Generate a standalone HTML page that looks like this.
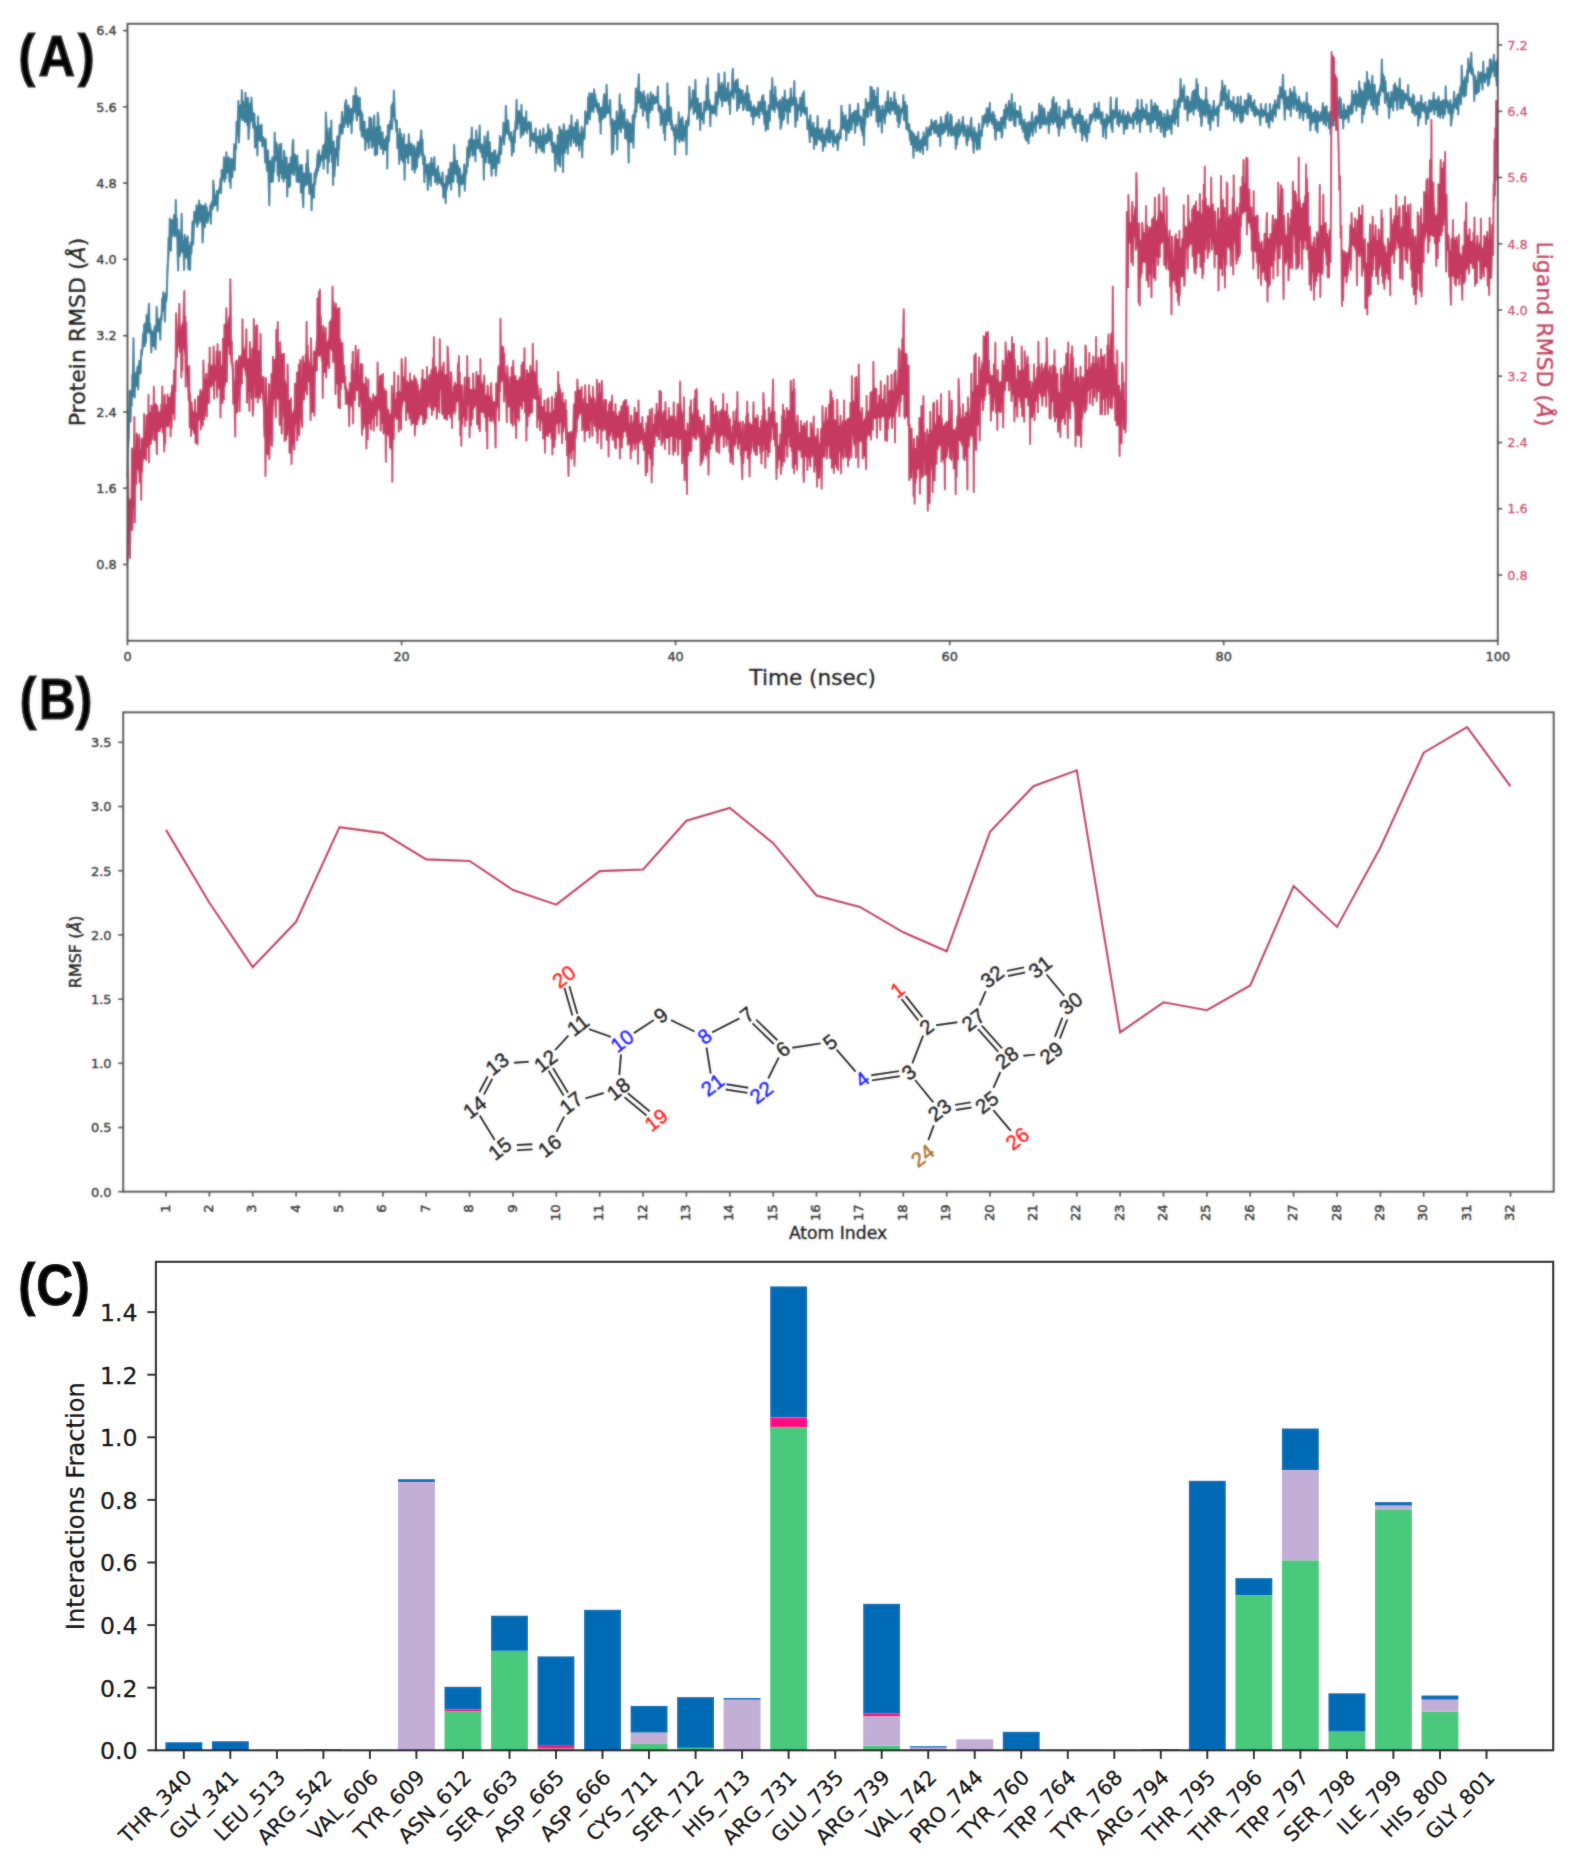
<!DOCTYPE html>
<html lang="en"><head><meta charset="utf-8"><title>MD simulation analysis</title>
<style>
html,body{margin:0;padding:0;background:#fff;}
body{width:1578px;height:1862px;overflow:hidden;}
svg{display:block;}
</style></head><body>
<svg width="1578" height="1862" viewBox="0 0 1578 1862">
<defs><filter id="soft" x="0" y="0" width="1578" height="1862" filterUnits="userSpaceOnUse"><feGaussianBlur stdDeviation="0.9"/></filter></defs>
<g id="figAB">
<rect x="0" y="0" width="1578" height="1250" fill="#fff"/>
<g id="panelA">
<path d="M132.1,375.1 L133.9,381.1 L135.7,370.8 L137.5,373.6 L139.3,366.1 L141.1,355.3 L142.9,344.5 L144.7,333.4 L146.5,321.9 L148.3,321.6 L150.1,326.6 L151.9,331.8 L153.7,335.2 L155.5,327.0 L157.3,322.7 L159.1,319.9 L160.9,313.7 L162.7,304.9 L164.5,300.5 L166.3,286.2 L168.1,264.6 L169.9,241.6 L171.7,227.5 L173.5,222.9 L175.3,222.1 L177.1,227.2 L178.9,236.1 L180.7,239.5 L182.5,237.7 L184.3,242.2 L186.1,245.1 L187.9,247.4 L189.7,249.3 L191.5,242.2 L193.3,228.0 L195.1,219.1 L196.9,213.1 L198.7,212.8 L200.5,215.2 L202.3,216.0 L204.1,217.3 L205.9,211.1 L207.7,213.2 L209.5,209.7 L211.3,204.2 L213.1,196.1 L214.9,196.2 L216.7,195.0 L218.5,191.4 L220.3,183.1 L222.1,173.9 L223.9,168.1 L225.7,167.0 L227.5,164.8 L229.3,170.0 L231.1,166.4 L232.9,158.7 L234.7,146.6 L236.5,133.5 L238.3,120.7 L240.1,109.4 L241.9,103.6 L243.7,99.9 L245.5,107.8 L247.3,108.5 L249.1,108.0 L250.9,108.7 L252.7,114.6 L254.5,119.4 L256.3,125.7 L258.1,127.4 L259.9,130.9 L261.7,135.1 L263.5,139.0 L265.3,147.7 L267.1,157.6 L268.9,160.5 L270.7,166.5 L272.5,162.0 L274.3,157.8 L276.1,152.2 L277.9,155.4 L279.7,155.2 L281.5,159.2 L283.3,160.3 L285.1,159.3 L286.9,167.9 L288.7,168.7 L290.5,163.6 L292.3,161.0 L294.1,155.8 L295.9,157.7 L297.7,165.6 L299.5,171.9 L301.3,171.9 L303.1,178.7 L304.9,174.1 L306.7,171.9 L308.5,172.3 L310.3,178.5 L312.1,185.7 L313.9,182.3 L315.7,176.0 L317.5,167.2 L319.3,156.8 L321.1,153.7 L322.9,148.4 L324.7,141.6 L326.5,139.3 L328.3,134.9 L330.1,143.8 L331.9,144.6 L333.7,149.9 L335.5,155.8 L337.3,144.7 L339.1,137.0 L340.9,128.6 L342.7,118.6 L344.5,114.4 L346.3,110.8 L348.1,112.6 L349.9,111.7 L351.7,112.1 L353.5,103.5 L355.3,100.1 L357.1,105.2 L358.9,106.4 L360.7,113.3 L362.5,122.1 L364.3,127.8 L366.1,129.3 L367.9,127.3 L369.7,130.9 L371.5,129.5 L373.3,130.7 L375.1,126.8 L376.9,130.5 L378.7,132.2 L380.5,131.9 L382.3,138.5 L384.1,140.2 L385.9,140.2 L387.7,138.7 L389.5,127.6 L391.3,115.4 L393.1,111.5 L394.9,112.7 L396.7,123.6 L398.5,134.2 L400.3,140.6 L402.1,147.1 L403.9,150.3 L405.7,144.5 L407.5,145.9 L409.3,145.2 L411.1,150.6 L412.9,152.5 L414.7,152.7 L416.5,153.1 L418.3,144.9 L420.1,146.7 L421.9,147.8 L423.7,156.9 L425.5,168.0 L427.3,169.3 L429.1,174.4 L430.9,167.0 L432.7,170.8 L434.5,166.5 L436.3,169.9 L438.1,173.3 L439.9,175.4 L441.7,179.4 L443.5,183.2 L445.3,183.2 L447.1,182.0 L448.9,176.5 L450.7,170.4 L452.5,166.1 L454.3,160.0 L456.1,167.4 L457.9,169.5 L459.7,174.1 L461.5,175.6 L463.3,171.8 L465.1,169.4 L466.9,159.9 L468.7,152.7 L470.5,143.9 L472.3,139.3 L474.1,139.5 L475.9,139.3 L477.7,139.7 L479.5,132.9 L481.3,143.8 L483.1,143.5 L484.9,148.5 L486.7,148.9 L488.5,146.2 L490.3,153.4 L492.1,159.0 L493.9,158.3 L495.7,155.9 L497.5,153.8 L499.3,144.1 L501.1,139.0 L502.9,133.7 L504.7,126.4 L506.5,123.9 L508.3,125.6 L510.1,133.8 L511.9,137.8 L513.7,134.6 L515.5,125.3 L517.3,117.2 L519.1,113.2 L520.9,114.4 L522.7,115.5 L524.5,116.9 L526.3,121.1 L528.1,123.3 L529.9,128.6 L531.7,132.0 L533.5,132.9 L535.3,134.4 L537.1,137.5 L538.9,134.8 L540.7,137.4 L542.5,133.8 L544.3,135.7 L546.1,132.7 L547.9,131.3 L549.7,133.7 L551.5,138.9 L553.3,143.9 L555.1,149.1 L556.9,149.1 L558.7,144.5 L560.5,138.5 L562.3,142.4 L564.1,143.3 L565.9,139.2 L567.7,136.5 L569.5,128.3 L571.3,124.8 L573.1,128.2 L574.9,131.3 L576.7,129.2 L578.5,131.1 L580.3,134.1 L582.1,133.7 L583.9,126.5 L585.7,120.1 L587.5,110.9 L589.3,102.8 L591.1,101.1 L592.9,100.2 L594.7,100.9 L596.5,104.4 L598.3,110.1 L600.1,109.4 L601.9,110.3 L603.7,106.6 L605.5,101.2 L607.3,102.5 L609.1,107.7 L610.9,118.4 L612.7,124.6 L614.5,123.5 L616.3,126.5 L618.1,115.4 L619.9,111.1 L621.7,111.6 L623.5,117.0 L625.3,123.7 L627.1,130.2 L628.9,129.6 L630.7,129.7 L632.5,124.1 L634.3,112.9 L636.1,98.5 L637.9,92.6 L639.7,92.0 L641.5,91.4 L643.3,97.7 L645.1,100.7 L646.9,103.4 L648.7,103.7 L650.5,100.8 L652.3,97.4 L654.1,97.5 L655.9,96.7 L657.7,98.4 L659.5,104.8 L661.3,112.4 L663.1,115.6 L664.9,114.8 L666.7,104.8 L668.5,104.7 L670.3,112.4 L672.1,119.1 L673.9,126.8 L675.7,128.7 L677.5,128.8 L679.3,126.6 L681.1,125.2 L682.9,126.1 L684.7,127.4 L686.5,121.5 L688.3,112.2 L690.1,105.8 L691.9,98.1 L693.7,93.7 L695.5,95.5 L697.3,100.0 L699.1,107.0 L700.9,109.3 L702.7,113.0 L704.5,105.4 L706.3,98.3 L708.1,98.5 L709.9,101.4 L711.7,107.4 L713.5,106.9 L715.3,100.5 L717.1,90.7 L718.9,90.6 L720.7,87.5 L722.5,84.3 L724.3,84.7 L726.1,87.2 L727.9,90.4 L729.7,92.9 L731.5,89.0 L733.3,86.3 L735.1,82.6 L736.9,88.0 L738.7,94.6 L740.5,93.8 L742.3,94.8 L744.1,95.6 L745.9,96.0 L747.7,97.9 L749.5,102.4 L751.3,106.0 L753.1,110.8 L754.9,111.9 L756.7,109.8 L758.5,106.4 L760.3,105.6 L762.1,104.8 L763.9,105.6 L765.7,109.6 L767.5,111.1 L769.3,106.1 L771.1,98.4 L772.9,97.7 L774.7,95.0 L776.5,98.4 L778.3,104.8 L780.1,106.0 L781.9,104.1 L783.7,102.5 L785.5,103.2 L787.3,103.0 L789.1,102.8 L790.9,97.0 L792.7,97.0 L794.5,98.9 L796.3,103.5 L798.1,104.7 L799.9,102.9 L801.7,100.9 L803.5,103.3 L805.3,108.2 L807.1,114.2 L808.9,120.1 L810.7,124.1 L812.5,126.8 L814.3,130.9 L816.1,127.1 L817.9,127.2 L819.7,128.1 L821.5,134.2 L823.3,137.5 L825.1,134.4 L826.9,134.0 L828.7,129.5 L830.5,132.4 L832.3,133.9 L834.1,136.6 L835.9,138.7 L837.7,134.4 L839.5,129.5 L841.3,120.8 L843.1,118.3 L844.9,121.5 L846.7,120.6 L848.5,118.1 L850.3,117.6 L852.1,115.3 L853.9,116.2 L855.7,116.5 L857.5,111.3 L859.3,115.8 L861.1,115.3 L862.9,119.6 L864.7,111.6 L866.5,108.4 L868.3,101.5 L870.1,101.4 L871.9,95.6 L873.7,97.0 L875.5,101.9 L877.3,101.6 L879.1,107.4 L880.9,113.2 L882.7,111.2 L884.5,109.9 L886.3,102.6 L888.1,101.3 L889.9,101.8 L891.7,101.7 L893.5,101.2 L895.3,102.2 L897.1,106.1 L898.9,111.3 L900.7,108.6 L902.5,106.2 L904.3,110.4 L906.1,111.9 L907.9,121.3 L909.7,129.7 L911.5,137.0 L913.3,139.4 L915.1,140.5 L916.9,139.6 L918.7,141.4 L920.5,139.2 L922.3,138.7 L924.1,137.1 L925.9,135.9 L927.7,132.6 L929.5,128.7 L931.3,125.8 L933.1,125.8 L934.9,125.6 L936.7,125.0 L938.5,125.4 L940.3,127.7 L942.1,124.9 L943.9,125.1 L945.7,120.7 L947.5,120.8 L949.3,122.6 L951.1,123.0 L952.9,125.9 L954.7,128.3 L956.5,129.8 L958.3,129.9 L960.1,126.2 L961.9,124.5 L963.7,125.9 L965.5,128.1 L967.3,130.2 L969.1,129.2 L970.9,129.3 L972.7,129.5 L974.5,133.5 L976.3,135.7 L978.1,135.1 L979.9,130.4 L981.7,127.9 L983.5,121.9 L985.3,119.2 L987.1,113.8 L988.9,111.8 L990.7,113.6 L992.5,116.9 L994.3,120.7 L996.1,123.0 L997.9,125.5 L999.7,125.9 L1001.5,123.1 L1003.3,119.6 L1005.1,112.1 L1006.9,111.5 L1008.7,107.3 L1010.5,103.1 L1012.3,108.6 L1014.1,108.6 L1015.9,109.5 L1017.7,112.6 L1019.5,112.5 L1021.3,115.1 L1023.1,122.3 L1024.9,124.5 L1026.7,126.6 L1028.5,127.5 L1030.3,128.1 L1032.1,122.5 L1033.9,121.7 L1035.7,119.8 L1037.5,116.6 L1039.3,114.0 L1041.1,109.5 L1042.9,113.0 L1044.7,114.4 L1046.5,117.1 L1048.3,119.6 L1050.1,116.1 L1051.9,111.9 L1053.7,106.9 L1055.5,108.9 L1057.3,113.1 L1059.1,115.4 L1060.9,117.5 L1062.7,115.9 L1064.5,112.6 L1066.3,110.1 L1068.1,107.8 L1069.9,110.5 L1071.7,112.9 L1073.5,114.8 L1075.3,116.9 L1077.1,118.6 L1078.9,116.5 L1080.7,120.8 L1082.5,124.2 L1084.3,126.8 L1086.1,124.3 L1087.9,126.2 L1089.7,120.1 L1091.5,119.6 L1093.3,113.4 L1095.1,109.9 L1096.9,107.9 L1098.7,111.0 L1100.5,115.3 L1102.3,117.6 L1104.1,121.9 L1105.9,121.3 L1107.7,116.9 L1109.5,115.4 L1111.3,113.8 L1113.1,111.5 L1114.9,111.2 L1116.7,112.2 L1118.5,112.0 L1120.3,115.5 L1122.1,119.2 L1123.9,120.3 L1125.7,119.4 L1127.5,118.9 L1129.3,118.4 L1131.1,118.4 L1132.9,118.3 L1134.7,114.9 L1136.5,111.6 L1138.3,114.3 L1140.1,112.2 L1141.9,113.9 L1143.7,109.5 L1145.5,109.7 L1147.3,110.7 L1149.1,113.0 L1150.9,110.5 L1152.7,111.6 L1154.5,112.4 L1156.3,115.3 L1158.1,115.4 L1159.9,117.6 L1161.7,117.5 L1163.5,120.7 L1165.3,118.3 L1167.1,120.2 L1168.9,119.6 L1170.7,120.1 L1172.5,112.2 L1174.3,111.0 L1176.1,108.1 L1177.9,103.5 L1179.7,98.2 L1181.5,91.6 L1183.3,90.9 L1185.1,98.8 L1186.9,99.9 L1188.7,104.1 L1190.5,101.7 L1192.3,99.3 L1194.1,92.8 L1195.9,93.6 L1197.7,95.3 L1199.5,101.8 L1201.3,106.8 L1203.1,102.0 L1204.9,99.4 L1206.7,103.5 L1208.5,109.2 L1210.3,110.7 L1212.1,112.0 L1213.9,110.0 L1215.7,112.3 L1217.5,108.7 L1219.3,102.7 L1221.1,98.1 L1222.9,90.3 L1224.7,94.6 L1226.5,92.8 L1228.3,96.2 L1230.1,99.6 L1231.9,101.0 L1233.7,103.2 L1235.5,104.4 L1237.3,102.5 L1239.1,104.0 L1240.9,105.1 L1242.7,106.6 L1244.5,106.2 L1246.3,101.7 L1248.1,101.4 L1249.9,100.1 L1251.7,103.4 L1253.5,103.4 L1255.3,107.9 L1257.1,108.4 L1258.9,109.3 L1260.7,111.9 L1262.5,109.7 L1264.3,110.9 L1266.1,110.6 L1267.9,112.8 L1269.7,112.3 L1271.5,109.5 L1273.3,108.4 L1275.1,105.8 L1276.9,102.7 L1278.7,98.5 L1280.5,91.0 L1282.3,88.4 L1284.1,94.3 L1285.9,98.2 L1287.7,100.0 L1289.5,99.3 L1291.3,96.3 L1293.1,96.7 L1294.9,96.9 L1296.7,99.5 L1298.5,101.5 L1300.3,105.8 L1302.1,106.4 L1303.9,108.0 L1305.7,106.3 L1307.5,104.9 L1309.3,107.2 L1311.1,112.7 L1312.9,115.7 L1314.7,116.5 L1316.5,120.2 L1318.3,116.2 L1320.1,114.7 L1321.9,111.8 L1323.7,111.9 L1325.5,110.4 L1327.3,112.8 L1329.1,115.3 L1330.9,114.4 L1332.7,108.3 L1334.5,108.4 L1336.3,108.4 L1338.1,105.8 L1339.9,106.0 L1341.7,109.0 L1343.5,112.0 L1345.3,110.9 L1347.1,111.5 L1348.9,106.9 L1350.7,102.3 L1352.5,101.2 L1354.3,98.8 L1356.1,96.7 L1357.9,92.9 L1359.7,96.3 L1361.5,98.0 L1363.3,98.3 L1365.1,90.3 L1366.9,83.6 L1368.7,85.0 L1370.5,83.4 L1372.3,87.1 L1374.1,91.3 L1375.9,95.0 L1377.7,93.8 L1379.5,86.0 L1381.3,79.0 L1383.1,77.4 L1384.9,86.7 L1386.7,92.3 L1388.5,100.3 L1390.3,99.5 L1392.1,99.6 L1393.9,93.3 L1395.7,93.8 L1397.5,90.2 L1399.3,89.7 L1401.1,93.3 L1402.9,94.1 L1404.7,94.5 L1406.5,94.2 L1408.3,95.3 L1410.1,96.7 L1411.9,98.2 L1413.7,102.5 L1415.5,106.7 L1417.3,108.7 L1419.1,106.6 L1420.9,106.0 L1422.7,105.7 L1424.5,105.7 L1426.3,107.9 L1428.1,105.6 L1429.9,104.7 L1431.7,105.2 L1433.5,101.0 L1435.3,101.4 L1437.1,101.5 L1438.9,103.8 L1440.7,104.2 L1442.5,103.4 L1444.3,103.5 L1446.1,98.7 L1447.9,101.6 L1449.7,103.3 L1451.5,104.7 L1453.3,101.9 L1455.1,98.1 L1456.9,99.3 L1458.7,94.4 L1460.5,87.6 L1462.3,80.8 L1464.1,82.1 L1465.9,77.7 L1467.7,73.9 L1469.5,63.6 L1471.3,65.3 L1473.1,71.4 L1474.9,78.2 L1476.7,80.8 L1478.5,77.6 L1480.3,72.8 L1482.1,74.4 L1483.9,74.8 L1485.7,73.5 L1487.5,70.9 L1489.3,70.8 L1491.1,66.0 L1492.9,64.5 L1494.7,63.6 L1496.5,65.1 L1496.5,74.0 L1494.7,70.3 L1492.9,71.7 L1491.1,76.9 L1489.3,76.0 L1487.5,79.1 L1485.7,78.7 L1483.9,80.4 L1482.1,81.8 L1480.3,83.5 L1478.5,85.0 L1476.7,88.5 L1474.9,86.3 L1473.1,75.7 L1471.3,73.8 L1469.5,71.5 L1467.7,79.9 L1465.9,83.7 L1464.1,91.1 L1462.3,95.0 L1460.5,97.3 L1458.7,101.5 L1456.9,107.7 L1455.1,107.5 L1453.3,109.3 L1451.5,116.9 L1449.7,113.0 L1447.9,107.9 L1446.1,107.8 L1444.3,109.5 L1442.5,108.3 L1440.7,109.7 L1438.9,111.7 L1437.1,110.7 L1435.3,105.5 L1433.5,108.0 L1431.7,111.8 L1429.9,112.6 L1428.1,112.9 L1426.3,116.7 L1424.5,113.1 L1422.7,111.2 L1420.9,112.2 L1419.1,114.8 L1417.3,115.8 L1415.5,114.4 L1413.7,107.3 L1411.9,105.1 L1410.1,99.5 L1408.3,99.0 L1406.5,99.3 L1404.7,101.1 L1402.9,100.3 L1401.1,102.6 L1399.3,99.9 L1397.5,99.9 L1395.7,100.6 L1393.9,98.9 L1392.1,105.7 L1390.3,109.0 L1388.5,106.1 L1386.7,100.6 L1384.9,93.6 L1383.1,86.2 L1381.3,91.5 L1379.5,98.5 L1377.7,103.5 L1375.9,105.7 L1374.1,101.9 L1372.3,96.1 L1370.5,93.5 L1368.7,97.2 L1366.9,97.9 L1365.1,101.6 L1363.3,107.3 L1361.5,104.5 L1359.7,104.7 L1357.9,102.2 L1356.1,105.0 L1354.3,105.4 L1352.5,107.7 L1350.7,110.9 L1348.9,114.3 L1347.1,117.9 L1345.3,120.6 L1343.5,118.6 L1341.7,117.4 L1339.9,111.2 L1338.1,113.1 L1336.3,116.0 L1334.5,116.9 L1332.7,120.6 L1330.9,121.5 L1329.1,124.4 L1327.3,121.2 L1325.5,119.4 L1323.7,117.6 L1321.9,119.9 L1320.1,122.7 L1318.3,121.1 L1316.5,124.9 L1314.7,123.0 L1312.9,122.3 L1311.1,119.4 L1309.3,116.7 L1307.5,113.3 L1305.7,112.4 L1303.9,113.1 L1302.1,113.2 L1300.3,111.8 L1298.5,109.3 L1296.7,107.0 L1294.9,103.3 L1293.1,102.0 L1291.3,105.4 L1289.5,107.3 L1287.7,109.2 L1285.9,105.4 L1284.1,102.3 L1282.3,99.1 L1280.5,98.2 L1278.7,105.6 L1276.9,108.9 L1275.1,110.4 L1273.3,114.2 L1271.5,117.7 L1269.7,119.9 L1267.9,118.7 L1266.1,116.8 L1264.3,116.3 L1262.5,118.2 L1260.7,116.4 L1258.9,115.9 L1257.1,113.0 L1255.3,112.6 L1253.5,111.1 L1251.7,108.9 L1249.9,107.2 L1248.1,108.5 L1246.3,108.3 L1244.5,111.5 L1242.7,110.6 L1240.9,114.3 L1239.1,110.9 L1237.3,111.2 L1235.5,109.5 L1233.7,112.5 L1231.9,106.9 L1230.1,104.8 L1228.3,104.4 L1226.5,99.0 L1224.7,100.7 L1222.9,101.5 L1221.1,103.0 L1219.3,112.5 L1217.5,114.8 L1215.7,115.4 L1213.9,115.8 L1212.1,116.2 L1210.3,120.2 L1208.5,117.0 L1206.7,112.1 L1204.9,110.8 L1203.1,112.8 L1201.3,113.1 L1199.5,110.0 L1197.7,104.4 L1195.9,104.6 L1194.1,103.4 L1192.3,107.7 L1190.5,110.2 L1188.7,111.7 L1186.9,108.5 L1185.1,105.2 L1183.3,100.2 L1181.5,99.1 L1179.7,107.2 L1177.9,110.8 L1176.1,115.5 L1174.3,118.5 L1172.5,121.4 L1170.7,123.5 L1168.9,124.7 L1167.1,124.8 L1165.3,126.7 L1163.5,127.5 L1161.7,123.6 L1159.9,124.4 L1158.1,120.7 L1156.3,121.4 L1154.5,120.3 L1152.7,119.5 L1150.9,121.4 L1149.1,119.6 L1147.3,117.5 L1145.5,116.9 L1143.7,115.7 L1141.9,117.9 L1140.1,118.9 L1138.3,122.9 L1136.5,121.4 L1134.7,119.6 L1132.9,122.6 L1131.1,124.6 L1129.3,123.3 L1127.5,123.5 L1125.7,124.0 L1123.9,126.1 L1122.1,122.3 L1120.3,122.9 L1118.5,117.6 L1116.7,117.8 L1114.9,117.6 L1113.1,120.7 L1111.3,124.7 L1109.5,122.7 L1107.7,127.1 L1105.9,129.0 L1104.1,128.9 L1102.3,124.8 L1100.5,119.1 L1098.7,113.7 L1096.9,114.6 L1095.1,114.3 L1093.3,119.1 L1091.5,123.7 L1089.7,127.2 L1087.9,130.5 L1086.1,132.0 L1084.3,134.6 L1082.5,129.0 L1080.7,126.8 L1078.9,124.0 L1077.1,124.8 L1075.3,123.7 L1073.5,121.7 L1071.7,118.6 L1069.9,117.2 L1068.1,114.9 L1066.3,118.3 L1064.5,120.2 L1062.7,126.3 L1060.9,124.5 L1059.1,122.6 L1057.3,119.7 L1055.5,119.3 L1053.7,115.0 L1051.9,117.4 L1050.1,122.9 L1048.3,122.9 L1046.5,123.9 L1044.7,121.8 L1042.9,118.1 L1041.1,121.0 L1039.3,122.3 L1037.5,124.6 L1035.7,126.7 L1033.9,126.9 L1032.1,131.3 L1030.3,133.4 L1028.5,134.9 L1026.7,135.0 L1024.9,132.2 L1023.1,126.9 L1021.3,122.7 L1019.5,118.1 L1017.7,118.2 L1015.9,116.5 L1014.1,115.7 L1012.3,115.0 L1010.5,112.5 L1008.7,113.5 L1006.9,118.4 L1005.1,119.4 L1003.3,124.4 L1001.5,130.3 L999.7,131.8 L997.9,130.9 L996.1,130.5 L994.3,126.7 L992.5,121.0 L990.7,118.7 L988.9,119.1 L987.1,122.3 L985.3,123.4 L983.5,127.7 L981.7,131.5 L979.9,135.4 L978.1,140.6 L976.3,142.5 L974.5,141.2 L972.7,141.5 L970.9,137.9 L969.1,135.0 L967.3,135.2 L965.5,133.3 L963.7,131.6 L961.9,132.1 L960.1,131.7 L958.3,132.8 L956.5,137.0 L954.7,136.4 L952.9,133.9 L951.1,130.7 L949.3,128.4 L947.5,128.5 L945.7,131.2 L943.9,131.5 L942.1,135.4 L940.3,134.0 L938.5,133.8 L936.7,131.0 L934.9,129.3 L933.1,129.0 L931.3,131.7 L929.5,136.0 L927.7,138.4 L925.9,142.8 L924.1,146.4 L922.3,147.2 L920.5,145.5 L918.7,146.3 L916.9,144.9 L915.1,148.9 L913.3,146.9 L911.5,141.5 L909.7,136.4 L907.9,126.8 L906.1,120.9 L904.3,114.7 L902.5,112.8 L900.7,116.2 L898.9,117.4 L897.1,114.4 L895.3,108.5 L893.5,108.7 L891.7,107.6 L889.9,108.3 L888.1,105.8 L886.3,108.2 L884.5,112.9 L882.7,117.8 L880.9,116.1 L879.1,116.5 L877.3,113.7 L875.5,106.0 L873.7,103.7 L871.9,106.8 L870.1,106.6 L868.3,109.2 L866.5,116.2 L864.7,125.8 L862.9,127.6 L861.1,128.3 L859.3,121.1 L857.5,121.8 L855.7,123.9 L853.9,122.4 L852.1,125.0 L850.3,125.9 L848.5,123.9 L846.7,127.5 L844.9,131.4 L843.1,127.7 L841.3,131.7 L839.5,134.7 L837.7,141.9 L835.9,142.4 L834.1,143.6 L832.3,137.4 L830.5,137.6 L828.7,137.6 L826.9,140.6 L825.1,142.2 L823.3,143.2 L821.5,142.8 L819.7,140.7 L817.9,138.3 L816.1,136.9 L814.3,138.9 L812.5,138.2 L810.7,132.4 L808.9,127.7 L807.1,122.4 L805.3,112.1 L803.5,109.2 L801.7,106.0 L799.9,110.1 L798.1,112.4 L796.3,110.7 L794.5,106.1 L792.7,104.6 L790.9,107.3 L789.1,109.8 L787.3,113.3 L785.5,111.4 L783.7,109.8 L781.9,113.5 L780.1,113.1 L778.3,111.7 L776.5,107.5 L774.7,104.3 L772.9,103.6 L771.1,111.6 L769.3,115.5 L767.5,117.7 L765.7,115.7 L763.9,113.9 L762.1,111.3 L760.3,111.7 L758.5,112.7 L756.7,115.9 L754.9,115.3 L753.1,116.0 L751.3,113.2 L749.5,108.5 L747.7,103.2 L745.9,103.5 L744.1,102.3 L742.3,103.3 L740.5,101.8 L738.7,100.4 L736.9,97.1 L735.1,92.0 L733.3,94.2 L731.5,95.3 L729.7,101.5 L727.9,99.3 L726.1,94.8 L724.3,93.7 L722.5,94.3 L720.7,96.5 L718.9,98.2 L717.1,99.1 L715.3,108.7 L713.5,114.2 L711.7,114.6 L709.9,108.3 L708.1,107.1 L706.3,108.0 L704.5,113.3 L702.7,118.1 L700.9,116.6 L699.1,115.4 L697.3,110.5 L695.5,106.6 L693.7,100.6 L691.9,107.6 L690.1,111.6 L688.3,123.8 L686.5,132.6 L684.7,136.4 L682.9,135.9 L681.1,133.7 L679.3,133.8 L677.5,139.4 L675.7,138.3 L673.9,134.1 L672.1,125.3 L670.3,118.8 L668.5,117.1 L666.7,117.9 L664.9,121.8 L663.1,122.6 L661.3,119.6 L659.5,110.2 L657.7,103.9 L655.9,103.3 L654.1,104.7 L652.3,104.1 L650.5,107.0 L648.7,112.6 L646.9,108.9 L645.1,112.3 L643.3,107.3 L641.5,101.3 L639.7,98.4 L637.9,101.0 L636.1,109.5 L634.3,123.9 L632.5,136.2 L630.7,142.7 L628.9,145.4 L627.1,142.1 L625.3,135.2 L623.5,127.1 L621.7,123.0 L619.9,122.7 L618.1,126.8 L616.3,135.3 L614.5,134.3 L612.7,132.1 L610.9,124.2 L609.1,113.7 L607.3,109.6 L605.5,107.7 L603.7,117.2 L601.9,119.1 L600.1,119.9 L598.3,115.2 L596.5,109.0 L594.7,107.0 L592.9,105.9 L591.1,107.4 L589.3,114.2 L587.5,118.8 L585.7,127.3 L583.9,137.0 L582.1,140.7 L580.3,139.5 L578.5,141.0 L576.7,136.6 L574.9,137.6 L573.1,132.9 L571.3,138.0 L569.5,139.7 L567.7,145.6 L565.9,148.7 L564.1,148.9 L562.3,154.7 L560.5,152.0 L558.7,154.5 L556.9,159.6 L555.1,158.7 L553.3,152.4 L551.5,146.5 L549.7,139.1 L547.9,140.1 L546.1,139.0 L544.3,144.0 L542.5,142.1 L540.7,143.9 L538.9,145.0 L537.1,143.1 L535.3,141.7 L533.5,142.0 L531.7,137.3 L529.9,133.3 L528.1,128.0 L526.3,126.5 L524.5,124.9 L522.7,127.1 L520.9,124.4 L519.1,122.9 L517.3,127.2 L515.5,133.2 L513.7,141.4 L511.9,142.7 L510.1,142.4 L508.3,136.1 L506.5,130.5 L504.7,133.7 L502.9,138.5 L501.1,147.0 L499.3,156.4 L497.5,159.0 L495.7,164.8 L493.9,169.6 L492.1,163.1 L490.3,164.1 L488.5,157.1 L486.7,156.9 L484.9,159.1 L483.1,154.7 L481.3,151.3 L479.5,149.0 L477.7,149.6 L475.9,147.2 L474.1,148.4 L472.3,149.0 L470.5,152.2 L468.7,157.8 L466.9,169.1 L465.1,173.8 L463.3,180.3 L461.5,185.2 L459.7,186.2 L457.9,178.5 L456.1,175.6 L454.3,174.1 L452.5,172.0 L450.7,178.4 L448.9,184.3 L447.1,191.8 L445.3,192.3 L443.5,188.7 L441.7,187.6 L439.9,183.4 L438.1,178.8 L436.3,174.2 L434.5,176.0 L432.7,175.7 L430.9,179.2 L429.1,179.8 L427.3,178.3 L425.5,172.8 L423.7,162.1 L421.9,156.2 L420.1,152.3 L418.3,156.5 L416.5,161.7 L414.7,161.2 L412.9,159.6 L411.1,156.8 L409.3,154.8 L407.5,154.8 L405.7,159.3 L403.9,164.1 L402.1,161.9 L400.3,149.0 L398.5,146.2 L396.7,133.5 L394.9,120.8 L393.1,115.4 L391.3,121.1 L389.5,139.9 L387.7,151.2 L385.9,151.2 L384.1,150.6 L382.3,145.6 L380.5,140.8 L378.7,142.5 L376.9,140.4 L375.1,141.9 L373.3,141.7 L371.5,140.5 L369.7,138.0 L367.9,141.0 L366.1,139.1 L364.3,135.6 L362.5,130.4 L360.7,121.4 L358.9,115.6 L357.1,108.9 L355.3,110.9 L353.5,115.8 L351.7,117.4 L349.9,122.3 L348.1,118.1 L346.3,117.6 L344.5,121.7 L342.7,125.6 L340.9,135.4 L339.1,144.1 L337.3,156.0 L335.5,159.9 L333.7,160.7 L331.9,155.4 L330.1,154.5 L328.3,151.3 L326.5,148.9 L324.7,152.5 L322.9,156.0 L321.1,163.6 L319.3,167.8 L317.5,174.9 L315.7,181.2 L313.9,191.7 L312.1,194.4 L310.3,189.5 L308.5,181.6 L306.7,184.5 L304.9,187.6 L303.1,190.6 L301.3,184.8 L299.5,181.4 L297.7,177.3 L295.9,171.4 L294.1,167.8 L292.3,170.0 L290.5,174.4 L288.7,180.5 L286.9,180.5 L285.1,176.6 L283.3,173.3 L281.5,167.7 L279.7,167.8 L277.9,164.9 L276.1,159.5 L274.3,165.1 L272.5,169.5 L270.7,179.6 L268.9,174.4 L267.1,164.7 L265.3,157.1 L263.5,145.7 L261.7,141.1 L259.9,140.8 L258.1,141.0 L256.3,139.8 L254.5,133.1 L252.7,123.0 L250.9,120.4 L249.1,119.2 L247.3,118.9 L245.5,115.4 L243.7,108.6 L241.9,114.9 L240.1,119.2 L238.3,129.4 L236.5,141.7 L234.7,156.2 L232.9,170.7 L231.1,170.2 L229.3,173.5 L227.5,170.4 L225.7,169.4 L223.9,177.9 L222.1,182.3 L220.3,190.3 L218.5,197.1 L216.7,199.0 L214.9,204.1 L213.1,206.2 L211.3,210.4 L209.5,216.8 L207.7,218.7 L205.9,219.4 L204.1,223.4 L202.3,227.5 L200.5,222.4 L198.7,220.1 L196.9,219.7 L195.1,224.6 L193.3,234.9 L191.5,248.3 L189.7,257.6 L187.9,260.9 L186.1,257.7 L184.3,253.1 L182.5,250.0 L180.7,245.3 L178.9,247.5 L177.1,241.7 L175.3,229.1 L173.5,232.6 L171.7,239.6 L169.9,249.3 L168.1,274.2 L166.3,294.2 L164.5,306.5 L162.7,312.1 L160.9,320.8 L159.1,327.5 L157.3,332.4 L155.5,334.2 L153.7,338.3 L151.9,339.7 L150.1,332.2 L148.3,332.3 L146.5,334.7 L144.7,341.9 L142.9,351.0 L141.1,361.3 L139.3,374.4 L137.5,383.6 L135.7,385.6 L133.9,387.1 L132.1,393.3Z " fill="#3b7f9a" stroke="none"/>
<path d="M127.5,477.8 L128.1,447.2 L128.7,438.0 L129.3,413.7 L129.9,390.9 L130.5,421.5 L131.1,398.7 L131.7,405.4 L132.3,374.8 L132.9,374.5 L133.5,338.3 L134.1,396.4 L134.7,397.5 L135.2,374.6 L135.8,385.2 L136.4,385.9 L137.0,372.6 L137.6,366.5 L138.2,389.5 L138.8,367.7 L139.4,360.8 L140.0,367.2 L140.6,373.4 L141.2,350.4 L141.8,355.2 L142.4,349.0 L143.0,333.5 L143.6,340.0 L144.2,324.6 L144.8,346.1 L145.4,323.4 L146.0,342.6 L146.6,315.1 L147.2,322.1 L147.8,330.9 L148.4,313.1 L149.0,303.8 L149.5,332.9 L150.1,323.7 L150.7,332.4 L151.3,352.5 L151.9,331.1 L152.5,335.2 L153.1,342.0 L153.7,346.1 L154.3,328.9 L154.9,326.3 L155.5,349.2 L156.1,336.1 L156.7,307.1 L157.3,325.7 L157.9,318.3 L158.5,329.1 L159.1,331.7 L159.7,321.3 L160.3,339.7 L160.9,317.4 L161.5,320.3 L162.1,298.9 L162.7,301.5 L163.3,292.3 L163.9,310.7 L164.4,305.4 L165.0,321.7 L165.6,294.1 L166.2,301.4 L166.8,296.3 L167.4,269.8 L168.0,260.6 L168.6,237.7 L169.2,248.2 L169.8,218.5 L170.4,249.1 L171.0,250.7 L171.6,220.1 L172.2,235.8 L172.8,228.1 L173.4,226.7 L174.0,215.1 L174.6,236.5 L175.2,232.9 L175.8,200.0 L176.4,228.9 L177.0,218.6 L177.6,252.2 L178.2,270.5 L178.7,230.0 L179.3,243.0 L179.9,256.0 L180.5,244.8 L181.1,237.0 L181.7,213.8 L182.3,252.1 L182.9,250.3 L183.5,243.2 L184.1,269.9 L184.7,234.7 L185.3,257.5 L185.9,238.3 L186.5,239.6 L187.1,252.7 L187.7,236.3 L188.3,268.4 L188.9,269.4 L189.5,246.1 L190.1,270.1 L190.7,242.6 L191.3,253.6 L191.9,240.8 L192.5,221.6 L193.1,244.5 L193.6,233.3 L194.2,211.9 L194.8,221.4 L195.4,219.2 L196.0,212.3 L196.6,205.4 L197.2,226.8 L197.8,220.1 L198.4,223.6 L199.0,200.6 L199.6,211.1 L200.2,217.0 L200.8,204.9 L201.4,215.8 L202.0,205.7 L202.6,242.5 L203.2,231.2 L203.8,206.0 L204.4,225.5 L205.0,226.8 L205.6,203.8 L206.2,215.0 L206.8,207.6 L207.4,222.7 L207.9,220.4 L208.5,213.6 L209.1,213.8 L209.7,214.2 L210.3,205.4 L210.9,223.7 L211.5,202.4 L212.1,203.5 L212.7,208.9 L213.3,180.6 L213.9,188.4 L214.5,205.8 L215.1,195.5 L215.7,204.6 L216.3,199.3 L216.9,190.9 L217.5,210.8 L218.1,192.7 L218.7,193.4 L219.3,188.5 L219.9,187.0 L220.5,178.8 L221.1,193.0 L221.7,170.0 L222.2,172.2 L222.8,170.1 L223.4,174.7 L224.0,157.2 L224.6,181.6 L225.2,168.1 L225.8,178.4 L226.4,152.4 L227.0,173.0 L227.6,166.3 L228.2,169.3 L228.8,157.2 L229.4,181.6 L230.0,167.5 L230.6,187.9 L231.2,158.9 L231.8,163.8 L232.4,177.3 L233.0,159.3 L233.6,164.3 L234.2,144.3 L234.8,170.3 L235.4,145.9 L236.0,149.3 L236.6,121.8 L237.1,132.2 L237.7,127.8 L238.3,101.1 L238.9,142.5 L239.5,127.0 L240.1,105.6 L240.7,105.2 L241.3,116.6 L241.9,90.4 L242.5,120.3 L243.1,110.3 L243.7,111.0 L244.3,111.5 L244.9,121.9 L245.5,92.8 L246.1,121.5 L246.7,99.8 L247.3,125.3 L247.9,97.9 L248.5,139.2 L249.1,129.9 L249.7,122.5 L250.3,103.0 L250.9,120.5 L251.4,97.5 L252.0,107.0 L252.6,119.8 L253.2,127.7 L253.8,113.2 L254.4,113.9 L255.0,147.5 L255.6,132.1 L256.2,131.7 L256.8,135.4 L257.4,155.4 L258.0,116.4 L258.6,136.8 L259.2,128.5 L259.8,125.8 L260.4,140.9 L261.0,134.5 L261.6,124.9 L262.2,146.3 L262.8,137.3 L263.4,137.2 L264.0,140.5 L264.6,148.1 L265.2,162.4 L265.8,139.4 L266.3,156.0 L266.9,170.6 L267.5,150.3 L268.1,150.9 L268.7,181.5 L269.3,205.2 L269.9,160.8 L270.5,177.7 L271.1,181.9 L271.7,170.9 L272.3,157.2 L272.9,181.6 L273.5,169.5 L274.1,171.5 L274.7,132.5 L275.3,152.5 L275.9,142.3 L276.5,143.3 L277.1,147.6 L277.7,175.1 L278.3,160.7 L278.9,181.3 L279.5,144.5 L280.1,173.0 L280.6,160.8 L281.2,143.7 L281.8,178.1 L282.4,163.7 L283.0,170.2 L283.6,181.5 L284.2,150.9 L284.8,160.9 L285.4,178.0 L286.0,168.0 L286.6,157.5 L287.2,196.5 L287.8,176.6 L288.4,174.1 L289.0,163.8 L289.6,186.9 L290.2,184.8 L290.8,157.2 L291.4,173.8 L292.0,165.6 L292.6,143.3 L293.2,139.7 L293.8,174.9 L294.4,161.7 L295.0,154.5 L295.5,163.8 L296.1,164.7 L296.7,181.6 L297.3,155.6 L297.9,170.6 L298.5,182.2 L299.1,168.2 L299.7,174.0 L300.3,164.7 L300.9,192.4 L301.5,184.5 L302.1,165.4 L302.7,197.5 L303.3,207.1 L303.9,173.5 L304.5,185.8 L305.1,183.0 L305.7,180.6 L306.3,163.7 L306.9,184.6 L307.5,150.1 L308.1,166.1 L308.7,170.8 L309.3,193.8 L309.8,185.6 L310.4,189.0 L311.0,173.5 L311.6,210.3 L312.2,191.0 L312.8,195.0 L313.4,184.2 L314.0,197.8 L314.6,173.3 L315.2,184.3 L315.8,169.4 L316.4,175.2 L317.0,164.8 L317.6,154.0 L318.2,170.5 L318.8,150.6 L319.4,166.8 L320.0,157.0 L320.6,157.0 L321.2,160.3 L321.8,158.1 L322.4,152.8 L323.0,145.9 L323.6,168.8 L324.2,144.8 L324.7,144.8 L325.3,158.4 L325.9,112.5 L326.5,127.0 L327.1,131.7 L327.7,173.1 L328.3,138.7 L328.9,162.0 L329.5,128.4 L330.1,143.7 L330.7,147.2 L331.3,120.5 L331.9,161.8 L332.5,147.9 L333.1,185.1 L333.7,141.5 L334.3,176.1 L334.9,166.3 L335.5,148.7 L336.1,150.8 L336.7,151.0 L337.3,136.3 L337.9,165.4 L338.5,147.1 L339.0,149.4 L339.6,124.9 L340.2,135.3 L340.8,132.7 L341.4,127.3 L342.0,112.0 L342.6,133.4 L343.2,121.3 L343.8,118.3 L344.4,126.9 L345.0,104.0 L345.6,102.2 L346.2,100.0 L346.8,123.7 L347.4,116.5 L348.0,127.0 L348.6,105.6 L349.2,117.1 L349.8,114.9 L350.4,123.8 L351.0,108.8 L351.6,133.3 L352.2,111.7 L352.8,120.4 L353.4,96.0 L353.9,105.7 L354.5,98.2 L355.1,104.5 L355.7,87.9 L356.3,113.9 L356.9,120.4 L357.5,96.0 L358.1,105.5 L358.7,115.1 L359.3,110.5 L359.9,97.7 L360.5,129.9 L361.1,110.9 L361.7,136.6 L362.3,113.6 L362.9,125.1 L363.5,131.7 L364.1,138.5 L364.7,121.8 L365.3,150.1 L365.9,137.1 L366.5,137.2 L367.1,131.5 L367.7,141.8 L368.2,133.5 L368.8,147.9 L369.4,117.2 L370.0,139.9 L370.6,135.3 L371.2,118.3 L371.8,147.8 L372.4,136.2 L373.0,145.5 L373.6,129.1 L374.2,115.5 L374.8,154.3 L375.4,155.5 L376.0,127.7 L376.6,150.5 L377.2,154.2 L377.8,112.7 L378.4,118.0 L379.0,135.2 L379.6,144.8 L380.2,126.8 L380.8,148.6 L381.4,140.7 L382.0,135.2 L382.6,132.2 L383.1,153.9 L383.7,144.0 L384.3,140.7 L384.9,139.6 L385.5,143.9 L386.1,137.4 L386.7,136.4 L387.3,168.4 L387.9,125.1 L388.5,127.4 L389.1,141.1 L389.7,127.1 L390.3,121.4 L390.9,128.1 L391.5,105.6 L392.1,129.1 L392.7,103.0 L393.3,115.7 L393.9,90.5 L394.5,106.6 L395.1,120.6 L395.7,119.8 L396.3,131.2 L396.9,120.9 L397.4,148.0 L398.0,139.4 L398.6,141.4 L399.2,163.9 L399.8,128.7 L400.4,149.3 L401.0,133.8 L401.6,159.8 L402.2,140.2 L402.8,138.7 L403.4,157.7 L404.0,134.6 L404.6,179.8 L405.2,148.6 L405.8,149.2 L406.4,144.7 L407.0,157.4 L407.6,144.2 L408.2,163.2 L408.8,134.3 L409.4,143.5 L410.0,154.8 L410.6,144.7 L411.2,146.7 L411.7,143.7 L412.3,169.7 L412.9,151.9 L413.5,160.5 L414.1,145.6 L414.7,172.7 L415.3,158.0 L415.9,168.8 L416.5,147.8 L417.1,167.1 L417.7,141.8 L418.3,146.5 L418.9,157.1 L419.5,152.9 L420.1,140.8 L420.7,138.1 L421.3,130.4 L421.9,155.7 L422.5,139.6 L423.1,164.3 L423.7,154.6 L424.3,182.3 L424.9,157.0 L425.5,171.8 L426.1,164.7 L426.6,171.2 L427.2,164.6 L427.8,189.9 L428.4,173.0 L429.0,170.5 L429.6,163.6 L430.2,173.3 L430.8,186.0 L431.4,158.0 L432.0,171.1 L432.6,164.2 L433.2,171.5 L433.8,169.6 L434.4,157.0 L435.0,182.3 L435.6,169.5 L436.2,169.5 L436.8,174.1 L437.4,184.4 L438.0,166.3 L438.6,177.0 L439.2,173.0 L439.8,183.0 L440.4,178.9 L440.9,183.1 L441.5,181.3 L442.1,180.0 L442.7,172.2 L443.3,197.5 L443.9,183.3 L444.5,189.3 L445.1,187.6 L445.7,203.1 L446.3,176.0 L446.9,179.4 L447.5,184.1 L448.1,182.7 L448.7,169.3 L449.3,183.1 L449.9,178.2 L450.5,162.7 L451.1,189.8 L451.7,169.7 L452.3,162.9 L452.9,167.1 L453.5,181.9 L454.1,144.9 L454.7,155.3 L455.3,170.3 L455.8,168.8 L456.4,169.4 L457.0,160.7 L457.6,182.4 L458.2,165.9 L458.8,182.8 L459.4,196.5 L460.0,168.5 L460.6,184.2 L461.2,176.8 L461.8,179.9 L462.4,184.1 L463.0,181.1 L463.6,179.5 L464.2,164.6 L464.8,190.8 L465.4,177.3 L466.0,172.9 L466.6,172.8 L467.2,147.5 L467.8,166.3 L468.4,154.2 L469.0,140.5 L469.6,157.3 L470.1,139.2 L470.7,141.2 L471.3,142.1 L471.9,127.6 L472.5,155.6 L473.1,145.5 L473.7,154.7 L474.3,152.8 L474.9,142.4 L475.5,161.2 L476.1,130.5 L476.7,141.4 L477.3,146.7 L477.9,143.9 L478.5,141.1 L479.1,145.6 L479.7,125.6 L480.3,151.8 L480.9,149.6 L481.5,150.2 L482.1,157.0 L482.7,153.0 L483.3,150.4 L483.9,179.8 L484.5,136.5 L485.0,142.9 L485.6,162.5 L486.2,150.6 L486.8,153.4 L487.4,135.1 L488.0,131.5 L488.6,163.1 L489.2,148.2 L489.8,142.1 L490.4,158.3 L491.0,165.2 L491.6,175.7 L492.2,153.1 L492.8,164.8 L493.4,168.0 L494.0,150.8 L494.6,166.0 L495.2,150.3 L495.8,175.6 L496.4,168.7 L497.0,162.5 L497.6,156.8 L498.2,155.9 L498.8,157.1 L499.3,163.2 L499.9,136.1 L500.5,151.7 L501.1,154.2 L501.7,138.4 L502.3,139.1 L502.9,137.2 L503.5,122.7 L504.1,144.4 L504.7,136.2 L505.3,134.6 L505.9,105.7 L506.5,121.2 L507.1,130.7 L507.7,133.7 L508.3,120.5 L508.9,130.2 L509.5,139.1 L510.1,134.9 L510.7,134.3 L511.3,132.2 L511.9,155.7 L512.5,145.3 L513.1,139.5 L513.7,152.0 L514.2,130.3 L514.8,142.6 L515.4,123.2 L516.0,119.5 L516.6,100.0 L517.2,128.9 L517.8,121.7 L518.4,117.5 L519.0,111.0 L519.6,120.4 L520.2,116.4 L520.8,137.4 L521.4,104.9 L522.0,119.4 L522.6,130.4 L523.2,134.9 L523.8,132.0 L524.4,120.3 L525.0,123.5 L525.6,130.1 L526.2,111.3 L526.8,133.0 L527.4,126.4 L528.0,128.4 L528.5,123.2 L529.1,121.8 L529.7,125.0 L530.3,146.2 L530.9,122.7 L531.5,135.4 L532.1,137.0 L532.7,139.9 L533.3,135.0 L533.9,141.5 L534.5,133.4 L535.1,138.9 L535.7,128.5 L536.3,152.8 L536.9,138.8 L537.5,136.7 L538.1,138.9 L538.7,138.9 L539.3,148.3 L539.9,130.2 L540.5,136.6 L541.1,138.7 L541.7,151.4 L542.3,142.6 L542.9,139.5 L543.4,128.5 L544.0,152.8 L544.6,135.8 L545.2,136.9 L545.8,143.4 L546.4,137.5 L547.0,138.3 L547.6,142.6 L548.2,124.5 L548.8,140.5 L549.4,137.7 L550.0,140.4 L550.6,129.4 L551.2,145.2 L551.8,132.2 L552.4,152.0 L553.0,149.2 L553.6,146.5 L554.2,142.9 L554.8,157.7 L555.4,170.9 L556.0,145.6 L556.6,152.4 L557.2,152.8 L557.7,135.4 L558.3,164.3 L558.9,148.3 L559.5,126.9 L560.1,166.6 L560.7,144.2 L561.3,130.1 L561.9,142.2 L562.5,136.3 L563.1,172.1 L563.7,124.2 L564.3,127.1 L564.9,152.7 L565.5,131.7 L566.1,148.5 L566.7,141.6 L567.3,130.3 L567.9,153.8 L568.5,135.6 L569.1,134.0 L569.7,125.4 L570.3,135.8 L570.9,146.0 L571.5,115.3 L572.0,138.2 L572.6,135.2 L573.2,127.4 L573.8,142.8 L574.4,131.2 L575.0,134.0 L575.6,122.7 L576.2,146.2 L576.8,144.3 L577.4,119.9 L578.0,126.8 L578.6,133.7 L579.2,150.4 L579.8,134.3 L580.4,138.5 L581.0,144.8 L581.6,126.7 L582.2,157.4 L582.8,136.7 L583.4,139.8 L584.0,131.6 L584.6,138.5 L585.2,111.4 L585.8,116.6 L586.4,121.6 L586.9,113.4 L587.5,124.0 L588.1,97.3 L588.7,107.0 L589.3,93.3 L589.9,119.5 L590.5,107.6 L591.1,111.8 L591.7,93.3 L592.3,109.2 L592.9,99.5 L593.5,112.0 L594.1,89.4 L594.7,96.8 L595.3,94.5 L595.9,105.4 L596.5,100.0 L597.1,107.0 L597.7,112.2 L598.3,112.8 L598.9,103.6 L599.5,121.7 L600.1,109.5 L600.7,133.8 L601.2,107.6 L601.8,112.4 L602.4,119.5 L603.0,108.2 L603.6,99.3 L604.2,94.2 L604.8,117.7 L605.4,106.1 L606.0,115.6 L606.6,84.9 L607.2,101.5 L607.8,112.8 L608.4,107.8 L609.0,111.1 L609.6,113.2 L610.2,100.0 L610.8,125.2 L611.4,122.5 L612.0,154.4 L612.6,119.2 L613.2,152.2 L613.8,133.2 L614.4,124.8 L615.0,121.0 L615.6,132.7 L616.1,130.8 L616.7,111.6 L617.3,149.6 L617.9,117.4 L618.5,125.5 L619.1,128.8 L619.7,94.4 L620.3,120.5 L620.9,132.1 L621.5,105.3 L622.1,116.8 L622.7,114.0 L623.3,128.0 L623.9,114.0 L624.5,109.5 L625.1,138.4 L625.7,122.5 L626.3,126.3 L626.9,132.0 L627.5,119.9 L628.1,130.3 L628.7,162.8 L629.3,123.1 L629.9,138.7 L630.4,124.0 L631.0,136.1 L631.6,141.9 L632.2,136.5 L632.8,115.3 L633.4,147.8 L634.0,126.9 L634.6,110.6 L635.2,117.5 L635.8,88.6 L636.4,112.0 L637.0,98.0 L637.6,103.5 L638.2,88.1 L638.8,74.4 L639.4,102.3 L640.0,91.8 L640.6,108.0 L641.2,97.7 L641.8,94.9 L642.4,100.6 L643.0,115.8 L643.6,91.4 L644.2,100.9 L644.8,96.2 L645.3,107.8 L645.9,108.6 L646.5,110.4 L647.1,120.6 L647.7,94.4 L648.3,127.8 L648.9,99.4 L649.5,112.4 L650.1,112.1 L650.7,92.2 L651.3,102.8 L651.9,102.3 L652.5,109.9 L653.1,94.8 L653.7,101.4 L654.3,102.5 L654.9,103.4 L655.5,96.7 L656.1,101.6 L656.7,97.1 L657.3,99.7 L657.9,86.6 L658.5,110.1 L659.1,106.4 L659.6,112.2 L660.2,105.8 L660.8,125.5 L661.4,107.4 L662.0,112.6 L662.6,122.5 L663.2,115.1 L663.8,132.9 L664.4,109.6 L665.0,140.3 L665.6,111.9 L666.2,119.8 L666.8,124.7 L667.4,83.2 L668.0,119.9 L668.6,95.5 L669.2,121.4 L669.8,111.6 L670.4,124.7 L671.0,107.5 L671.6,129.2 L672.2,126.3 L672.8,130.5 L673.4,128.9 L674.0,135.3 L674.5,130.8 L675.1,154.6 L675.7,124.8 L676.3,140.0 L676.9,134.8 L677.5,132.2 L678.1,136.3 L678.7,112.4 L679.3,142.2 L679.9,127.5 L680.5,135.6 L681.1,118.8 L681.7,140.5 L682.3,117.0 L682.9,125.1 L683.5,141.0 L684.1,131.0 L684.7,126.5 L685.3,135.8 L685.9,121.0 L686.5,154.5 L687.1,121.8 L687.7,126.3 L688.3,122.0 L688.8,124.8 L689.4,86.9 L690.0,104.4 L690.6,100.9 L691.2,101.3 L691.8,104.3 L692.4,102.7 L693.0,90.4 L693.6,113.9 L694.2,106.7 L694.8,111.7 L695.4,80.1 L696.0,105.4 L696.6,103.6 L697.2,119.0 L697.8,98.5 L698.4,116.8 L699.0,109.5 L699.6,103.8 L700.2,130.0 L700.8,103.1 L701.4,112.5 L702.0,119.2 L702.6,117.8 L703.2,117.0 L703.7,123.5 L704.3,101.8 L704.9,112.1 L705.5,105.0 L706.1,109.9 L706.7,85.4 L707.3,105.3 L707.9,78.2 L708.5,109.8 L709.1,99.8 L709.7,102.8 L710.3,126.3 L710.9,105.6 L711.5,110.9 L712.1,105.8 L712.7,112.8 L713.3,112.2 L713.9,113.3 L714.5,105.2 L715.1,111.5 L715.7,92.3 L716.3,115.8 L716.9,101.8 L717.5,101.5 L718.0,104.2 L718.6,73.5 L719.2,88.8 L719.8,91.6 L720.4,86.2 L721.0,100.3 L721.6,82.8 L722.2,106.3 L722.8,86.3 L723.4,93.3 L724.0,100.4 L724.6,72.5 L725.2,101.1 L725.8,88.9 L726.4,100.7 L727.0,95.0 L727.6,88.9 L728.2,82.8 L728.8,104.4 L729.4,98.3 L730.0,114.0 L730.6,92.3 L731.2,90.8 L731.8,95.8 L732.3,75.8 L732.9,68.7 L733.5,98.5 L734.1,82.7 L734.7,87.3 L735.3,91.7 L735.9,80.5 L736.5,82.2 L737.1,110.8 L737.7,79.2 L738.3,92.1 L738.9,107.9 L739.5,88.8 L740.1,103.5 L740.7,90.2 L741.3,102.5 L741.9,97.9 L742.5,90.3 L743.1,110.2 L743.7,107.8 L744.3,98.7 L744.9,99.8 L745.5,93.4 L746.1,102.7 L746.7,110.1 L747.2,85.7 L747.8,99.4 L748.4,110.8 L749.0,94.0 L749.6,106.4 L750.2,110.5 L750.8,101.6 L751.4,116.1 L752.0,111.2 L752.6,107.5 L753.2,124.5 L753.8,105.5 L754.4,117.1 L755.0,108.3 L755.6,110.4 L756.2,111.1 L756.8,115.8 L757.4,106.9 L758.0,108.5 L758.6,101.7 L759.2,117.9 L759.8,106.3 L760.4,103.6 L761.0,101.5 L761.5,104.6 L762.1,96.6 L762.7,114.0 L763.3,95.1 L763.9,113.3 L764.5,124.1 L765.1,101.9 L765.7,130.8 L766.3,124.0 L766.9,122.7 L767.5,111.7 L768.1,129.1 L768.7,105.6 L769.3,104.8 L769.9,120.7 L770.5,90.9 L771.1,97.4 L771.7,95.8 L772.3,78.2 L772.9,109.8 L773.5,97.9 L774.1,95.6 L774.7,111.9 L775.3,86.7 L775.9,103.5 L776.4,97.7 L777.0,106.3 L777.6,107.4 L778.2,102.3 L778.8,107.2 L779.4,117.9 L780.0,100.0 L780.6,128.9 L781.2,126.3 L781.8,122.5 L782.4,97.4 L783.0,111.5 L783.6,119.6 L784.2,115.7 L784.8,90.5 L785.4,104.4 L786.0,104.9 L786.6,109.0 L787.2,99.9 L787.8,123.4 L788.4,105.0 L789.0,104.3 L789.6,97.9 L790.2,112.0 L790.7,88.5 L791.3,99.7 L791.9,105.3 L792.5,99.3 L793.1,100.8 L793.7,98.8 L794.3,81.1 L794.9,111.8 L795.5,127.0 L796.1,98.1 L796.7,103.9 L797.3,120.4 L797.9,108.6 L798.5,105.7 L799.1,106.8 L799.7,105.0 L800.3,97.9 L800.9,116.0 L801.5,110.8 L802.1,99.4 L802.7,93.7 L803.3,112.1 L803.9,91.3 L804.5,107.8 L805.1,114.1 L805.6,114.5 L806.2,108.2 L806.8,107.5 L807.4,129.2 L808.0,121.4 L808.6,123.4 L809.2,131.1 L809.8,142.3 L810.4,115.2 L811.0,129.6 L811.6,133.5 L812.2,136.2 L812.8,129.9 L813.4,122.8 L814.0,149.0 L814.6,128.1 L815.2,133.9 L815.8,132.5 L816.4,144.8 L817.0,142.3 L817.6,116.1 L818.2,130.1 L818.8,135.3 L819.4,139.3 L819.9,131.4 L820.5,132.7 L821.1,129.7 L821.7,135.8 L822.3,128.4 L822.9,151.0 L823.5,134.6 L824.1,138.3 L824.7,139.1 L825.3,146.4 L825.9,130.2 L826.5,136.7 L827.1,128.4 L827.7,131.4 L828.3,142.2 L828.9,121.5 L829.5,119.9 L830.1,142.4 L830.7,131.2 L831.3,130.9 L831.9,135.8 L832.5,136.4 L833.1,146.4 L833.7,130.2 L834.3,140.0 L834.8,136.4 L835.4,139.0 L836.0,142.1 L836.6,143.8 L837.2,134.0 L837.8,150.2 L838.4,141.9 L839.0,139.3 L839.6,136.9 L840.2,136.3 L840.8,138.3 L841.4,105.8 L842.0,129.0 L842.6,112.6 L843.2,127.9 L843.8,120.9 L844.4,124.4 L845.0,116.3 L845.6,115.2 L846.2,140.5 L846.8,131.1 L847.4,129.6 L848.0,121.8 L848.6,121.2 L849.1,132.8 L849.7,104.8 L850.3,116.9 L850.9,123.8 L851.5,129.8 L852.1,118.5 L852.7,113.0 L853.3,118.3 L853.9,114.9 L854.5,111.3 L855.1,133.0 L855.7,119.2 L856.3,110.8 L856.9,122.0 L857.5,125.4 L858.1,103.7 L858.7,112.9 L859.3,116.1 L859.9,120.9 L860.5,124.1 L861.1,129.1 L861.7,130.5 L862.3,132.3 L862.9,135.5 L863.5,109.7 L864.0,144.9 L864.6,120.6 L865.2,125.2 L865.8,99.0 L866.4,116.9 L867.0,105.9 L867.6,102.9 L868.2,116.9 L868.8,107.5 L869.4,104.9 L870.0,108.5 L870.6,86.7 L871.2,115.6 L871.8,87.4 L872.4,99.9 L873.0,98.5 L873.6,110.2 L874.2,90.3 L874.8,107.1 L875.4,98.3 L876.0,97.1 L876.6,121.7 L877.2,98.9 L877.8,87.9 L878.3,126.7 L878.9,113.4 L879.5,106.0 L880.1,120.9 L880.7,110.4 L881.3,111.4 L881.9,132.8 L882.5,105.7 L883.1,112.1 L883.7,117.7 L884.3,111.7 L884.9,123.5 L885.5,102.0 L886.1,115.5 L886.7,103.0 L887.3,102.7 L887.9,91.3 L888.5,112.1 L889.1,108.5 L889.7,104.8 L890.3,114.1 L890.9,97.9 L891.5,108.1 L892.1,107.1 L892.7,110.4 L893.2,104.9 L893.8,108.6 L894.4,92.3 L895.0,114.0 L895.6,99.6 L896.2,104.2 L896.8,104.0 L897.4,121.2 L898.0,107.5 L898.6,127.3 L899.2,105.6 L899.8,123.4 L900.4,117.1 L901.0,111.1 L901.6,110.2 L902.2,110.4 L902.8,109.3 L903.4,95.2 L904.0,119.6 L904.6,120.3 L905.2,102.0 L905.8,118.5 L906.4,129.1 L907.0,105.6 L907.5,126.0 L908.1,124.3 L908.7,131.9 L909.3,124.6 L909.9,140.0 L910.5,130.2 L911.1,144.6 L911.7,140.7 L912.3,131.9 L912.9,142.4 L913.5,157.6 L914.1,134.1 L914.7,145.0 L915.3,145.7 L915.9,136.6 L916.5,151.1 L917.1,148.9 L917.7,140.6 L918.3,132.1 L918.9,150.2 L919.5,147.0 L920.1,152.1 L920.7,143.1 L921.3,148.0 L921.8,143.9 L922.4,137.7 L923.0,153.9 L923.6,132.2 L924.2,142.9 L924.8,142.9 L925.4,144.9 L926.0,141.1 L926.6,127.5 L927.2,150.0 L927.8,130.6 L928.4,135.9 L929.0,129.8 L929.6,126.9 L930.2,126.2 L930.8,135.1 L931.4,119.7 L932.0,124.0 L932.6,122.5 L933.2,128.9 L933.8,128.3 L934.4,133.3 L935.0,121.3 L935.6,126.1 L936.2,120.6 L936.7,133.3 L937.3,127.3 L937.9,136.5 L938.5,126.1 L939.1,124.6 L939.7,124.1 L940.3,146.0 L940.9,117.1 L941.5,121.7 L942.1,125.8 L942.7,134.0 L943.3,131.8 L943.9,123.8 L944.5,132.3 L945.1,129.4 L945.7,115.4 L946.3,126.0 L946.9,127.2 L947.5,112.2 L948.1,135.7 L948.7,125.2 L949.3,128.6 L949.9,132.3 L950.5,114.3 L951.0,135.8 L951.6,116.0 L952.2,133.7 L952.8,134.2 L953.4,135.4 L954.0,133.4 L954.6,129.3 L955.2,125.6 L955.8,149.0 L956.4,123.3 L957.0,144.4 L957.6,132.3 L958.2,137.8 L958.8,119.7 L959.4,135.9 L960.0,133.5 L960.6,133.5 L961.2,126.3 L961.8,122.2 L962.4,127.0 L963.0,116.9 L963.6,135.9 L964.2,130.6 L964.8,125.4 L965.4,131.5 L965.9,131.9 L966.5,142.5 L967.1,145.3 L967.7,125.5 L968.3,140.1 L968.9,128.2 L969.5,131.5 L970.1,135.6 L970.7,122.9 L971.3,117.9 L971.9,139.6 L972.5,135.4 L973.1,144.4 L973.7,152.8 L974.3,127.5 L974.9,134.0 L975.5,133.7 L976.1,132.6 L976.7,148.1 L977.3,149.7 L977.9,137.8 L978.5,132.6 L979.1,123.7 L979.7,149.0 L980.2,137.9 L980.8,131.9 L981.4,131.0 L982.0,135.8 L982.6,116.0 L983.2,123.8 L983.8,116.2 L984.4,121.8 L985.0,114.9 L985.6,120.2 L986.2,114.1 L986.8,108.3 L987.4,126.4 L988.0,108.8 L988.6,112.2 L989.2,122.5 L989.8,102.7 L990.4,120.8 L991.0,117.7 L991.6,114.7 L992.2,124.2 L992.8,112.2 L993.4,112.1 L994.0,128.3 L994.6,115.3 L995.1,136.5 L995.7,139.6 L996.3,119.8 L996.9,131.4 L997.5,127.9 L998.1,129.7 L998.7,121.8 L999.3,126.8 L999.9,130.8 L1000.5,128.6 L1001.1,117.9 L1001.7,137.7 L1002.3,135.4 L1002.9,117.0 L1003.5,124.1 L1004.1,109.7 L1004.7,114.2 L1005.3,128.1 L1005.9,104.6 L1006.5,119.0 L1007.1,112.8 L1007.7,107.9 L1008.3,111.1 L1008.9,100.8 L1009.4,120.6 L1010.0,113.8 L1010.6,111.5 L1011.2,120.4 L1011.8,94.2 L1012.4,111.3 L1013.0,108.9 L1013.6,117.5 L1014.2,125.4 L1014.8,102.7 L1015.4,126.2 L1016.0,114.0 L1016.6,110.7 L1017.2,111.3 L1017.8,111.0 L1018.4,114.2 L1019.0,113.6 L1019.6,124.5 L1020.2,106.4 L1020.8,116.8 L1021.4,114.0 L1022.0,128.7 L1022.6,123.2 L1023.2,131.8 L1023.8,128.1 L1024.3,119.7 L1024.9,137.8 L1025.5,133.3 L1026.1,140.4 L1026.7,122.7 L1027.3,138.4 L1027.9,138.5 L1028.5,143.4 L1029.1,121.7 L1029.7,136.5 L1030.3,124.5 L1030.9,130.7 L1031.5,120.6 L1032.1,112.2 L1032.7,135.7 L1033.3,123.9 L1033.9,124.8 L1034.5,126.0 L1035.1,117.7 L1035.7,132.1 L1036.3,115.9 L1036.9,124.5 L1037.5,118.2 L1038.1,119.0 L1038.6,120.5 L1039.2,103.7 L1039.8,128.1 L1040.4,121.9 L1041.0,127.5 L1041.6,105.5 L1042.2,123.1 L1042.8,116.7 L1043.4,124.5 L1044.0,108.3 L1044.6,111.3 L1045.2,119.9 L1045.8,124.8 L1046.4,117.7 L1047.0,119.2 L1047.6,122.4 L1048.2,112.2 L1048.8,133.0 L1049.4,113.9 L1050.0,125.0 L1050.6,109.3 L1051.2,121.8 L1051.8,113.1 L1052.4,99.9 L1053.0,124.2 L1053.5,97.1 L1054.1,110.3 L1054.7,122.1 L1055.3,104.8 L1055.9,109.6 L1056.5,102.7 L1057.1,126.2 L1057.7,127.4 L1058.3,118.9 L1058.9,135.6 L1059.5,106.7 L1060.1,128.7 L1060.7,124.9 L1061.3,119.6 L1061.9,120.5 L1062.5,119.2 L1063.1,117.0 L1063.7,110.2 L1064.3,128.3 L1064.9,112.0 L1065.5,114.2 L1066.1,117.6 L1066.7,115.0 L1067.3,110.6 L1067.8,118.8 L1068.4,99.8 L1069.0,103.2 L1069.6,107.7 L1070.2,117.1 L1070.8,111.3 L1071.4,117.2 L1072.0,108.3 L1072.6,124.5 L1073.2,118.1 L1073.8,128.1 L1074.4,121.5 L1075.0,119.8 L1075.6,132.1 L1076.2,114.0 L1076.8,118.5 L1077.4,123.4 L1078.0,120.8 L1078.6,111.8 L1079.2,122.2 L1079.8,109.4 L1080.4,131.9 L1081.0,115.3 L1081.6,125.4 L1082.1,140.4 L1082.7,116.1 L1083.3,122.3 L1083.9,134.1 L1084.5,122.0 L1085.1,130.3 L1085.7,137.2 L1086.3,119.8 L1086.9,141.5 L1087.5,134.2 L1088.1,124.9 L1088.7,125.9 L1089.3,132.1 L1089.9,115.9 L1090.5,114.7 L1091.1,120.2 L1091.7,116.2 L1092.3,114.6 L1092.9,113.8 L1093.5,111.9 L1094.1,114.9 L1094.7,103.6 L1095.3,120.7 L1095.9,113.1 L1096.5,108.4 L1097.0,112.5 L1097.6,117.3 L1098.2,118.8 L1098.8,102.6 L1099.4,113.5 L1100.0,111.3 L1100.6,119.8 L1101.2,123.7 L1101.8,116.7 L1102.4,112.3 L1103.0,136.6 L1103.6,120.9 L1104.2,127.3 L1104.8,119.4 L1105.4,122.5 L1106.0,138.5 L1106.6,114.2 L1107.2,118.6 L1107.8,119.6 L1108.4,116.7 L1109.0,117.4 L1109.6,120.4 L1110.2,114.3 L1110.8,97.2 L1111.3,127.9 L1111.9,126.4 L1112.5,132.0 L1113.1,110.3 L1113.7,110.9 L1114.3,118.4 L1114.9,115.1 L1115.5,112.6 L1116.1,99.6 L1116.7,98.0 L1117.3,124.2 L1117.9,113.0 L1118.5,115.0 L1119.1,126.4 L1119.7,110.2 L1120.3,113.5 L1120.9,116.8 L1121.5,122.2 L1122.1,121.1 L1122.7,119.4 L1123.3,110.3 L1123.9,133.8 L1124.5,122.3 L1125.1,127.2 L1125.7,115.3 L1126.2,129.0 L1126.8,122.9 L1127.4,128.3 L1128.0,112.1 L1128.6,114.2 L1129.2,115.3 L1129.8,117.0 L1130.4,120.0 L1131.0,119.9 L1131.6,119.4 L1132.2,121.8 L1132.8,114.0 L1133.4,128.4 L1134.0,112.9 L1134.6,116.5 L1135.2,115.1 L1135.8,110.2 L1136.4,108.3 L1137.0,124.3 L1137.6,99.9 L1138.2,118.5 L1138.8,120.2 L1139.4,110.3 L1140.0,132.0 L1140.5,113.1 L1141.1,122.4 L1141.7,99.9 L1142.3,120.3 L1142.9,107.9 L1143.5,109.4 L1144.1,115.2 L1144.7,118.0 L1145.3,114.6 L1145.9,119.1 L1146.5,104.6 L1147.1,124.4 L1147.7,120.3 L1148.3,113.5 L1148.9,124.3 L1149.5,114.6 L1150.1,116.4 L1150.7,131.7 L1151.3,100.1 L1151.9,121.8 L1152.5,106.0 L1153.1,122.6 L1153.7,117.5 L1154.3,118.1 L1154.9,103.2 L1155.4,118.7 L1156.0,120.0 L1156.6,105.6 L1157.2,128.1 L1157.8,106.6 L1158.4,124.6 L1159.0,115.1 L1159.6,125.3 L1160.2,111.0 L1160.8,132.0 L1161.4,112.2 L1162.0,127.1 L1162.6,118.1 L1163.2,122.2 L1163.8,136.5 L1164.4,114.1 L1165.0,136.7 L1165.6,122.3 L1166.2,117.4 L1166.8,130.1 L1167.4,110.3 L1168.0,116.8 L1168.6,115.2 L1169.2,129.3 L1169.7,127.0 L1170.3,127.1 L1170.9,115.9 L1171.5,134.0 L1172.1,120.4 L1172.7,111.0 L1173.3,109.5 L1173.9,122.4 L1174.5,99.9 L1175.1,124.1 L1175.7,110.0 L1176.3,109.6 L1176.9,118.3 L1177.5,100.9 L1178.1,126.2 L1178.7,98.5 L1179.3,105.8 L1179.9,107.1 L1180.5,79.1 L1181.1,89.9 L1181.7,101.6 L1182.3,94.7 L1182.9,89.5 L1183.5,95.6 L1184.1,85.6 L1184.6,109.1 L1185.2,100.4 L1185.8,108.4 L1186.4,106.5 L1187.0,96.6 L1187.6,120.5 L1188.2,97.0 L1188.8,109.7 L1189.4,112.6 L1190.0,102.6 L1190.6,101.5 L1191.2,111.1 L1191.8,97.5 L1192.4,93.4 L1193.0,91.3 L1193.6,114.8 L1194.2,99.4 L1194.8,90.1 L1195.4,90.5 L1196.0,108.9 L1196.6,79.1 L1197.2,99.4 L1197.8,84.3 L1198.4,110.6 L1198.9,96.0 L1199.5,103.2 L1200.1,116.4 L1200.7,99.0 L1201.3,126.1 L1201.9,123.7 L1202.5,100.6 L1203.1,111.1 L1203.7,107.4 L1204.3,114.8 L1204.9,99.7 L1205.5,116.5 L1206.1,87.6 L1206.7,113.1 L1207.3,100.1 L1207.9,108.2 L1208.5,123.5 L1209.1,113.5 L1209.7,104.7 L1210.3,130.0 L1210.9,115.4 L1211.5,110.5 L1212.1,118.4 L1212.7,106.0 L1213.3,120.6 L1213.8,100.8 L1214.4,108.3 L1215.0,110.5 L1215.6,114.9 L1216.2,114.3 L1216.8,110.9 L1217.4,106.5 L1218.0,126.3 L1218.6,111.0 L1219.2,105.7 L1219.8,103.6 L1220.4,103.2 L1221.0,91.2 L1221.6,105.3 L1222.2,80.9 L1222.8,91.1 L1223.4,88.2 L1224.0,90.8 L1224.6,99.7 L1225.2,85.6 L1225.8,109.1 L1226.4,103.4 L1227.0,102.7 L1227.6,105.7 L1228.1,109.2 L1228.7,90.3 L1229.3,106.0 L1229.9,102.0 L1230.5,108.1 L1231.1,102.9 L1231.7,111.3 L1232.3,109.3 L1232.9,110.5 L1233.5,97.0 L1234.1,120.5 L1234.7,109.3 L1235.3,109.1 L1235.9,112.5 L1236.5,104.1 L1237.1,116.8 L1237.7,97.0 L1238.3,113.0 L1238.9,106.5 L1239.5,107.6 L1240.1,120.9 L1240.7,96.6 L1241.3,122.8 L1241.9,106.2 L1242.4,107.4 L1243.0,120.8 L1243.6,106.5 L1244.2,112.8 L1244.8,100.4 L1245.4,109.6 L1246.0,108.9 L1246.6,114.2 L1247.2,99.9 L1247.8,114.4 L1248.4,93.6 L1249.0,99.5 L1249.6,105.8 L1250.2,104.0 L1250.8,95.9 L1251.4,110.8 L1252.0,108.1 L1252.6,105.1 L1253.2,102.7 L1253.8,114.7 L1254.4,100.2 L1255.0,116.4 L1255.6,114.4 L1256.2,107.1 L1256.8,114.8 L1257.3,109.5 L1257.9,112.0 L1258.5,112.0 L1259.1,113.0 L1259.7,118.7 L1260.3,124.9 L1260.9,104.1 L1261.5,113.2 L1262.1,116.0 L1262.7,109.6 L1263.3,112.5 L1263.9,113.7 L1264.5,111.0 L1265.1,113.3 L1265.7,104.0 L1266.3,122.1 L1266.9,118.1 L1267.5,115.7 L1268.1,114.3 L1268.7,126.5 L1269.3,127.6 L1269.9,104.1 L1270.5,116.7 L1271.1,115.5 L1271.6,120.0 L1272.2,111.2 L1272.8,121.4 L1273.4,105.2 L1274.0,113.9 L1274.6,104.4 L1275.2,100.2 L1275.8,116.4 L1276.4,105.9 L1277.0,108.1 L1277.6,107.7 L1278.2,95.6 L1278.8,100.0 L1279.4,108.7 L1280.0,87.0 L1280.6,94.7 L1281.2,92.1 L1281.8,88.2 L1282.4,88.4 L1283.0,74.8 L1283.6,102.8 L1284.2,106.4 L1284.8,119.8 L1285.4,91.0 L1286.0,102.1 L1286.5,108.9 L1287.1,97.6 L1287.7,104.7 L1288.3,97.1 L1288.9,109.4 L1289.5,102.7 L1290.1,89.0 L1290.7,116.1 L1291.3,99.6 L1291.9,92.3 L1292.5,105.3 L1293.1,100.2 L1293.7,108.7 L1294.3,87.0 L1294.9,103.8 L1295.5,93.5 L1296.1,98.7 L1296.7,110.9 L1297.3,109.4 L1297.9,100.4 L1298.5,101.5 L1299.1,96.5 L1299.7,118.2 L1300.3,101.3 L1300.8,110.6 L1301.4,103.3 L1302.0,105.8 L1302.6,115.3 L1303.2,120.2 L1303.8,102.1 L1304.4,112.7 L1305.0,112.3 L1305.6,105.5 L1306.2,107.7 L1306.8,92.8 L1307.4,118.1 L1308.0,110.2 L1308.6,104.0 L1309.2,114.1 L1309.8,118.5 L1310.4,130.4 L1311.0,106.1 L1311.6,124.2 L1312.2,114.9 L1312.8,119.3 L1313.4,112.7 L1314.0,121.9 L1314.6,119.9 L1315.2,109.8 L1315.7,129.6 L1316.3,111.4 L1316.9,120.1 L1317.5,132.5 L1318.1,111.7 L1318.7,117.8 L1319.3,118.5 L1319.9,120.5 L1320.5,116.3 L1321.1,112.4 L1321.7,120.0 L1322.3,110.8 L1322.9,103.1 L1323.5,123.9 L1324.1,112.0 L1324.7,118.5 L1325.3,107.0 L1325.9,125.8 L1326.5,106.0 L1327.1,114.7 L1327.7,119.9 L1328.3,113.6 L1328.9,128.2 L1329.5,125.7 L1330.0,111.7 L1330.6,134.3 L1331.2,116.2 L1331.8,124.7 L1332.4,125.4 L1333.0,114.5 L1333.6,125.6 L1334.2,96.7 L1334.8,110.7 L1335.4,110.5 L1336.0,112.7 L1336.6,100.3 L1337.2,116.6 L1337.8,114.9 L1338.4,101.5 L1339.0,102.9 L1339.6,97.4 L1340.2,118.2 L1340.8,99.0 L1341.4,118.0 L1342.0,112.4 L1342.6,111.7 L1343.2,128.5 L1343.8,104.2 L1344.4,112.4 L1344.9,116.9 L1345.5,110.2 L1346.1,112.6 L1346.7,116.8 L1347.3,111.8 L1347.9,105.9 L1348.5,122.1 L1349.1,112.8 L1349.7,112.2 L1350.3,109.3 L1350.9,107.9 L1351.5,114.3 L1352.1,90.8 L1352.7,112.6 L1353.3,95.2 L1353.9,101.9 L1354.5,94.7 L1355.1,100.9 L1355.7,90.8 L1356.3,110.6 L1356.9,94.4 L1357.5,98.8 L1358.1,94.5 L1358.7,106.7 L1359.2,81.4 L1359.8,98.6 L1360.4,88.5 L1361.0,106.9 L1361.6,91.0 L1362.2,122.6 L1362.8,96.2 L1363.4,91.6 L1364.0,114.1 L1364.6,83.1 L1365.2,108.4 L1365.8,93.6 L1366.4,104.5 L1367.0,72.0 L1367.6,98.3 L1368.2,100.2 L1368.8,80.4 L1369.4,89.5 L1370.0,97.9 L1370.6,91.4 L1371.2,105.0 L1371.8,84.2 L1372.4,75.8 L1373.0,106.5 L1373.6,109.4 L1374.1,88.1 L1374.7,84.9 L1375.3,99.9 L1375.9,98.5 L1376.5,111.6 L1377.1,114.4 L1377.7,92.7 L1378.3,103.3 L1378.9,104.8 L1379.5,90.5 L1380.1,95.8 L1380.7,87.0 L1381.3,78.7 L1381.9,59.6 L1382.5,91.2 L1383.1,74.2 L1383.7,92.1 L1384.3,76.8 L1384.9,103.0 L1385.5,81.3 L1386.1,94.2 L1386.7,94.2 L1387.3,100.5 L1387.9,106.5 L1388.4,92.8 L1389.0,118.1 L1389.6,109.3 L1390.2,98.5 L1390.8,104.4 L1391.4,91.7 L1392.0,106.9 L1392.6,99.3 L1393.2,110.5 L1393.8,85.2 L1394.4,100.2 L1395.0,83.4 L1395.6,100.5 L1396.2,86.4 L1396.8,104.7 L1397.4,109.8 L1398.0,88.6 L1398.6,96.3 L1399.2,92.0 L1399.8,78.6 L1400.4,108.4 L1401.0,102.8 L1401.6,90.0 L1402.2,107.0 L1402.8,108.8 L1403.3,90.7 L1403.9,103.8 L1404.5,100.9 L1405.1,93.7 L1405.7,95.4 L1406.3,95.4 L1406.9,96.5 L1407.5,101.0 L1408.1,85.1 L1408.7,104.9 L1409.3,99.1 L1409.9,100.2 L1410.5,100.9 L1411.1,106.6 L1411.7,102.2 L1412.3,112.6 L1412.9,94.5 L1413.5,112.2 L1414.1,96.0 L1414.7,115.4 L1415.3,105.8 L1415.9,109.2 L1416.5,106.5 L1417.1,103.8 L1417.6,102.2 L1418.2,125.7 L1418.8,115.0 L1419.4,102.2 L1420.0,118.1 L1420.6,116.3 L1421.2,95.5 L1421.8,103.4 L1422.4,104.5 L1423.0,103.9 L1423.6,108.2 L1424.2,111.4 L1424.8,111.2 L1425.4,102.2 L1426.0,123.9 L1426.6,107.6 L1427.2,112.9 L1427.8,118.8 L1428.4,118.3 L1429.0,100.2 L1429.6,102.2 L1430.2,103.3 L1430.8,100.8 L1431.4,111.4 L1431.9,101.4 L1432.5,106.5 L1433.1,101.2 L1433.7,92.7 L1434.3,114.4 L1434.9,99.6 L1435.5,103.9 L1436.1,101.2 L1436.7,110.3 L1437.3,99.9 L1437.9,116.3 L1438.5,96.5 L1439.1,101.5 L1439.7,110.5 L1440.3,117.8 L1440.9,101.7 L1441.5,114.0 L1442.1,109.1 L1442.7,100.2 L1443.3,118.3 L1443.9,104.4 L1444.5,100.4 L1445.1,114.2 L1445.7,86.2 L1446.3,106.8 L1446.8,104.0 L1447.4,100.8 L1448.0,107.9 L1448.6,112.9 L1449.2,109.4 L1449.8,113.6 L1450.4,100.4 L1451.0,125.7 L1451.6,120.3 L1452.2,117.9 L1452.8,108.8 L1453.4,112.5 L1454.0,91.7 L1454.6,103.6 L1455.2,99.0 L1455.8,101.5 L1456.4,108.7 L1457.0,99.5 L1457.6,94.6 L1458.2,114.4 L1458.8,100.7 L1459.4,96.9 L1460.0,88.8 L1460.6,86.6 L1461.1,104.3 L1461.7,65.5 L1462.3,79.3 L1462.9,80.6 L1463.5,94.6 L1464.1,96.7 L1464.7,86.2 L1465.3,77.4 L1465.9,95.5 L1466.5,84.7 L1467.1,70.3 L1467.7,82.0 L1468.3,58.5 L1468.9,68.0 L1469.5,71.1 L1470.1,69.5 L1470.7,72.4 L1471.3,52.8 L1471.9,74.4 L1472.5,67.6 L1473.1,71.6 L1473.7,80.2 L1474.3,101.0 L1474.9,75.7 L1475.5,79.7 L1476.0,83.0 L1476.6,93.9 L1477.2,92.7 L1477.8,84.8 L1478.4,71.7 L1479.0,91.6 L1479.6,80.8 L1480.2,81.0 L1480.8,72.6 L1481.4,73.7 L1482.0,78.8 L1482.6,89.5 L1483.2,61.5 L1483.8,79.4 L1484.4,73.8 L1485.0,82.3 L1485.6,75.3 L1486.2,75.5 L1486.8,77.7 L1487.4,67.9 L1488.0,86.0 L1488.6,73.0 L1489.2,83.9 L1489.8,59.5 L1490.3,77.9 L1490.9,59.7 L1491.5,69.4 L1492.1,66.4 L1492.7,69.0 L1493.3,64.2 L1493.9,54.7 L1494.5,76.3 L1495.1,67.5 L1495.7,62.1 L1496.3,79.0 L1496.9,85.7 L1497.5,58.6" fill="none" stroke="#3b7f9a" stroke-width="2.1" stroke-linejoin="round"/>
<path d="M132.1,473.1 L133.9,462.1 L135.7,447.2 L137.5,452.4 L139.3,449.8 L141.1,449.4 L142.9,446.2 L144.7,433.8 L146.5,426.4 L148.3,424.5 L150.1,420.0 L151.9,413.6 L153.7,410.1 L155.5,418.3 L157.3,418.8 L159.1,418.1 L160.9,408.7 L162.7,411.2 L164.5,411.7 L166.3,408.2 L168.1,403.9 L169.9,410.0 L171.7,403.2 L173.5,383.3 L175.3,360.6 L177.1,333.1 L178.9,326.4 L180.7,329.9 L182.5,320.7 L184.3,318.9 L186.1,335.8 L187.9,367.5 L189.7,384.8 L191.5,404.6 L193.3,411.3 L195.1,413.7 L196.9,411.8 L198.7,406.0 L200.5,404.5 L202.3,388.9 L204.1,389.9 L205.9,381.6 L207.7,381.8 L209.5,374.4 L211.3,365.5 L213.1,363.9 L214.9,364.4 L216.7,369.6 L218.5,368.0 L220.3,369.4 L222.1,366.3 L223.9,350.9 L225.7,337.7 L227.5,322.1 L229.3,312.8 L231.1,341.8 L232.9,362.1 L234.7,383.4 L236.5,380.9 L238.3,376.7 L240.1,356.8 L241.9,351.6 L243.7,351.7 L245.5,349.9 L247.3,358.5 L249.1,358.8 L250.9,360.6 L252.7,357.5 L254.5,350.8 L256.3,346.4 L258.1,353.4 L259.9,356.2 L261.7,372.9 L263.5,382.4 L265.3,408.3 L267.1,408.0 L268.9,407.5 L270.7,390.1 L272.5,387.6 L274.3,375.2 L276.1,359.8 L277.9,354.7 L279.7,368.5 L281.5,376.2 L283.3,387.8 L285.1,378.7 L286.9,385.2 L288.7,410.1 L290.5,410.8 L292.3,413.0 L294.1,408.1 L295.9,391.2 L297.7,397.0 L299.5,391.4 L301.3,381.8 L303.1,368.9 L304.9,365.3 L306.7,352.6 L308.5,354.4 L310.3,366.5 L312.1,369.9 L313.9,365.1 L315.7,342.0 L317.5,324.9 L319.3,322.5 L321.1,319.6 L322.9,334.5 L324.7,340.4 L326.5,343.3 L328.3,338.0 L330.1,319.7 L331.9,317.2 L333.7,323.1 L335.5,340.5 L337.3,330.6 L339.1,348.0 L340.9,350.5 L342.7,362.5 L344.5,372.9 L346.3,386.2 L348.1,392.1 L349.9,389.2 L351.7,383.8 L353.5,375.8 L355.3,367.1 L357.1,372.1 L358.9,372.4 L360.7,379.7 L362.5,385.8 L364.3,390.4 L366.1,394.9 L367.9,400.4 L369.7,402.2 L371.5,400.1 L373.3,406.7 L375.1,396.3 L376.9,394.2 L378.7,384.2 L380.5,390.3 L382.3,394.5 L384.1,405.4 L385.9,408.6 L387.7,413.2 L389.5,413.1 L391.3,414.4 L393.1,410.4 L394.9,400.9 L396.7,396.7 L398.5,388.0 L400.3,392.7 L402.1,386.8 L403.9,380.0 L405.7,382.7 L407.5,379.6 L409.3,383.7 L411.1,390.9 L412.9,396.6 L414.7,397.4 L416.5,400.6 L418.3,403.1 L420.1,387.6 L421.9,388.3 L423.7,381.4 L425.5,385.1 L427.3,384.7 L429.1,386.4 L430.9,380.1 L432.7,371.6 L434.5,376.1 L436.3,376.9 L438.1,371.1 L439.9,367.2 L441.7,372.6 L443.5,382.0 L445.3,381.3 L447.1,374.5 L448.9,381.9 L450.7,388.2 L452.5,392.8 L454.3,392.9 L456.1,386.1 L457.9,387.0 L459.7,388.0 L461.5,395.6 L463.3,406.7 L465.1,388.5 L466.9,384.3 L468.7,388.2 L470.5,388.7 L472.3,389.5 L474.1,388.4 L475.9,389.7 L477.7,389.7 L479.5,378.2 L481.3,380.3 L483.1,384.8 L484.9,395.9 L486.7,393.1 L488.5,400.9 L490.3,398.7 L492.1,393.9 L493.9,405.6 L495.7,395.2 L497.5,385.8 L499.3,369.2 L501.1,354.1 L502.9,357.8 L504.7,370.9 L506.5,374.3 L508.3,387.3 L510.1,385.4 L511.9,391.7 L513.7,391.0 L515.5,398.3 L517.3,393.1 L519.1,394.5 L520.9,381.0 L522.7,376.6 L524.5,380.8 L526.3,383.3 L528.1,384.2 L529.9,374.4 L531.7,369.8 L533.5,375.1 L535.3,372.2 L537.1,381.4 L538.9,392.6 L540.7,400.9 L542.5,411.7 L544.3,408.2 L546.1,415.9 L547.9,413.8 L549.7,412.2 L551.5,412.3 L553.3,410.3 L555.1,407.1 L556.9,404.4 L558.7,395.7 L560.5,398.9 L562.3,405.8 L564.1,410.4 L565.9,420.1 L567.7,431.6 L569.5,436.7 L571.3,432.3 L573.1,432.4 L574.9,411.4 L576.7,402.1 L578.5,402.1 L580.3,397.7 L582.1,403.9 L583.9,401.6 L585.7,402.7 L587.5,403.4 L589.3,401.1 L591.1,401.3 L592.9,405.5 L594.7,396.5 L596.5,407.4 L598.3,393.2 L600.1,402.3 L601.9,407.8 L603.7,406.6 L605.5,417.6 L607.3,418.4 L609.1,416.4 L610.9,411.5 L612.7,409.9 L614.5,417.0 L616.3,418.7 L618.1,428.5 L619.9,420.9 L621.7,420.3 L623.5,419.2 L625.3,411.4 L627.1,416.4 L628.9,424.7 L630.7,421.1 L632.5,424.9 L634.3,424.8 L636.1,422.7 L637.9,426.6 L639.7,431.1 L641.5,424.4 L643.3,430.8 L645.1,434.6 L646.9,435.5 L648.7,431.3 L650.5,435.5 L652.3,430.6 L654.1,433.1 L655.9,420.6 L657.7,410.6 L659.5,409.3 L661.3,407.4 L663.1,416.0 L664.9,416.9 L666.7,420.2 L668.5,424.8 L670.3,418.1 L672.1,414.3 L673.9,419.4 L675.7,422.0 L677.5,417.5 L679.3,414.3 L681.1,404.4 L682.9,414.4 L684.7,428.3 L686.5,431.0 L688.3,433.9 L690.1,423.2 L691.9,416.0 L693.7,408.2 L695.5,406.7 L697.3,414.7 L699.1,419.8 L700.9,422.8 L702.7,434.1 L704.5,426.3 L706.3,437.4 L708.1,433.6 L709.9,429.1 L711.7,417.3 L713.5,414.2 L715.3,420.7 L717.1,420.6 L718.9,422.7 L720.7,418.5 L722.5,416.2 L724.3,411.6 L726.1,416.6 L727.9,421.6 L729.7,430.6 L731.5,433.4 L733.3,427.8 L735.1,423.5 L736.9,418.0 L738.7,422.4 L740.5,422.5 L742.3,435.2 L744.1,437.5 L745.9,429.0 L747.7,429.5 L749.5,430.3 L751.3,436.0 L753.1,423.2 L754.9,421.9 L756.7,424.0 L758.5,431.8 L760.3,430.4 L762.1,420.8 L763.9,416.5 L765.7,425.6 L767.5,420.9 L769.3,422.3 L771.1,410.5 L772.9,409.1 L774.7,419.3 L776.5,427.9 L778.3,446.2 L780.1,440.8 L781.9,429.6 L783.7,430.8 L785.5,418.6 L787.3,416.0 L789.1,415.4 L790.9,400.1 L792.7,414.0 L794.5,418.9 L796.3,420.7 L798.1,429.9 L799.9,433.0 L801.7,436.6 L803.5,437.9 L805.3,437.0 L807.1,441.0 L808.9,438.3 L810.7,435.0 L812.5,438.3 L814.3,434.8 L816.1,439.1 L817.9,445.1 L819.7,444.5 L821.5,434.5 L823.3,433.7 L825.1,419.3 L826.9,421.3 L828.7,415.1 L830.5,428.0 L832.3,425.2 L834.1,427.3 L835.9,421.1 L837.7,425.2 L839.5,429.9 L841.3,423.4 L843.1,431.6 L844.9,424.2 L846.7,425.1 L848.5,426.1 L850.3,419.9 L852.1,405.6 L853.9,399.3 L855.7,407.9 L857.5,396.4 L859.3,410.6 L861.1,411.5 L862.9,421.8 L864.7,417.6 L866.5,409.0 L868.3,411.9 L870.1,403.7 L871.9,398.9 L873.7,396.2 L875.5,390.4 L877.3,404.2 L879.1,399.7 L880.9,398.6 L882.7,399.0 L884.5,407.3 L886.3,405.8 L888.1,395.6 L889.9,394.8 L891.7,386.2 L893.5,400.6 L895.3,387.7 L897.1,383.6 L898.9,370.8 L900.7,369.3 L902.5,365.6 L904.3,361.3 L906.1,373.0 L907.9,391.6 L909.7,430.3 L911.5,446.7 L913.3,450.4 L915.1,453.2 L916.9,450.2 L918.7,443.7 L920.5,441.6 L922.3,426.6 L924.1,441.3 L925.9,448.2 L927.7,446.1 L929.5,440.1 L931.3,434.7 L933.1,429.2 L934.9,421.5 L936.7,427.7 L938.5,421.3 L940.3,419.4 L942.1,424.4 L943.9,427.8 L945.7,433.2 L947.5,429.4 L949.3,424.1 L951.1,417.8 L952.9,433.0 L954.7,445.6 L956.5,431.6 L958.3,424.0 L960.1,405.7 L961.9,422.7 L963.7,416.5 L965.5,436.9 L967.3,425.8 L969.1,416.2 L970.9,396.2 L972.7,398.4 L974.5,391.7 L976.3,384.5 L978.1,385.2 L979.9,374.5 L981.7,359.9 L983.5,366.8 L985.3,358.7 L987.1,358.6 L988.9,361.9 L990.7,375.2 L992.5,375.0 L994.3,374.7 L996.1,378.9 L997.9,382.8 L999.7,385.5 L1001.5,379.0 L1003.3,377.6 L1005.1,369.1 L1006.9,360.6 L1008.7,359.7 L1010.5,362.6 L1012.3,365.6 L1014.1,367.3 L1015.9,385.7 L1017.7,376.6 L1019.5,379.1 L1021.3,371.2 L1023.1,367.1 L1024.9,376.1 L1026.7,378.5 L1028.5,390.6 L1030.3,389.2 L1032.1,392.0 L1033.9,384.3 L1035.7,377.2 L1037.5,371.5 L1039.3,376.2 L1041.1,373.1 L1042.9,371.9 L1044.7,363.0 L1046.5,359.8 L1048.3,369.5 L1050.1,375.3 L1051.9,374.4 L1053.7,379.2 L1055.5,381.0 L1057.3,381.9 L1059.1,394.5 L1060.9,386.6 L1062.7,382.9 L1064.5,383.4 L1066.3,379.8 L1068.1,375.9 L1069.9,373.2 L1071.7,376.0 L1073.5,372.3 L1075.3,386.4 L1077.1,401.2 L1078.9,390.9 L1080.7,397.2 L1082.5,380.6 L1084.3,373.6 L1086.1,366.8 L1087.9,369.8 L1089.7,366.3 L1091.5,367.4 L1093.3,360.7 L1095.1,364.5 L1096.9,361.4 L1098.7,365.9 L1100.5,368.7 L1102.3,375.1 L1104.1,368.4 L1105.9,369.4 L1107.7,364.6 L1109.5,352.2 L1111.3,350.8 L1113.1,366.2 L1114.9,362.8 L1116.7,384.8 L1118.5,391.2 L1120.3,388.4 L1122.1,402.9 L1122.1,419.3 L1120.3,414.2 L1118.5,416.1 L1116.7,412.9 L1114.9,393.4 L1113.1,382.9 L1111.3,380.3 L1109.5,394.5 L1107.7,386.5 L1105.9,389.6 L1104.1,393.9 L1102.3,397.2 L1100.5,394.1 L1098.7,383.8 L1096.9,394.3 L1095.1,385.1 L1093.3,387.5 L1091.5,389.1 L1089.7,387.0 L1087.9,387.4 L1086.1,387.3 L1084.3,402.8 L1082.5,410.8 L1080.7,414.5 L1078.9,415.2 L1077.1,423.6 L1075.3,416.1 L1073.5,406.0 L1071.7,391.7 L1069.9,401.7 L1068.1,402.9 L1066.3,412.4 L1064.5,405.5 L1062.7,410.9 L1060.9,412.6 L1059.1,413.1 L1057.3,410.4 L1055.5,407.3 L1053.7,403.1 L1051.9,399.3 L1050.1,402.1 L1048.3,395.8 L1046.5,384.6 L1044.7,388.9 L1042.9,389.7 L1041.1,395.8 L1039.3,393.9 L1037.5,386.1 L1035.7,397.8 L1033.9,412.6 L1032.1,415.4 L1030.3,409.8 L1028.5,403.3 L1026.7,398.3 L1024.9,398.5 L1023.1,397.4 L1021.3,396.8 L1019.5,396.7 L1017.7,399.7 L1015.9,402.6 L1014.1,389.1 L1012.3,387.6 L1010.5,382.9 L1008.7,382.3 L1006.9,381.4 L1005.1,386.5 L1003.3,399.6 L1001.5,403.6 L999.7,414.5 L997.9,407.2 L996.1,398.1 L994.3,398.5 L992.5,392.9 L990.7,397.4 L988.9,385.8 L987.1,376.5 L985.3,382.9 L983.5,389.4 L981.7,396.9 L979.9,415.0 L978.1,422.0 L976.3,431.6 L974.5,425.4 L972.7,433.4 L970.9,435.6 L969.1,447.1 L967.3,450.8 L965.5,455.3 L963.7,440.7 L961.9,447.6 L960.1,441.2 L958.3,440.8 L956.5,449.7 L954.7,465.2 L952.9,452.8 L951.1,446.4 L949.3,440.8 L947.5,457.7 L945.7,458.2 L943.9,464.7 L942.1,447.1 L940.3,439.3 L938.5,450.1 L936.7,450.2 L934.9,445.9 L933.1,451.7 L931.3,470.8 L929.5,475.2 L927.7,480.0 L925.9,470.9 L924.1,455.6 L922.3,457.9 L920.5,461.8 L918.7,465.0 L916.9,470.1 L915.1,483.4 L913.3,470.3 L911.5,454.4 L909.7,442.5 L907.9,418.9 L906.1,415.0 L904.3,381.5 L902.5,377.7 L900.7,387.2 L898.9,397.6 L897.1,409.1 L895.3,412.9 L893.5,417.4 L891.7,415.8 L889.9,414.2 L888.1,413.7 L886.3,420.7 L884.5,419.8 L882.7,416.5 L880.9,419.7 L879.1,417.7 L877.3,417.9 L875.5,419.5 L873.7,416.4 L871.9,413.7 L870.1,428.2 L868.3,435.8 L866.5,441.8 L864.7,448.6 L862.9,444.2 L861.1,440.1 L859.3,443.9 L857.5,441.1 L855.7,438.1 L853.9,447.9 L852.1,432.9 L850.3,440.8 L848.5,445.3 L846.7,449.7 L844.9,447.4 L843.1,451.4 L841.3,445.7 L839.5,449.4 L837.7,456.1 L835.9,448.7 L834.1,444.0 L832.3,441.7 L830.5,436.4 L828.7,434.1 L826.9,441.7 L825.1,444.5 L823.3,451.1 L821.5,456.6 L819.7,467.4 L817.9,470.1 L816.1,455.2 L814.3,455.3 L812.5,453.0 L810.7,453.8 L808.9,458.9 L807.1,457.9 L805.3,456.9 L803.5,452.5 L801.7,452.1 L799.9,449.6 L798.1,448.7 L796.3,457.7 L794.5,446.0 L792.7,435.9 L790.9,434.3 L789.1,434.2 L787.3,438.0 L785.5,443.5 L783.7,443.8 L781.9,455.9 L780.1,459.4 L778.3,461.6 L776.5,451.8 L774.7,442.4 L772.9,427.0 L771.1,431.9 L769.3,434.5 L767.5,439.2 L765.7,445.4 L763.9,444.2 L762.1,440.0 L760.3,441.1 L758.5,445.4 L756.7,440.9 L754.9,441.4 L753.1,437.7 L751.3,442.3 L749.5,446.7 L747.7,445.4 L745.9,448.6 L744.1,450.7 L742.3,458.2 L740.5,446.6 L738.7,442.3 L736.9,436.3 L735.1,440.4 L733.3,443.1 L731.5,452.8 L729.7,438.9 L727.9,437.0 L726.1,438.3 L724.3,427.7 L722.5,435.9 L720.7,436.5 L718.9,442.7 L717.1,434.1 L715.3,431.2 L713.5,436.4 L711.7,438.9 L709.9,450.9 L708.1,445.0 L706.3,460.1 L704.5,445.2 L702.7,450.6 L700.9,443.2 L699.1,435.2 L697.3,433.2 L695.5,431.9 L693.7,435.8 L691.9,435.6 L690.1,443.7 L688.3,449.0 L686.5,464.2 L684.7,468.8 L682.9,445.5 L681.1,427.8 L679.3,434.9 L677.5,434.3 L675.7,434.8 L673.9,436.8 L672.1,436.2 L670.3,437.9 L668.5,438.7 L666.7,438.5 L664.9,434.1 L663.1,434.1 L661.3,431.2 L659.5,425.8 L657.7,424.1 L655.9,431.7 L654.1,447.0 L652.3,445.8 L650.5,452.3 L648.7,455.5 L646.9,452.2 L645.1,449.1 L643.3,442.3 L641.5,440.1 L639.7,444.3 L637.9,438.1 L636.1,441.5 L634.3,432.2 L632.5,441.1 L630.7,439.0 L628.9,439.5 L627.1,429.7 L625.3,430.6 L623.5,429.5 L621.7,433.2 L619.9,439.6 L618.1,433.8 L616.3,435.5 L614.5,434.4 L612.7,426.5 L610.9,435.9 L609.1,437.7 L607.3,433.0 L605.5,425.7 L603.7,428.1 L601.9,418.6 L600.1,422.4 L598.3,423.2 L596.5,416.6 L594.7,416.5 L592.9,421.5 L591.1,419.9 L589.3,417.9 L587.5,423.0 L585.7,422.9 L583.9,412.1 L582.1,417.9 L580.3,413.4 L578.5,419.4 L576.7,426.8 L574.9,442.2 L573.1,449.1 L571.3,450.3 L569.5,455.5 L567.7,447.6 L565.9,435.8 L564.1,425.7 L562.3,422.2 L560.5,419.1 L558.7,420.6 L556.9,425.9 L555.1,421.4 L553.3,433.0 L551.5,437.5 L549.7,429.8 L547.9,433.1 L546.1,433.6 L544.3,427.9 L542.5,426.7 L540.7,417.4 L538.9,408.5 L537.1,402.5 L535.3,399.8 L533.5,399.0 L531.7,391.2 L529.9,404.7 L528.1,408.5 L526.3,410.2 L524.5,403.9 L522.7,400.3 L520.9,398.3 L519.1,408.5 L517.3,415.0 L515.5,418.4 L513.7,411.6 L511.9,405.3 L510.1,407.5 L508.3,407.4 L506.5,397.3 L504.7,394.2 L502.9,378.7 L501.1,384.0 L499.3,393.7 L497.5,408.1 L495.7,421.2 L493.9,425.3 L492.1,414.2 L490.3,413.7 L488.5,417.4 L486.7,414.9 L484.9,412.0 L483.1,409.2 L481.3,410.2 L479.5,406.4 L477.7,406.4 L475.9,405.6 L474.1,409.5 L472.3,409.7 L470.5,409.3 L468.7,404.2 L466.9,408.5 L465.1,414.4 L463.3,418.3 L461.5,407.5 L459.7,410.3 L457.9,401.7 L456.1,404.1 L454.3,407.1 L452.5,407.9 L450.7,405.0 L448.9,398.4 L447.1,399.0 L445.3,392.3 L443.5,396.2 L441.7,393.2 L439.9,388.0 L438.1,401.5 L436.3,401.8 L434.5,402.9 L432.7,390.5 L430.9,397.4 L429.1,399.4 L427.3,400.2 L425.5,400.0 L423.7,407.7 L421.9,409.4 L420.1,412.9 L418.3,408.1 L416.5,415.5 L414.7,411.9 L412.9,407.6 L411.1,404.7 L409.3,411.3 L407.5,401.6 L405.7,403.8 L403.9,400.4 L402.1,411.3 L400.3,413.8 L398.5,410.4 L396.7,415.9 L394.9,418.6 L393.1,438.2 L391.3,444.0 L389.5,444.2 L387.7,429.6 L385.9,433.5 L384.1,428.9 L382.3,414.8 L380.5,411.3 L378.7,408.3 L376.9,415.8 L375.1,415.5 L373.3,420.6 L371.5,417.3 L369.7,422.3 L367.9,424.3 L366.1,421.1 L364.3,425.4 L362.5,415.7 L360.7,402.4 L358.9,390.9 L357.1,386.9 L355.3,385.4 L353.5,397.7 L351.7,399.4 L349.9,409.5 L348.1,408.6 L346.3,396.1 L344.5,387.4 L342.7,376.4 L340.9,369.3 L339.1,378.8 L337.3,355.2 L335.5,360.4 L333.7,356.4 L331.9,352.1 L330.1,348.8 L328.3,355.5 L326.5,358.8 L324.7,365.6 L322.9,363.0 L321.1,359.0 L319.3,343.2 L317.5,355.8 L315.7,367.2 L313.9,387.4 L312.1,384.0 L310.3,396.3 L308.5,375.4 L306.7,388.9 L304.9,389.4 L303.1,400.6 L301.3,409.3 L299.5,409.6 L297.7,429.3 L295.9,422.2 L294.1,439.2 L292.3,435.2 L290.5,435.9 L288.7,422.2 L286.9,422.5 L285.1,407.3 L283.3,419.4 L281.5,399.3 L279.7,392.3 L277.9,381.7 L276.1,394.6 L274.3,397.5 L272.5,413.6 L270.7,422.1 L268.9,431.7 L267.1,428.7 L265.3,437.0 L263.5,418.4 L261.7,388.5 L259.9,388.9 L258.1,381.9 L256.3,374.3 L254.5,383.6 L252.7,396.1 L250.9,391.8 L249.1,388.3 L247.3,381.8 L245.5,376.8 L243.7,366.9 L241.9,373.6 L240.1,380.7 L238.3,399.5 L236.5,408.5 L234.7,398.4 L232.9,380.1 L231.1,363.1 L229.3,347.4 L227.5,343.3 L225.7,371.9 L223.9,374.2 L222.1,384.7 L220.3,388.1 L218.5,388.7 L216.7,382.1 L214.9,377.3 L213.1,387.1 L211.3,383.2 L209.5,388.1 L207.7,397.4 L205.9,397.8 L204.1,402.0 L202.3,409.3 L200.5,414.0 L198.7,420.7 L196.9,425.9 L195.1,429.3 L193.3,426.0 L191.5,420.7 L189.7,406.4 L187.9,386.7 L186.1,364.3 L184.3,351.0 L182.5,346.9 L180.7,344.7 L178.9,345.5 L177.1,354.7 L175.3,380.7 L173.5,395.9 L171.7,416.0 L169.9,419.9 L168.1,422.3 L166.3,421.5 L164.5,421.7 L162.7,424.6 L160.9,424.6 L159.1,431.3 L157.3,432.8 L155.5,430.3 L153.7,430.9 L151.9,428.8 L150.1,438.1 L148.3,439.8 L146.5,440.5 L144.7,446.2 L142.9,466.8 L141.1,465.1 L139.3,476.0 L137.5,468.5 L135.7,480.3 L133.9,493.7 L132.1,492.4Z M1131.1,225.8 L1132.9,218.1 L1134.7,208.9 L1136.5,213.9 L1138.3,231.1 L1140.1,242.0 L1141.9,239.4 L1143.7,232.0 L1145.5,237.0 L1147.3,230.9 L1149.1,235.3 L1150.9,240.3 L1152.7,243.9 L1154.5,229.2 L1156.3,226.0 L1158.1,211.7 L1159.9,214.0 L1161.7,216.0 L1163.5,211.2 L1165.3,223.3 L1167.1,227.9 L1168.9,237.9 L1170.7,254.3 L1172.5,264.4 L1174.3,258.8 L1176.1,247.3 L1177.9,253.4 L1179.7,247.2 L1181.5,247.6 L1183.3,237.4 L1185.1,229.6 L1186.9,225.8 L1188.7,216.0 L1190.5,222.3 L1192.3,224.2 L1194.1,224.6 L1195.9,225.0 L1197.7,226.0 L1199.5,219.5 L1201.3,212.7 L1203.1,215.4 L1204.9,204.5 L1206.7,204.1 L1208.5,213.4 L1210.3,211.5 L1212.1,212.6 L1213.9,214.1 L1215.7,227.8 L1217.5,235.8 L1219.3,218.0 L1221.1,219.6 L1222.9,214.7 L1224.7,219.2 L1226.5,222.6 L1228.3,216.3 L1230.1,226.6 L1231.9,225.9 L1233.7,205.1 L1235.5,211.2 L1237.3,218.8 L1239.1,213.0 L1240.9,207.3 L1242.7,190.5 L1244.5,182.1 L1246.3,184.4 L1248.1,191.6 L1249.9,208.6 L1251.7,212.2 L1253.5,223.9 L1255.3,222.8 L1257.1,227.3 L1258.9,236.7 L1260.7,249.3 L1262.5,249.2 L1264.3,248.8 L1266.1,252.7 L1267.9,247.4 L1269.7,248.2 L1271.5,244.1 L1273.3,231.3 L1275.1,225.5 L1276.9,220.4 L1278.7,210.8 L1280.5,206.4 L1282.3,223.2 L1284.1,231.2 L1285.9,236.4 L1287.7,231.9 L1289.5,225.2 L1291.3,221.1 L1293.1,208.8 L1294.9,212.4 L1296.7,198.6 L1298.5,209.1 L1300.3,205.1 L1302.1,208.9 L1303.9,199.9 L1305.7,206.6 L1307.5,219.2 L1309.3,230.4 L1311.1,243.2 L1312.9,259.0 L1314.7,256.1 L1316.5,246.1 L1318.3,235.5 L1320.1,225.1 L1321.9,226.9 L1323.7,228.7 L1325.5,230.5 L1327.3,238.8 L1327.3,261.4 L1325.5,257.2 L1323.7,245.4 L1321.9,255.8 L1320.1,265.6 L1318.3,264.9 L1316.5,275.1 L1314.7,274.9 L1312.9,274.9 L1311.1,262.8 L1309.3,259.3 L1307.5,233.9 L1305.7,239.1 L1303.9,231.0 L1302.1,246.8 L1300.3,239.7 L1298.5,229.8 L1296.7,221.9 L1294.9,238.6 L1293.1,234.6 L1291.3,248.1 L1289.5,253.0 L1287.7,258.7 L1285.9,266.2 L1284.1,260.5 L1282.3,249.1 L1280.5,241.8 L1278.7,250.2 L1276.9,243.0 L1275.1,253.1 L1273.3,258.7 L1271.5,265.5 L1269.7,265.3 L1267.9,270.9 L1266.1,273.4 L1264.3,270.6 L1262.5,274.4 L1260.7,265.7 L1258.9,261.0 L1257.1,254.6 L1255.3,251.8 L1253.5,239.6 L1251.7,235.9 L1249.9,226.6 L1248.1,217.2 L1246.3,207.6 L1244.5,201.6 L1242.7,208.5 L1240.9,217.7 L1239.1,235.5 L1237.3,244.9 L1235.5,240.3 L1233.7,245.6 L1231.9,252.6 L1230.1,241.2 L1228.3,243.3 L1226.5,254.7 L1224.7,252.3 L1222.9,248.1 L1221.1,254.9 L1219.3,237.2 L1217.5,257.9 L1215.7,245.8 L1213.9,247.1 L1212.1,242.1 L1210.3,238.1 L1208.5,239.1 L1206.7,230.2 L1204.9,245.3 L1203.1,244.0 L1201.3,247.7 L1199.5,244.9 L1197.7,244.3 L1195.9,242.6 L1194.1,245.5 L1192.3,244.9 L1190.5,244.4 L1188.7,250.3 L1186.9,242.7 L1185.1,248.1 L1183.3,262.3 L1181.5,273.4 L1179.7,283.5 L1177.9,271.9 L1176.1,280.2 L1174.3,280.6 L1172.5,283.4 L1170.7,276.8 L1168.9,268.0 L1167.1,256.3 L1165.3,251.9 L1163.5,239.8 L1161.7,244.0 L1159.9,241.1 L1158.1,243.9 L1156.3,251.1 L1154.5,262.4 L1152.7,263.0 L1150.9,268.3 L1149.1,266.9 L1147.3,270.5 L1145.5,263.4 L1143.7,262.2 L1141.9,267.1 L1140.1,269.4 L1138.3,248.6 L1136.5,242.1 L1134.7,236.8 L1132.9,239.1 L1131.1,245.8Z M1345.3,259.1 L1347.1,256.4 L1348.9,245.4 L1350.7,233.5 L1352.5,228.2 L1354.3,228.9 L1356.1,232.6 L1357.9,231.0 L1359.7,238.1 L1361.5,225.6 L1363.3,242.7 L1365.1,259.7 L1366.9,263.4 L1368.7,252.0 L1370.5,247.6 L1372.3,238.8 L1374.1,235.0 L1375.9,241.8 L1377.7,245.0 L1379.5,240.1 L1381.3,237.5 L1383.1,240.4 L1384.9,258.3 L1386.7,252.0 L1388.5,246.0 L1390.3,239.1 L1392.1,243.2 L1393.9,227.6 L1395.7,223.8 L1397.5,217.8 L1399.3,218.0 L1401.1,237.7 L1402.9,229.9 L1404.7,226.0 L1406.5,222.0 L1408.3,221.8 L1410.1,228.4 L1411.9,245.2 L1413.7,252.5 L1415.5,256.8 L1417.3,245.0 L1419.1,237.8 L1420.9,227.8 L1422.7,226.7 L1424.5,219.3 L1426.3,205.6 L1428.1,202.9 L1429.9,183.7 L1431.7,182.5 L1433.5,194.2 L1435.3,216.6 L1437.1,212.9 L1438.9,203.9 L1440.7,192.6 L1442.5,174.5 L1444.3,186.4 L1446.1,207.9 L1447.9,228.4 L1449.7,249.2 L1451.5,258.2 L1453.3,248.6 L1455.1,244.8 L1456.9,248.0 L1458.7,253.3 L1460.5,261.1 L1462.3,250.7 L1464.1,250.4 L1465.9,236.4 L1467.7,241.3 L1469.5,237.8 L1471.3,241.2 L1473.1,239.7 L1474.9,247.1 L1476.7,241.0 L1478.5,245.6 L1480.3,240.1 L1482.1,248.9 L1483.9,241.3 L1485.7,242.8 L1487.5,256.5 L1489.3,243.5 L1489.3,272.7 L1487.5,272.5 L1485.7,264.6 L1483.9,260.6 L1482.1,256.8 L1480.3,264.5 L1478.5,257.6 L1476.7,264.6 L1474.9,260.7 L1473.1,258.7 L1471.3,258.3 L1469.5,259.8 L1467.7,252.7 L1465.9,260.1 L1464.1,270.5 L1462.3,269.0 L1460.5,275.1 L1458.7,269.9 L1456.9,270.4 L1455.1,265.7 L1453.3,277.4 L1451.5,272.8 L1449.7,269.4 L1447.9,252.1 L1446.1,231.6 L1444.3,217.9 L1442.5,214.9 L1440.7,221.4 L1438.9,231.5 L1437.1,232.6 L1435.3,232.5 L1433.5,224.0 L1431.7,210.1 L1429.9,212.2 L1428.1,218.9 L1426.3,236.4 L1424.5,242.6 L1422.7,259.1 L1420.9,263.9 L1419.1,265.5 L1417.3,281.9 L1415.5,273.2 L1413.7,272.8 L1411.9,253.9 L1410.1,251.8 L1408.3,246.9 L1406.5,240.9 L1404.7,243.8 L1402.9,245.1 L1401.1,251.5 L1399.3,249.5 L1397.5,243.3 L1395.7,239.4 L1393.9,252.5 L1392.1,256.6 L1390.3,258.2 L1388.5,266.6 L1386.7,268.9 L1384.9,270.1 L1383.1,268.8 L1381.3,262.7 L1379.5,270.7 L1377.7,263.8 L1375.9,260.4 L1374.1,255.1 L1372.3,263.0 L1370.5,276.1 L1368.7,282.2 L1366.9,290.0 L1365.1,278.3 L1363.3,270.1 L1361.5,245.6 L1359.7,254.3 L1357.9,253.5 L1356.1,247.5 L1354.3,248.5 L1352.5,245.1 L1350.7,252.0 L1348.9,260.6 L1347.1,267.8 L1345.3,270.0Z " fill="#c63a62" stroke="none"/>
<path d="M127.5,562.0 L128.0,468.2 L128.5,529.4 L129.0,510.6 L129.5,499.6 L129.9,558.1 L130.4,528.5 L130.9,500.7 L131.4,528.1 L131.9,448.5 L132.4,530.0 L132.9,454.3 L133.4,507.7 L133.9,456.9 L134.4,416.9 L134.8,522.5 L135.3,477.8 L135.8,455.7 L136.3,483.9 L136.8,433.4 L137.3,445.9 L137.8,449.0 L138.3,468.1 L138.8,447.4 L139.2,435.0 L139.7,482.4 L140.2,458.2 L140.7,452.9 L141.2,499.7 L141.7,438.5 L142.2,471.4 L142.7,450.2 L143.2,444.8 L143.7,449.9 L144.1,414.0 L144.6,458.3 L145.1,444.8 L145.6,443.6 L146.1,460.0 L146.6,415.6 L147.1,442.7 L147.6,433.0 L148.1,446.7 L148.5,395.1 L149.0,462.4 L149.5,415.5 L150.0,412.7 L150.5,434.3 L151.0,444.0 L151.5,405.8 L152.0,439.0 L152.5,420.1 L153.0,425.6 L153.4,417.5 L153.9,386.8 L154.4,440.3 L154.9,435.0 L155.4,418.5 L155.9,404.0 L156.4,438.3 L156.9,454.2 L157.4,406.0 L157.8,417.4 L158.3,431.5 L158.8,425.1 L159.3,412.5 L159.8,430.9 L160.3,411.4 L160.8,424.1 L161.3,404.4 L161.8,427.3 L162.3,386.6 L162.7,432.5 L163.2,423.1 L163.7,429.0 L164.2,451.5 L164.7,394.9 L165.2,443.7 L165.7,413.2 L166.2,418.3 L166.7,405.0 L167.1,426.2 L167.6,394.4 L168.1,426.5 L168.6,415.6 L169.1,397.6 L169.6,418.3 L170.1,399.5 L170.6,436.6 L171.1,393.0 L171.6,427.5 L172.0,385.4 L172.5,412.7 L173.0,405.8 L173.5,413.3 L174.0,370.6 L174.5,419.5 L175.0,382.9 L175.5,391.2 L176.0,313.2 L176.4,338.1 L176.9,357.3 L177.4,341.3 L177.9,337.6 L178.4,332.4 L178.9,317.5 L179.4,303.7 L179.9,351.9 L180.4,330.3 L180.9,331.8 L181.3,377.6 L181.8,325.5 L182.3,370.6 L182.8,324.1 L183.3,331.7 L183.8,305.8 L184.3,291.0 L184.8,348.4 L185.3,316.6 L185.7,386.8 L186.2,322.6 L186.7,345.0 L187.2,371.1 L187.7,367.7 L188.2,387.4 L188.7,400.4 L189.2,366.0 L189.7,427.2 L190.2,394.2 L190.6,417.9 L191.1,436.1 L191.6,402.5 L192.1,426.5 L192.6,411.8 L193.1,429.5 L193.6,420.6 L194.1,432.9 L194.6,422.7 L195.0,399.4 L195.5,443.1 L196.0,417.2 L196.5,415.8 L197.0,418.7 L197.5,444.5 L198.0,396.3 L198.5,418.4 L199.0,419.8 L199.5,410.1 L199.9,397.1 L200.4,389.7 L200.9,429.5 L201.4,416.9 L201.9,402.0 L202.4,391.5 L202.9,425.5 L203.4,360.4 L203.9,388.9 L204.3,419.3 L204.8,407.6 L205.3,379.6 L205.8,405.8 L206.3,373.7 L206.8,416.5 L207.3,391.9 L207.8,387.7 L208.3,385.7 L208.8,363.8 L209.2,403.2 L209.7,347.4 L210.2,383.3 L210.7,365.4 L211.2,386.6 L211.7,377.8 L212.2,375.5 L212.7,376.1 L213.2,372.7 L213.6,346.5 L214.1,398.5 L214.6,366.2 L215.1,379.3 L215.6,368.1 L216.1,379.9 L216.6,351.6 L217.1,396.9 L217.6,344.1 L218.1,374.8 L218.5,373.3 L219.0,373.0 L219.5,388.4 L220.0,351.6 L220.5,417.4 L221.0,373.7 L221.5,401.2 L222.0,365.9 L222.5,402.9 L222.9,338.7 L223.4,343.3 L223.9,399.6 L224.4,324.8 L224.9,385.7 L225.4,346.4 L225.9,329.2 L226.4,308.3 L226.9,381.7 L227.3,341.4 L227.8,337.3 L228.3,345.4 L228.8,323.4 L229.3,332.1 L229.8,354.3 L230.3,279.3 L230.8,309.0 L231.3,362.5 L231.8,341.6 L232.2,365.0 L232.7,363.9 L233.2,403.7 L233.7,392.1 L234.2,383.5 L234.7,408.4 L235.2,436.4 L235.7,361.4 L236.2,395.7 L236.6,360.5 L237.1,412.3 L237.6,367.1 L238.1,390.7 L238.6,366.8 L239.1,356.2 L239.6,411.3 L240.1,390.0 L240.6,385.9 L241.1,359.6 L241.5,381.2 L242.0,383.6 L242.5,319.3 L243.0,365.2 L243.5,355.0 L244.0,350.3 L244.5,366.4 L245.0,365.3 L245.5,346.6 L245.9,349.1 L246.4,329.2 L246.9,402.7 L247.4,366.6 L247.9,387.9 L248.4,391.0 L248.9,358.8 L249.4,410.9 L249.9,342.0 L250.4,386.5 L250.8,391.1 L251.3,369.1 L251.8,398.5 L252.3,348.4 L252.8,415.7 L253.3,408.6 L253.8,319.1 L254.3,379.7 L254.8,363.8 L255.2,354.1 L255.7,397.3 L256.2,326.0 L256.7,391.8 L257.2,325.3 L257.7,402.5 L258.2,390.8 L258.7,358.0 L259.2,351.2 L259.7,381.6 L260.1,398.1 L260.6,333.8 L261.1,374.6 L261.6,383.6 L262.1,392.5 L262.6,391.3 L263.1,399.3 L263.6,377.0 L264.1,426.0 L264.5,436.6 L265.0,409.7 L265.5,476.0 L266.0,378.0 L266.5,402.2 L267.0,423.1 L267.5,454.3 L268.0,415.4 L268.5,421.9 L269.0,384.0 L269.4,459.0 L269.9,426.8 L270.4,397.1 L270.9,423.9 L271.4,373.9 L271.9,445.8 L272.4,439.4 L272.9,356.8 L273.4,398.5 L273.8,383.8 L274.3,394.3 L274.8,360.1 L275.3,398.1 L275.8,417.2 L276.3,329.9 L276.8,397.3 L277.3,343.1 L277.8,322.0 L278.3,399.3 L278.7,370.3 L279.2,383.8 L279.7,424.9 L280.2,342.3 L280.7,356.6 L281.2,405.2 L281.7,433.6 L282.2,354.2 L282.7,394.4 L283.1,393.2 L283.6,396.3 L284.1,353.7 L284.6,440.9 L285.1,387.6 L285.6,407.8 L286.1,439.4 L286.6,400.8 L287.1,435.0 L287.6,364.6 L288.0,381.7 L288.5,429.9 L289.0,400.5 L289.5,452.8 L290.0,418.4 L290.5,441.2 L291.0,398.3 L291.5,464.1 L292.0,432.1 L292.4,442.8 L292.9,423.6 L293.4,417.6 L293.9,441.1 L294.4,449.6 L294.9,383.8 L295.4,401.6 L295.9,410.6 L296.4,401.9 L296.9,372.4 L297.3,440.4 L297.8,395.6 L298.3,403.2 L298.8,364.6 L299.3,435.0 L299.8,404.4 L300.3,360.1 L300.8,413.2 L301.3,394.9 L301.7,419.2 L302.2,426.9 L302.7,356.5 L303.2,363.6 L303.7,362.6 L304.2,399.5 L304.7,365.9 L305.2,390.8 L305.7,354.5 L306.2,371.6 L306.6,321.9 L307.1,394.6 L307.6,345.5 L308.1,381.4 L308.6,368.7 L309.1,368.9 L309.6,379.8 L310.1,372.1 L310.6,420.1 L311.0,338.2 L311.5,370.5 L312.0,376.3 L312.5,412.0 L313.0,366.4 L313.5,405.6 L314.0,351.6 L314.5,415.8 L315.0,362.8 L315.5,369.4 L315.9,356.9 L316.4,357.5 L316.9,370.5 L317.4,298.6 L317.9,329.4 L318.4,355.7 L318.9,292.0 L319.4,355.4 L319.9,289.6 L320.3,354.6 L320.8,316.0 L321.3,351.6 L321.8,360.8 L322.3,347.1 L322.8,397.9 L323.3,325.9 L323.8,348.6 L324.3,371.9 L324.8,348.2 L325.2,349.6 L325.7,327.9 L326.2,377.6 L326.7,361.0 L327.2,344.8 L327.7,346.2 L328.2,364.5 L328.7,348.9 L329.2,368.1 L329.6,322.2 L330.1,339.3 L330.6,333.1 L331.1,333.1 L331.6,345.8 L332.1,322.2 L332.6,286.6 L333.1,362.3 L333.6,301.9 L334.1,354.1 L334.5,307.7 L335.0,335.5 L335.5,394.1 L336.0,303.8 L336.5,320.0 L337.0,383.5 L337.5,382.8 L338.0,309.0 L338.5,407.6 L338.9,311.1 L339.4,308.0 L339.9,408.3 L340.4,339.3 L340.9,389.6 L341.4,355.8 L341.9,382.8 L342.4,343.0 L342.9,355.5 L343.4,375.3 L343.8,381.7 L344.3,365.8 L344.8,388.6 L345.3,376.6 L345.8,404.1 L346.3,398.5 L346.8,389.0 L347.3,394.4 L347.8,403.3 L348.2,394.8 L348.7,402.3 L349.2,426.2 L349.7,383.3 L350.2,398.2 L350.7,398.5 L351.2,403.8 L351.7,364.2 L352.2,406.8 L352.7,351.7 L353.1,423.6 L353.6,370.7 L354.1,388.7 L354.6,371.7 L355.1,400.0 L355.6,345.7 L356.1,382.5 L356.6,361.9 L357.1,390.5 L357.5,377.8 L358.0,357.6 L358.5,349.8 L359.0,406.4 L359.5,382.8 L360.0,385.1 L360.5,400.0 L361.0,363.9 L361.5,410.1 L362.0,435.0 L362.4,364.6 L362.9,429.1 L363.4,384.3 L363.9,384.0 L364.4,417.8 L364.9,390.4 L365.4,427.2 L365.9,377.5 L366.4,448.6 L366.8,387.5 L367.3,428.1 L367.8,439.2 L368.3,379.6 L368.8,423.4 L369.3,406.4 L369.8,407.7 L370.3,398.1 L370.8,429.4 L371.3,410.0 L371.7,409.1 L372.2,415.3 L372.7,401.8 L373.2,394.3 L373.7,430.5 L374.2,414.9 L374.7,406.3 L375.2,396.9 L375.7,414.8 L376.1,403.1 L376.6,398.9 L377.1,425.8 L377.6,362.6 L378.1,399.5 L378.6,401.0 L379.1,394.7 L379.6,410.3 L380.1,376.3 L380.6,430.4 L381.0,375.3 L381.5,412.3 L382.0,379.3 L382.5,423.0 L383.0,373.9 L383.5,433.5 L384.0,416.9 L384.5,389.0 L385.0,418.4 L385.4,412.3 L385.9,461.7 L386.4,391.3 L386.9,418.7 L387.4,432.0 L387.9,434.7 L388.4,409.8 L388.9,424.0 L389.4,417.8 L389.9,447.5 L390.3,430.5 L390.8,445.1 L391.3,449.2 L391.8,386.1 L392.3,481.8 L392.8,423.7 L393.3,394.5 L393.8,439.0 L394.3,372.2 L394.7,414.7 L395.2,416.1 L395.7,400.6 L396.2,404.4 L396.7,419.1 L397.2,392.7 L397.7,414.2 L398.2,375.7 L398.7,431.7 L399.2,398.3 L399.6,400.8 L400.1,406.0 L400.6,399.8 L401.1,429.4 L401.6,358.9 L402.1,365.5 L402.6,394.2 L403.1,394.4 L403.6,377.5 L404.0,379.2 L404.5,379.6 L405.0,382.7 L405.5,357.8 L406.0,420.1 L406.5,400.6 L407.0,407.9 L407.5,382.8 L408.0,412.6 L408.5,388.0 L408.9,385.9 L409.4,418.8 L409.9,373.6 L410.4,411.1 L410.9,379.6 L411.4,424.4 L411.9,394.8 L412.4,381.4 L412.9,423.1 L413.3,413.1 L413.8,390.4 L414.3,375.8 L414.8,435.4 L415.3,423.8 L415.8,378.6 L416.3,423.5 L416.8,381.0 L417.3,424.6 L417.8,384.9 L418.2,420.2 L418.7,390.2 L419.2,417.9 L419.7,395.6 L420.2,401.6 L420.7,407.0 L421.2,414.3 L421.7,377.9 L422.2,415.7 L422.6,370.0 L423.1,424.2 L423.6,422.6 L424.1,405.7 L424.6,379.6 L425.1,422.7 L425.6,381.2 L426.1,398.7 L426.6,418.6 L427.0,367.1 L427.5,398.9 L428.0,406.6 L428.5,400.1 L429.0,398.8 L429.5,375.3 L430.0,385.2 L430.5,407.8 L431.0,376.0 L431.5,369.8 L431.9,415.0 L432.4,391.7 L432.9,358.4 L433.4,410.3 L433.9,337.1 L434.4,393.8 L434.9,374.3 L435.4,406.6 L435.9,367.1 L436.3,373.6 L436.8,418.8 L437.3,401.4 L437.8,388.4 L438.3,378.9 L438.8,389.0 L439.3,412.2 L439.8,339.0 L440.3,370.0 L440.8,373.3 L441.2,384.0 L441.7,387.2 L442.2,414.3 L442.7,366.6 L443.2,402.7 L443.7,362.4 L444.2,418.4 L444.7,382.7 L445.2,375.2 L445.6,392.4 L446.1,419.2 L446.6,374.6 L447.1,419.8 L447.6,346.6 L448.1,354.3 L448.6,367.4 L449.1,414.2 L449.6,383.4 L450.1,382.3 L450.5,417.5 L451.0,372.3 L451.5,377.5 L452.0,428.1 L452.5,392.8 L453.0,395.1 L453.5,410.7 L454.0,386.2 L454.5,413.5 L454.9,382.8 L455.4,411.0 L455.9,389.1 L456.4,394.6 L456.9,384.4 L457.4,399.8 L457.9,363.8 L458.4,400.6 L458.9,356.0 L459.4,420.1 L459.8,373.1 L460.3,435.4 L460.8,385.5 L461.3,445.8 L461.8,385.3 L462.3,424.4 L462.8,403.0 L463.3,401.6 L463.8,409.5 L464.2,394.4 L464.7,377.5 L465.2,426.3 L465.7,392.2 L466.2,398.3 L466.7,420.1 L467.2,356.0 L467.7,403.7 L468.2,401.8 L468.7,393.3 L469.1,377.7 L469.6,437.3 L470.1,396.9 L470.6,405.8 L471.1,425.3 L471.6,390.1 L472.1,393.0 L472.6,418.8 L473.1,373.6 L473.5,398.7 L474.0,399.3 L474.5,394.7 L475.0,390.6 L475.5,395.3 L476.0,392.7 L476.5,371.9 L477.0,424.2 L477.5,399.3 L478.0,423.2 L478.4,375.7 L478.9,428.7 L479.4,398.9 L479.9,431.2 L480.4,359.0 L480.9,412.0 L481.4,397.4 L481.9,407.9 L482.4,391.1 L482.8,412.5 L483.3,403.8 L483.8,382.0 L484.3,375.4 L484.8,417.0 L485.3,400.2 L485.8,401.8 L486.3,431.1 L486.8,410.7 L487.3,448.6 L487.7,385.4 L488.2,407.0 L488.7,414.7 L489.2,404.2 L489.7,396.2 L490.2,420.8 L490.7,389.2 L491.2,383.0 L491.7,420.9 L492.1,402.0 L492.6,415.4 L493.1,407.1 L493.6,402.0 L494.1,403.2 L494.6,410.1 L495.1,427.1 L495.6,447.6 L496.1,383.5 L496.6,403.0 L497.0,406.1 L497.5,404.1 L498.0,373.3 L498.5,366.2 L499.0,420.4 L499.5,381.9 L500.0,391.3 L500.5,318.7 L501.0,360.4 L501.4,350.3 L501.9,346.6 L502.4,377.7 L502.9,380.6 L503.4,347.2 L503.9,401.4 L504.4,353.5 L504.9,385.6 L505.4,388.2 L505.9,384.7 L506.3,398.7 L506.8,422.2 L507.3,366.2 L507.8,376.0 L508.3,391.5 L508.8,387.1 L509.3,387.2 L509.8,405.4 L510.3,377.3 L510.7,418.9 L511.2,423.0 L511.7,367.2 L512.2,394.5 L512.7,425.7 L513.2,360.7 L513.7,377.2 L514.2,389.2 L514.7,394.1 L515.2,425.1 L515.6,375.9 L516.1,438.2 L516.6,406.7 L517.1,418.1 L517.6,380.6 L518.1,409.0 L518.6,383.6 L519.1,420.7 L519.6,377.4 L520.0,405.7 L520.5,390.5 L521.0,404.0 L521.5,365.2 L522.0,408.5 L522.5,362.6 L523.0,383.1 L523.5,377.1 L524.0,381.8 L524.5,348.3 L524.9,412.5 L525.4,391.7 L525.9,381.2 L526.4,440.8 L526.9,370.3 L527.4,426.0 L527.9,377.8 L528.4,373.5 L528.9,402.2 L529.3,415.9 L529.8,386.1 L530.3,366.0 L530.8,413.0 L531.3,386.1 L531.8,388.7 L532.3,412.3 L532.8,343.7 L533.3,379.2 L533.8,372.1 L534.2,371.7 L534.7,393.7 L535.2,398.1 L535.7,394.3 L536.2,397.0 L536.7,360.8 L537.2,427.6 L537.7,385.3 L538.2,419.1 L538.6,416.2 L539.1,397.7 L539.6,411.5 L540.1,430.3 L540.6,388.7 L541.1,408.8 L541.6,419.3 L542.1,414.6 L542.6,407.0 L543.1,438.5 L543.5,411.0 L544.0,412.0 L544.5,400.4 L545.0,452.8 L545.5,423.8 L546.0,423.3 L546.5,412.6 L547.0,434.9 L547.5,399.3 L547.9,436.1 L548.4,398.2 L548.9,432.9 L549.4,421.6 L549.9,422.8 L550.4,422.3 L550.9,422.7 L551.4,438.4 L551.9,396.7 L552.4,454.5 L552.8,415.8 L553.3,429.5 L553.8,415.1 L554.3,447.1 L554.8,398.7 L555.3,439.6 L555.8,392.7 L556.3,422.4 L556.8,412.2 L557.2,413.5 L557.7,416.2 L558.2,372.1 L558.7,433.5 L559.2,384.4 L559.7,422.1 L560.2,388.7 L560.7,410.7 L561.2,413.5 L561.7,431.6 L562.1,443.3 L562.6,392.7 L563.1,431.7 L563.6,403.1 L564.1,406.4 L564.6,421.8 L565.1,416.3 L565.6,400.1 L566.1,439.8 L566.5,410.6 L567.0,455.2 L567.5,436.8 L568.0,452.0 L568.5,475.9 L569.0,432.5 L569.5,441.8 L570.0,452.2 L570.5,450.1 L571.0,431.7 L571.4,458.7 L571.9,435.0 L572.4,449.7 L572.9,439.6 L573.4,423.5 L573.9,404.4 L574.4,465.8 L574.9,450.3 L575.4,391.8 L575.8,437.5 L576.3,393.6 L576.8,431.8 L577.3,379.5 L577.8,388.2 L578.3,403.6 L578.8,409.4 L579.3,412.9 L579.8,390.0 L580.3,395.4 L580.7,406.0 L581.2,407.8 L581.7,386.9 L582.2,430.2 L582.7,421.9 L583.2,415.4 L583.7,417.6 L584.2,398.5 L584.7,441.2 L585.1,385.2 L585.6,399.4 L586.1,430.9 L586.6,405.3 L587.1,410.8 L587.6,430.1 L588.1,412.4 L588.6,421.8 L589.1,385.2 L589.6,437.5 L590.0,395.6 L590.5,415.4 L591.0,421.0 L591.5,398.7 L592.0,418.6 L592.5,435.8 L593.0,387.0 L593.5,418.4 L594.0,418.7 L594.4,405.9 L594.9,426.1 L595.4,411.1 L595.9,410.0 L596.4,431.1 L596.9,379.7 L597.4,442.9 L597.9,434.9 L598.4,398.0 L598.9,429.1 L599.3,383.6 L599.8,428.5 L600.3,392.9 L600.8,410.8 L601.3,448.5 L601.8,380.7 L602.3,391.9 L602.8,430.7 L603.3,424.1 L603.7,412.4 L604.2,426.1 L604.7,400.0 L605.2,429.7 L605.7,410.8 L606.2,400.1 L606.7,439.8 L607.2,411.9 L607.7,413.1 L608.2,423.2 L608.6,456.6 L609.1,404.2 L609.6,432.9 L610.1,401.8 L610.6,407.2 L611.1,423.2 L611.6,415.2 L612.1,395.5 L612.6,439.7 L613.0,416.0 L613.5,412.1 L614.0,418.5 L614.5,426.7 L615.0,447.3 L615.5,404.0 L616.0,448.4 L616.5,414.3 L617.0,437.1 L617.4,416.4 L617.9,434.9 L618.4,436.3 L618.9,437.9 L619.4,411.7 L619.9,458.6 L620.4,429.6 L620.9,413.3 L621.4,406.2 L621.9,447.2 L622.3,416.2 L622.8,438.1 L623.3,401.9 L623.8,417.4 L624.3,431.4 L624.8,400.2 L625.3,430.3 L625.8,419.7 L626.3,400.0 L626.7,436.2 L627.2,418.6 L627.7,444.8 L628.2,406.4 L628.7,426.8 L629.2,433.7 L629.7,443.7 L630.2,428.1 L630.7,458.7 L631.2,415.4 L631.6,430.3 L632.1,450.3 L632.6,440.2 L633.1,443.2 L633.6,421.8 L634.1,424.3 L634.6,407.8 L635.1,449.3 L635.6,434.5 L636.0,433.0 L636.5,412.7 L637.0,442.8 L637.5,425.6 L638.0,463.8 L638.5,400.6 L639.0,430.9 L639.5,439.7 L640.0,429.7 L640.5,434.8 L640.9,423.8 L641.4,437.5 L641.9,427.3 L642.4,417.0 L642.9,444.0 L643.4,428.8 L643.9,450.0 L644.4,433.2 L644.9,446.6 L645.3,446.2 L645.8,475.6 L646.3,423.2 L646.8,429.0 L647.3,471.9 L647.8,416.2 L648.3,453.2 L648.8,440.1 L649.3,440.6 L649.8,409.8 L650.2,458.6 L650.7,450.9 L651.2,438.3 L651.7,482.5 L652.2,408.4 L652.7,465.6 L653.2,424.5 L653.7,437.3 L654.2,437.8 L654.6,446.2 L655.1,414.8 L655.6,425.5 L656.1,428.8 L656.6,403.8 L657.1,436.3 L657.6,419.3 L658.1,419.3 L658.6,412.8 L659.1,439.6 L659.5,390.8 L660.0,403.8 L660.5,424.5 L661.0,391.8 L661.5,445.1 L662.0,415.5 L662.5,442.5 L663.0,419.3 L663.5,434.5 L663.9,411.6 L664.4,419.8 L664.9,449.1 L665.4,402.2 L665.9,421.9 L666.4,428.1 L666.9,437.7 L667.4,427.2 L667.9,420.4 L668.4,430.4 L668.8,407.9 L669.3,453.9 L669.8,416.0 L670.3,436.1 L670.8,434.7 L671.3,428.0 L671.8,420.8 L672.3,427.2 L672.8,431.8 L673.2,454.7 L673.7,402.3 L674.2,423.5 L674.7,416.7 L675.2,451.3 L675.7,421.5 L676.2,437.7 L676.7,428.7 L677.2,418.5 L677.7,404.1 L678.1,454.7 L678.6,432.6 L679.1,412.7 L679.6,439.3 L680.1,381.5 L680.6,411.4 L681.1,438.6 L681.6,422.2 L682.1,463.3 L682.5,432.4 L683.0,454.6 L683.5,442.4 L684.0,397.2 L684.5,480.3 L685.0,442.0 L685.5,441.2 L686.0,464.2 L686.5,454.0 L687.0,494.0 L687.4,423.6 L687.9,449.8 L688.4,455.3 L688.9,436.6 L689.4,451.3 L689.9,406.6 L690.4,441.1 L690.9,400.3 L691.4,450.9 L691.8,426.4 L692.3,422.0 L692.8,421.3 L693.3,422.1 L693.8,436.8 L694.3,398.4 L694.8,438.2 L695.3,390.5 L695.8,424.3 L696.3,439.5 L696.7,388.9 L697.2,425.5 L697.7,427.4 L698.2,410.8 L698.7,436.4 L699.2,425.7 L699.7,419.7 L700.2,417.4 L700.7,465.3 L701.1,459.4 L701.6,421.5 L702.1,462.0 L702.6,420.6 L703.1,459.3 L703.6,455.1 L704.1,415.3 L704.6,440.2 L705.1,445.6 L705.6,450.8 L706.0,454.7 L706.5,435.8 L707.0,439.4 L707.5,425.7 L708.0,426.9 L708.5,474.8 L709.0,443.6 L709.5,437.2 L710.0,428.4 L710.4,449.0 L710.9,398.4 L711.4,429.0 L711.9,403.7 L712.4,443.3 L712.9,401.6 L713.4,436.2 L713.9,415.0 L714.4,428.8 L714.9,416.1 L715.3,422.0 L715.8,405.9 L716.3,449.2 L716.8,451.7 L717.3,411.7 L717.8,433.0 L718.3,424.2 L718.8,424.6 L719.3,453.1 L719.7,411.6 L720.2,430.7 L720.7,415.5 L721.2,435.3 L721.7,409.6 L722.2,432.5 L722.7,422.3 L723.2,393.7 L723.7,447.0 L724.2,412.9 L724.6,435.9 L725.1,411.5 L725.6,432.3 L726.1,426.4 L726.6,445.5 L727.1,404.0 L727.6,438.7 L728.1,415.3 L728.6,433.3 L729.0,426.4 L729.5,452.3 L730.0,419.2 L730.5,462.5 L731.0,456.8 L731.5,452.7 L732.0,451.9 L732.5,426.5 L733.0,464.2 L733.5,411.8 L733.9,446.1 L734.4,430.3 L734.9,421.6 L735.4,444.5 L735.9,427.9 L736.4,409.2 L736.9,426.9 L737.4,391.9 L737.9,448.8 L738.3,432.7 L738.8,435.1 L739.3,435.0 L739.8,431.1 L740.3,421.9 L740.8,455.5 L741.3,452.8 L741.8,465.7 L742.3,479.2 L742.8,421.4 L743.2,463.3 L743.7,455.3 L744.2,442.1 L744.7,449.9 L745.2,424.1 L745.7,450.4 L746.2,416.2 L746.7,438.3 L747.2,401.4 L747.6,458.3 L748.1,413.3 L748.6,442.3 L749.1,446.4 L749.6,476.5 L750.1,423.2 L750.6,454.0 L751.1,448.6 L751.6,448.0 L752.1,424.8 L752.5,440.5 L753.0,423.9 L753.5,402.2 L754.0,451.0 L754.5,433.9 L755.0,418.6 L755.5,454.4 L756.0,418.3 L756.5,437.8 L756.9,455.1 L757.4,415.3 L757.9,418.5 L758.4,445.1 L758.9,427.8 L759.4,444.0 L759.9,438.2 L760.4,453.2 L760.9,421.1 L761.4,463.5 L761.8,444.7 L762.3,416.1 L762.8,450.7 L763.3,392.9 L763.8,401.7 L764.3,444.3 L764.8,410.0 L765.3,467.8 L765.8,420.2 L766.2,448.7 L766.7,431.2 L767.2,449.1 L767.7,437.8 L768.2,456.7 L768.7,407.9 L769.2,407.7 L769.7,452.1 L770.2,415.2 L770.7,440.8 L771.1,423.8 L771.6,412.4 L772.1,416.0 L772.6,401.1 L773.1,379.6 L773.6,439.2 L774.1,416.9 L774.6,412.0 L775.1,445.4 L775.5,429.1 L776.0,449.6 L776.5,479.3 L777.0,423.3 L777.5,468.0 L778.0,451.4 L778.5,452.0 L779.0,449.3 L779.5,452.8 L780.0,453.2 L780.4,434.3 L780.9,474.1 L781.4,464.2 L781.9,416.3 L782.4,465.8 L782.9,404.4 L783.4,443.3 L783.9,409.9 L784.4,461.4 L784.8,428.7 L785.3,445.2 L785.8,442.1 L786.3,419.7 L786.8,407.9 L787.3,456.7 L787.8,434.0 L788.3,436.6 L788.8,410.9 L789.3,426.2 L789.7,419.7 L790.2,446.6 L790.7,380.7 L791.2,404.4 L791.7,451.1 L792.2,391.9 L792.7,467.6 L793.2,401.8 L793.7,379.4 L794.1,473.3 L794.6,389.1 L795.1,463.9 L795.6,448.5 L796.1,424.0 L796.6,429.5 L797.1,469.8 L797.6,415.6 L798.1,432.2 L798.6,435.1 L799.0,440.5 L799.5,450.4 L800.0,433.2 L800.5,448.8 L801.0,421.0 L801.5,457.1 L802.0,452.7 L802.5,451.7 L803.0,426.1 L803.4,474.2 L803.9,482.0 L804.4,423.3 L804.9,436.4 L805.4,438.3 L805.9,441.5 L806.4,450.4 L806.9,421.2 L807.4,470.0 L807.9,440.0 L808.3,455.0 L808.8,437.7 L809.3,447.6 L809.8,456.9 L810.3,466.3 L810.8,423.0 L811.3,429.0 L811.8,456.4 L812.3,439.9 L812.7,449.0 L813.2,436.9 L813.7,416.6 L814.2,471.7 L814.7,441.4 L815.2,464.9 L815.7,454.3 L816.2,436.2 L816.7,470.7 L817.1,486.8 L817.6,429.0 L818.1,445.7 L818.6,446.0 L819.1,477.9 L819.6,454.9 L820.1,445.0 L820.6,441.5 L821.1,429.0 L821.6,488.7 L822.0,465.8 L822.5,406.2 L823.0,451.2 L823.5,423.2 L824.0,456.9 L824.5,436.8 L825.0,427.3 L825.5,417.8 L826.0,407.9 L826.4,456.7 L826.9,458.6 L827.4,432.4 L827.9,437.5 L828.4,445.6 L828.9,404.4 L829.4,441.1 L829.9,458.0 L830.4,390.2 L830.9,418.2 L831.3,391.9 L831.8,467.7 L832.3,397.9 L832.8,466.2 L833.3,400.8 L833.8,473.0 L834.3,438.8 L834.8,437.9 L835.3,420.2 L835.7,464.2 L836.2,426.6 L836.7,467.5 L837.2,399.8 L837.7,423.6 L838.2,469.8 L838.7,425.8 L839.2,451.5 L839.7,440.9 L840.2,431.9 L840.6,415.7 L841.1,473.5 L841.6,441.4 L842.1,455.0 L842.6,433.4 L843.1,421.3 L843.6,458.3 L844.1,400.5 L844.6,442.4 L845.0,432.8 L845.5,421.8 L846.0,457.1 L846.5,421.2 L847.0,455.4 L847.5,419.3 L848.0,466.2 L848.5,418.4 L849.0,459.9 L849.5,443.1 L849.9,440.6 L850.4,403.0 L850.9,420.9 L851.4,457.5 L851.9,376.3 L852.4,414.4 L852.9,422.2 L853.4,421.2 L853.9,426.6 L854.3,425.3 L854.8,444.3 L855.3,378.1 L855.8,457.6 L856.3,377.0 L856.8,412.8 L857.3,405.6 L857.8,397.9 L858.3,467.3 L858.8,364.4 L859.2,404.0 L859.7,420.7 L860.2,416.9 L860.7,432.8 L861.2,419.8 L861.7,441.6 L862.2,407.9 L862.7,458.5 L863.2,440.4 L863.6,430.1 L864.1,436.9 L864.6,455.7 L865.1,420.9 L865.6,451.4 L866.1,469.2 L866.6,396.1 L867.1,425.8 L867.6,420.0 L868.1,431.8 L868.5,414.9 L869.0,422.5 L869.5,435.4 L870.0,410.3 L870.5,392.7 L871.0,439.6 L871.5,422.6 L872.0,391.4 L872.5,412.3 L872.9,429.5 L873.4,361.7 L873.9,415.5 L874.4,397.7 L874.9,418.3 L875.4,388.4 L875.9,411.2 L876.4,388.9 L876.9,437.7 L877.4,404.1 L877.8,412.7 L878.3,405.4 L878.8,409.7 L879.3,395.6 L879.8,399.0 L880.3,430.1 L880.8,381.3 L881.3,406.1 L881.8,400.2 L882.2,400.1 L882.7,415.9 L883.2,401.4 L883.7,414.3 L884.2,398.1 L884.7,385.2 L885.2,440.3 L885.7,412.4 L886.2,404.3 L886.7,418.3 L887.1,441.0 L887.6,375.9 L888.1,428.3 L888.6,391.2 L889.1,418.9 L889.6,403.9 L890.1,401.5 L890.6,390.0 L891.1,416.7 L891.5,374.7 L892.0,428.0 L892.5,401.7 L893.0,404.4 L893.5,391.3 L894.0,415.7 L894.5,372.8 L895.0,442.6 L895.5,370.4 L896.0,411.8 L896.4,403.9 L896.9,387.6 L897.4,387.2 L897.9,397.2 L898.4,375.3 L898.9,348.4 L899.4,416.2 L899.9,401.5 L900.4,376.1 L900.8,401.5 L901.3,350.9 L901.8,391.5 L902.3,339.1 L902.8,394.3 L903.3,326.6 L903.8,309.3 L904.3,415.0 L904.8,418.3 L905.3,363.1 L905.7,353.4 L906.2,416.3 L906.7,354.9 L907.2,405.4 L907.7,367.6 L908.2,425.5 L908.7,365.6 L909.2,480.3 L909.7,424.9 L910.1,475.0 L910.6,431.6 L911.1,477.6 L911.6,428.8 L912.1,468.5 L912.6,464.7 L913.1,451.5 L913.6,496.1 L914.1,438.7 L914.6,503.7 L915.0,466.7 L915.5,483.2 L916.0,448.8 L916.5,477.8 L917.0,436.3 L917.5,458.6 L918.0,468.5 L918.5,463.1 L919.0,455.9 L919.4,418.0 L919.9,493.8 L920.4,445.7 L920.9,478.6 L921.4,405.9 L921.9,452.5 L922.4,461.8 L922.9,476.6 L923.4,396.2 L923.9,451.8 L924.3,457.9 L924.8,432.4 L925.3,475.1 L925.8,444.5 L926.3,466.5 L926.8,462.8 L927.3,429.5 L927.8,510.8 L928.3,474.7 L928.7,471.4 L929.2,434.3 L929.7,502.9 L930.2,411.7 L930.7,445.9 L931.2,455.7 L931.7,453.4 L932.2,430.8 L932.7,492.3 L933.2,403.6 L933.6,459.6 L934.1,402.8 L934.6,480.5 L935.1,458.7 L935.6,427.3 L936.1,448.6 L936.6,463.8 L937.1,400.6 L937.6,417.8 L938.0,420.2 L938.5,446.6 L939.0,416.2 L939.5,444.8 L940.0,422.8 L940.5,434.9 L941.0,394.0 L941.5,461.8 L942.0,418.4 L942.5,459.3 L942.9,427.0 L943.4,453.7 L943.9,433.8 L944.4,425.5 L944.9,489.4 L945.4,423.5 L945.9,431.0 L946.4,456.1 L946.9,421.8 L947.3,446.6 L947.8,430.4 L948.3,434.6 L948.8,428.6 L949.3,391.2 L949.8,458.0 L950.3,428.1 L950.8,431.1 L951.3,460.1 L951.8,400.5 L952.2,424.9 L952.7,446.2 L953.2,431.8 L953.7,468.5 L954.2,430.0 L954.7,448.4 L955.2,432.9 L955.7,494.3 L956.2,427.6 L956.6,476.5 L957.1,421.4 L957.6,415.9 L958.1,459.5 L958.6,379.1 L959.1,391.6 L959.6,414.1 L960.1,434.7 L960.6,438.4 L961.1,433.8 L961.5,419.1 L962.0,435.1 L962.5,431.2 L963.0,404.2 L963.5,458.4 L964.0,421.4 L964.5,460.0 L965.0,417.3 L965.5,456.1 L965.9,412.4 L966.4,439.2 L966.9,447.8 L967.4,489.5 L967.9,397.4 L968.4,414.9 L968.9,446.5 L969.4,419.6 L969.9,419.1 L970.4,417.4 L970.8,421.7 L971.3,373.8 L971.8,429.8 L972.3,436.5 L972.8,392.3 L973.3,405.4 L973.8,491.9 L974.3,355.6 L974.8,434.2 L975.2,444.9 L975.7,353.6 L976.2,450.2 L976.7,402.8 L977.2,389.5 L977.7,424.8 L978.2,400.3 L978.7,394.4 L979.2,357.3 L979.7,440.4 L980.1,421.1 L980.6,371.1 L981.1,377.7 L981.6,385.7 L982.1,375.0 L982.6,395.9 L983.1,410.2 L983.6,336.2 L984.1,358.0 L984.5,400.1 L985.0,336.9 L985.5,395.6 L986.0,332.6 L986.5,384.7 L987.0,348.1 L987.5,368.8 L988.0,331.9 L988.5,382.5 L989.0,360.6 L989.4,393.7 L989.9,375.0 L990.4,382.3 L990.9,420.7 L991.4,377.4 L991.9,394.8 L992.4,379.8 L992.9,410.8 L993.4,400.7 L993.8,364.4 L994.3,396.2 L994.8,385.5 L995.3,342.8 L995.8,412.3 L996.3,412.1 L996.8,386.3 L997.3,429.7 L997.8,370.1 L998.3,394.6 L998.7,410.4 L999.2,384.0 L999.7,410.0 L1000.2,381.9 L1000.7,412.0 L1001.2,389.7 L1001.7,392.5 L1002.2,375.1 L1002.7,360.8 L1003.1,427.6 L1003.6,396.9 L1004.1,366.0 L1004.6,377.8 L1005.1,390.2 L1005.6,342.3 L1006.1,358.1 L1006.6,371.9 L1007.1,367.2 L1007.6,367.4 L1008.0,361.9 L1008.5,350.7 L1009.0,390.4 L1009.5,369.0 L1010.0,352.3 L1010.5,371.4 L1011.0,367.7 L1011.5,401.1 L1012.0,336.9 L1012.4,394.5 L1012.9,365.4 L1013.4,370.9 L1013.9,343.9 L1014.4,421.5 L1014.9,359.4 L1015.4,394.5 L1015.9,386.5 L1016.4,406.1 L1016.8,379.6 L1017.3,416.7 L1017.8,366.1 L1018.3,377.9 L1018.8,392.0 L1019.3,382.5 L1019.8,371.1 L1020.3,401.4 L1020.8,380.3 L1021.3,407.3 L1021.7,346.6 L1022.2,416.1 L1022.7,396.3 L1023.2,372.5 L1023.7,383.3 L1024.2,421.8 L1024.7,351.3 L1025.2,392.1 L1025.7,376.5 L1026.1,395.5 L1026.6,376.4 L1027.1,362.8 L1027.6,356.6 L1028.1,405.3 L1028.6,364.8 L1029.1,401.8 L1029.6,399.3 L1030.1,443.9 L1030.6,381.6 L1031.0,410.7 L1031.5,389.8 L1032.0,417.2 L1032.5,400.8 L1033.0,383.1 L1033.5,403.9 L1034.0,364.3 L1034.5,420.3 L1035.0,398.4 L1035.4,391.3 L1035.9,380.7 L1036.4,400.5 L1036.9,379.6 L1037.4,367.7 L1037.9,412.3 L1038.4,341.8 L1038.9,386.9 L1039.4,366.1 L1039.9,392.2 L1040.3,392.2 L1040.8,380.3 L1041.3,396.6 L1041.8,364.0 L1042.3,405.6 L1042.8,390.8 L1043.3,372.9 L1043.8,396.0 L1044.3,368.3 L1044.7,375.0 L1045.2,376.3 L1045.7,373.0 L1046.2,406.6 L1046.7,338.0 L1047.2,357.8 L1047.7,378.8 L1048.2,386.3 L1048.7,387.9 L1049.2,385.8 L1049.6,418.3 L1050.1,366.2 L1050.6,418.5 L1051.1,399.3 L1051.6,401.8 L1052.1,387.0 L1052.6,365.5 L1053.1,399.1 L1053.6,379.7 L1054.0,416.2 L1054.5,350.3 L1055.0,421.2 L1055.5,367.2 L1056.0,417.5 L1056.5,381.1 L1057.0,409.7 L1057.5,373.9 L1058.0,431.7 L1058.5,419.1 L1058.9,393.8 L1059.4,402.2 L1059.9,400.5 L1060.4,437.0 L1060.9,368.4 L1061.4,421.1 L1061.9,374.7 L1062.4,389.5 L1062.9,403.8 L1063.3,418.1 L1063.8,400.8 L1064.3,366.3 L1064.8,424.1 L1065.3,379.4 L1065.8,404.1 L1066.3,353.6 L1066.8,408.4 L1067.3,395.4 L1067.8,438.1 L1068.2,342.4 L1068.7,375.7 L1069.2,397.6 L1069.7,400.7 L1070.2,418.3 L1070.7,386.2 L1071.2,354.3 L1071.7,357.0 L1072.2,346.3 L1072.6,401.3 L1073.1,357.6 L1073.6,393.9 L1074.1,382.3 L1074.6,402.1 L1075.1,395.1 L1075.6,446.3 L1076.1,368.6 L1076.6,403.5 L1077.1,423.6 L1077.5,434.9 L1078.0,377.2 L1078.5,405.6 L1079.0,418.4 L1079.5,435.4 L1080.0,397.4 L1080.5,366.7 L1081.0,447.1 L1081.5,425.9 L1081.9,376.9 L1082.4,418.5 L1082.9,389.4 L1083.4,399.6 L1083.9,405.7 L1084.4,393.6 L1084.9,412.4 L1085.4,345.6 L1085.9,346.5 L1086.4,409.7 L1086.8,402.0 L1087.3,375.8 L1087.8,387.7 L1088.3,376.2 L1088.8,390.3 L1089.3,352.8 L1089.8,403.4 L1090.3,370.7 L1090.8,380.3 L1091.2,382.1 L1091.7,379.8 L1092.2,363.5 L1092.7,405.3 L1093.2,356.6 L1093.7,368.0 L1094.2,396.9 L1094.7,366.0 L1095.2,382.4 L1095.7,378.1 L1096.1,336.9 L1096.6,401.1 L1097.1,388.2 L1097.6,369.7 L1098.1,391.6 L1098.6,357.7 L1099.1,383.5 L1099.6,381.9 L1100.1,374.4 L1100.5,414.3 L1101.0,349.3 L1101.5,367.6 L1102.0,414.0 L1102.5,357.0 L1103.0,398.9 L1103.5,373.9 L1104.0,381.9 L1104.5,354.9 L1105.0,414.5 L1105.4,399.3 L1105.9,382.5 L1106.4,373.8 L1106.9,396.9 L1107.4,345.6 L1107.9,413.9 L1108.4,334.4 L1108.9,384.9 L1109.4,350.2 L1109.8,360.9 L1110.3,407.6 L1110.8,347.4 L1111.3,333.4 L1111.8,408.3 L1112.3,399.5 L1112.8,286.6 L1113.3,348.7 L1113.8,396.1 L1114.3,371.8 L1114.7,364.3 L1115.2,420.3 L1115.7,382.5 L1116.2,400.5 L1116.7,425.4 L1117.2,350.5 L1117.7,410.7 L1118.2,386.8 L1118.7,425.4 L1119.1,385.6 L1119.6,456.0 L1120.1,403.6 L1120.6,437.6 L1121.1,399.3 L1121.6,443.3 L1122.1,362.9 L1122.6,367.9 L1123.1,418.5 L1123.6,382.6 L1124.0,428.9 L1124.5,413.7 L1125.0,401.8 L1125.5,432.5 L1126.0,420.0 L1126.4,300.0 L1126.8,212.0 L1127.3,262.0 L1128.0,287.2 L1128.4,195.1 L1128.9,221.9 L1129.4,241.2 L1129.9,242.5 L1130.4,240.4 L1130.9,222.9 L1131.4,262.3 L1131.9,208.3 L1132.4,202.1 L1132.9,265.3 L1133.3,227.8 L1133.8,227.8 L1134.3,216.5 L1134.8,225.3 L1135.3,207.2 L1135.8,249.7 L1136.3,172.9 L1136.8,188.8 L1137.3,238.9 L1137.7,246.0 L1138.2,246.0 L1138.7,302.5 L1139.2,223.4 L1139.7,305.6 L1140.2,255.1 L1140.7,277.4 L1141.2,240.6 L1141.7,273.3 L1142.2,222.7 L1142.6,227.7 L1143.1,255.4 L1143.6,253.8 L1144.1,233.2 L1144.6,245.7 L1145.1,252.0 L1145.6,237.3 L1146.1,206.1 L1146.6,280.2 L1147.0,254.3 L1147.5,225.8 L1148.0,234.3 L1148.5,286.7 L1149.0,240.9 L1149.5,273.6 L1150.0,227.6 L1150.5,268.4 L1151.0,246.9 L1151.5,297.2 L1151.9,219.5 L1152.4,232.2 L1152.9,258.6 L1153.4,217.5 L1153.9,277.7 L1154.4,238.6 L1154.9,197.7 L1155.4,279.9 L1155.9,237.8 L1156.3,256.5 L1156.8,220.8 L1157.3,245.7 L1157.8,230.0 L1158.3,265.1 L1158.8,196.5 L1159.3,194.4 L1159.8,256.9 L1160.3,215.3 L1160.8,211.6 L1161.2,243.5 L1161.7,229.8 L1162.2,228.6 L1162.7,214.1 L1163.2,241.8 L1163.7,188.1 L1164.2,264.9 L1164.7,258.4 L1165.2,229.6 L1165.6,243.9 L1166.1,268.8 L1166.6,196.6 L1167.1,239.2 L1167.6,249.7 L1168.1,250.9 L1168.6,269.7 L1169.1,261.7 L1169.6,230.5 L1170.1,286.4 L1170.5,261.0 L1171.0,267.6 L1171.5,314.3 L1172.0,236.6 L1172.5,257.5 L1173.0,275.1 L1173.5,272.5 L1174.0,261.6 L1174.5,269.0 L1174.9,236.5 L1175.4,285.1 L1175.9,234.3 L1176.4,292.1 L1176.9,265.1 L1177.4,239.5 L1177.9,301.1 L1178.4,244.5 L1178.9,304.9 L1179.4,230.8 L1179.8,295.6 L1180.3,256.9 L1180.8,259.9 L1181.3,264.8 L1181.8,276.2 L1182.3,239.1 L1182.8,244.2 L1183.3,276.7 L1183.8,205.3 L1184.2,285.7 L1184.7,283.1 L1185.2,226.3 L1185.7,246.5 L1186.2,241.6 L1186.7,230.7 L1187.2,244.0 L1187.7,268.8 L1188.2,195.6 L1188.7,234.9 L1189.1,238.2 L1189.6,237.4 L1190.1,240.1 L1190.6,240.9 L1191.1,233.7 L1191.6,239.9 L1192.1,209.4 L1192.6,256.3 L1193.1,247.4 L1193.5,206.3 L1194.0,258.8 L1194.5,271.8 L1195.0,205.0 L1195.5,273.5 L1196.0,201.4 L1196.5,267.4 L1197.0,246.0 L1197.5,253.6 L1198.0,211.6 L1198.4,225.2 L1198.9,214.7 L1199.4,252.7 L1199.9,193.7 L1200.4,266.9 L1200.9,234.3 L1201.4,242.5 L1201.9,242.5 L1202.4,278.2 L1202.8,200.5 L1203.3,274.1 L1203.8,184.8 L1204.3,261.5 L1204.8,166.4 L1205.3,249.5 L1205.8,198.6 L1206.3,219.8 L1206.8,220.2 L1207.2,221.5 L1207.7,258.0 L1208.2,205.7 L1208.7,215.2 L1209.2,252.2 L1209.7,208.7 L1210.2,219.0 L1210.7,225.4 L1211.2,177.6 L1211.7,249.8 L1212.1,225.7 L1212.6,242.2 L1213.1,204.5 L1213.6,230.1 L1214.1,236.3 L1214.6,267.4 L1215.1,211.4 L1215.6,231.7 L1216.1,253.9 L1216.5,249.0 L1217.0,253.5 L1217.5,250.6 L1218.0,208.2 L1218.5,290.4 L1219.0,252.1 L1219.5,220.7 L1220.0,261.1 L1220.5,268.2 L1221.0,176.1 L1221.4,225.8 L1221.9,200.4 L1222.4,275.2 L1222.9,200.0 L1223.4,256.4 L1223.9,227.3 L1224.4,208.1 L1224.9,287.6 L1225.4,241.2 L1225.8,260.5 L1226.3,264.7 L1226.8,182.5 L1227.3,184.1 L1227.8,246.7 L1228.3,218.3 L1228.8,227.3 L1229.3,227.8 L1229.8,249.6 L1230.3,215.1 L1230.7,265.7 L1231.2,241.5 L1231.7,220.7 L1232.2,244.3 L1232.7,198.1 L1233.2,274.6 L1233.7,175.3 L1234.2,219.3 L1234.7,230.1 L1235.1,224.3 L1235.6,222.8 L1236.1,254.7 L1236.6,263.7 L1237.1,207.6 L1237.6,259.9 L1238.1,225.2 L1238.6,227.1 L1239.1,256.6 L1239.6,203.7 L1240.0,253.8 L1240.5,187.0 L1241.0,226.5 L1241.5,201.4 L1242.0,214.2 L1242.5,176.8 L1243.0,201.7 L1243.5,160.0 L1244.0,212.4 L1244.4,190.6 L1244.9,208.4 L1245.4,188.5 L1245.9,211.0 L1246.4,157.5 L1246.9,234.5 L1247.4,158.6 L1247.9,196.3 L1248.4,214.8 L1248.9,222.4 L1249.3,189.4 L1249.8,216.8 L1250.3,216.9 L1250.8,228.1 L1251.3,207.4 L1251.8,250.7 L1252.3,218.8 L1252.8,231.3 L1253.3,268.7 L1253.7,191.0 L1254.2,247.5 L1254.7,218.2 L1255.2,249.3 L1255.7,251.5 L1256.2,216.0 L1256.7,245.9 L1257.2,262.7 L1257.7,215.4 L1258.2,278.6 L1258.6,232.4 L1259.1,252.9 L1259.6,263.6 L1260.1,244.2 L1260.6,251.8 L1261.1,284.9 L1261.6,241.6 L1262.1,255.1 L1262.6,260.7 L1263.0,265.0 L1263.5,265.8 L1264.0,260.5 L1264.5,233.8 L1265.0,279.0 L1265.5,245.9 L1266.0,281.1 L1266.5,221.6 L1267.0,213.1 L1267.5,301.6 L1267.9,242.5 L1268.4,286.9 L1268.9,238.8 L1269.4,273.5 L1269.9,284.7 L1270.4,234.1 L1270.9,261.1 L1271.4,265.8 L1271.9,255.6 L1272.3,227.1 L1272.8,215.4 L1273.3,278.6 L1273.8,225.9 L1274.3,260.0 L1274.8,235.3 L1275.3,219.3 L1275.8,230.8 L1276.3,220.0 L1276.8,227.0 L1277.2,233.4 L1277.7,275.8 L1278.2,182.8 L1278.7,199.9 L1279.2,233.0 L1279.7,258.3 L1280.2,232.6 L1280.7,232.4 L1281.2,185.3 L1281.6,233.1 L1282.1,230.3 L1282.6,189.1 L1283.1,268.6 L1283.6,298.9 L1284.1,215.8 L1284.6,229.5 L1285.1,250.1 L1285.6,245.1 L1286.1,246.6 L1286.5,250.7 L1287.0,256.6 L1287.5,249.6 L1288.0,213.6 L1288.5,280.4 L1289.0,261.3 L1289.5,236.3 L1290.0,267.9 L1290.5,218.5 L1290.9,249.8 L1291.4,210.2 L1291.9,249.3 L1292.4,268.4 L1292.9,181.7 L1293.4,221.3 L1293.9,224.0 L1294.4,233.2 L1294.9,191.2 L1295.4,253.0 L1295.8,194.0 L1296.3,268.9 L1296.8,220.8 L1297.3,202.9 L1297.8,204.9 L1298.3,267.6 L1298.8,157.4 L1299.3,263.9 L1299.8,200.1 L1300.2,228.0 L1300.7,237.2 L1301.2,233.5 L1301.7,216.0 L1302.2,269.0 L1302.7,204.0 L1303.2,221.1 L1303.7,248.5 L1304.2,210.0 L1304.7,240.3 L1305.1,196.0 L1305.6,229.3 L1306.1,164.5 L1306.6,249.4 L1307.1,179.0 L1307.6,245.5 L1308.1,192.5 L1308.6,259.7 L1309.1,242.3 L1309.5,284.5 L1310.0,226.7 L1310.5,238.3 L1311.0,290.2 L1311.5,268.2 L1312.0,246.8 L1312.5,266.1 L1313.0,262.8 L1313.5,241.9 L1314.0,299.7 L1314.4,237.5 L1314.9,286.1 L1315.4,248.7 L1315.9,255.4 L1316.4,281.0 L1316.9,232.2 L1317.4,275.5 L1317.9,247.3 L1318.4,245.8 L1318.8,272.0 L1319.3,248.3 L1319.8,185.1 L1320.3,297.0 L1320.8,241.8 L1321.3,249.9 L1321.8,226.0 L1322.3,273.7 L1322.8,268.8 L1323.3,194.7 L1323.7,236.2 L1324.2,223.4 L1324.7,245.3 L1325.2,232.6 L1325.7,223.0 L1326.2,240.4 L1326.7,264.7 L1327.2,234.0 L1327.7,277.3 L1328.1,238.6 L1328.6,257.2 L1329.1,277.2 L1329.6,230.3 L1330.5,262.0 L1331.0,200.0 L1331.3,120.0 L1331.6,52.0 L1332.3,105.0 L1332.9,56.0 L1333.5,115.0 L1334.1,58.0 L1334.8,120.0 L1335.4,75.0 L1336.1,130.0 L1336.8,78.0 L1337.3,112.0 L1337.9,125.0 L1338.7,152.0 L1339.4,190.0 L1340.0,176.0 L1340.7,238.0 L1341.3,226.0 L1342.0,306.0 L1342.6,250.0 L1343.2,300.0 L1343.8,254.9 L1344.3,264.5 L1344.8,251.6 L1345.3,275.8 L1345.8,255.2 L1346.3,271.9 L1346.7,282.4 L1347.2,253.0 L1347.7,275.1 L1348.2,267.3 L1348.7,255.6 L1349.2,254.4 L1349.7,248.7 L1350.2,225.2 L1350.7,269.8 L1351.2,256.4 L1351.6,213.1 L1352.1,233.2 L1352.6,240.4 L1353.1,228.6 L1353.6,240.0 L1354.1,231.6 L1354.6,245.5 L1355.1,218.2 L1355.6,250.1 L1356.0,249.5 L1356.5,250.8 L1357.0,285.3 L1357.5,220.2 L1358.0,242.6 L1358.5,246.2 L1359.0,207.8 L1359.5,256.3 L1360.0,238.1 L1360.5,215.6 L1360.9,235.6 L1361.4,224.9 L1361.9,275.7 L1362.4,205.6 L1362.9,256.8 L1363.4,248.9 L1363.9,252.9 L1364.4,258.1 L1364.9,239.1 L1365.3,308.0 L1365.8,307.0 L1366.3,263.8 L1366.8,285.3 L1367.3,314.6 L1367.8,243.2 L1368.3,275.1 L1368.8,296.0 L1369.3,292.3 L1369.8,234.0 L1370.2,224.4 L1370.7,294.5 L1371.2,240.9 L1371.7,249.9 L1372.2,276.0 L1372.7,216.8 L1373.2,269.9 L1373.7,236.7 L1374.2,253.4 L1374.6,248.4 L1375.1,253.9 L1375.6,225.3 L1376.1,276.3 L1376.6,268.1 L1377.1,240.9 L1377.6,266.6 L1378.1,284.2 L1378.6,229.4 L1379.1,241.3 L1379.5,248.3 L1380.0,258.3 L1380.5,254.2 L1381.0,249.5 L1381.5,210.2 L1382.0,275.8 L1382.5,218.3 L1383.0,283.0 L1383.5,243.5 L1383.9,270.9 L1384.4,288.7 L1384.9,246.6 L1385.4,278.4 L1385.9,254.4 L1386.4,273.2 L1386.9,253.0 L1387.4,267.3 L1387.9,238.5 L1388.4,279.3 L1388.8,256.5 L1389.3,251.1 L1389.8,262.0 L1390.3,295.3 L1390.8,208.6 L1391.3,231.3 L1391.8,247.4 L1392.3,225.4 L1392.8,248.0 L1393.2,242.7 L1393.7,219.8 L1394.2,263.1 L1394.7,216.0 L1395.2,242.0 L1395.7,249.4 L1396.2,195.2 L1396.7,227.9 L1397.2,215.9 L1397.7,232.7 L1398.1,233.9 L1398.6,247.7 L1399.1,208.8 L1399.6,206.9 L1400.1,278.3 L1400.6,231.0 L1401.1,253.1 L1401.6,238.5 L1402.1,226.7 L1402.5,279.6 L1403.0,205.7 L1403.5,246.3 L1404.0,243.6 L1404.5,238.8 L1405.0,196.7 L1405.5,259.8 L1406.0,213.0 L1406.5,243.2 L1406.9,218.3 L1407.4,262.7 L1407.9,205.3 L1408.4,228.0 L1408.9,235.7 L1409.4,232.4 L1409.9,239.9 L1410.4,204.1 L1410.9,269.2 L1411.4,248.6 L1411.8,244.1 L1412.3,286.8 L1412.8,229.5 L1413.3,242.8 L1413.8,294.5 L1414.3,248.6 L1414.8,283.3 L1415.3,236.4 L1415.8,304.0 L1416.2,287.9 L1416.7,246.2 L1417.2,288.9 L1417.7,212.4 L1418.2,273.1 L1418.7,215.7 L1419.2,268.2 L1419.7,245.0 L1420.2,291.0 L1420.7,281.0 L1421.1,208.6 L1421.6,296.6 L1422.1,254.8 L1422.6,257.2 L1423.1,223.9 L1423.6,262.3 L1424.1,192.1 L1424.6,195.2 L1425.1,219.0 L1425.5,229.5 L1426.0,230.8 L1426.5,180.4 L1427.0,209.7 L1427.5,178.8 L1428.0,252.8 L1428.5,250.0 L1429.0,206.2 L1429.5,241.8 L1430.0,160.2 L1430.4,170.4 L1430.9,235.0 L1431.4,119.9 L1431.9,234.0 L1432.4,194.6 L1432.9,236.0 L1433.4,182.4 L1433.9,219.3 L1434.4,207.6 L1434.8,243.2 L1435.3,231.3 L1435.8,225.1 L1436.3,265.9 L1436.8,242.9 L1437.3,220.4 L1437.8,258.1 L1438.3,184.2 L1438.8,211.7 L1439.3,241.4 L1439.7,223.1 L1440.2,189.2 L1440.7,160.0 L1441.2,235.3 L1441.7,174.2 L1442.2,231.8 L1442.7,168.5 L1443.2,224.9 L1443.7,162.5 L1444.1,210.5 L1444.6,201.9 L1445.1,152.0 L1445.6,228.5 L1446.1,271.5 L1446.6,195.0 L1447.1,240.1 L1447.6,235.1 L1448.1,250.0 L1448.6,235.8 L1449.0,276.6 L1449.5,269.7 L1450.0,251.1 L1450.5,290.9 L1451.0,304.7 L1451.5,239.0 L1452.0,262.8 L1452.5,249.3 L1453.0,220.0 L1453.4,276.1 L1453.9,237.9 L1454.4,272.1 L1454.9,283.8 L1455.4,240.8 L1455.9,285.8 L1456.4,237.3 L1456.9,278.5 L1457.4,247.6 L1457.9,277.3 L1458.3,252.9 L1458.8,234.7 L1459.3,284.4 L1459.8,253.5 L1460.3,259.9 L1460.8,271.3 L1461.3,256.4 L1461.8,282.0 L1462.3,299.7 L1462.7,246.8 L1463.2,279.5 L1463.7,245.2 L1464.2,283.1 L1464.7,221.7 L1465.2,280.6 L1465.7,224.9 L1466.2,202.8 L1466.7,269.1 L1467.2,255.4 L1467.6,235.6 L1468.1,248.1 L1468.6,259.1 L1469.1,273.8 L1469.6,229.2 L1470.1,256.2 L1470.6,262.9 L1471.1,246.1 L1471.6,258.7 L1472.0,250.9 L1472.5,264.3 L1473.0,268.1 L1473.5,232.6 L1474.0,262.5 L1474.5,217.6 L1475.0,285.8 L1475.5,271.2 L1476.0,249.9 L1476.5,264.3 L1476.9,283.1 L1477.4,236.0 L1477.9,260.8 L1478.4,253.1 L1478.9,259.7 L1479.4,256.8 L1479.9,246.8 L1480.4,278.4 L1480.9,218.8 L1481.3,278.7 L1481.8,261.4 L1482.3,257.7 L1482.8,251.8 L1483.3,260.2 L1483.8,276.6 L1484.3,235.8 L1484.8,265.4 L1485.3,245.2 L1485.8,266.5 L1486.2,237.3 L1486.7,261.2 L1487.2,232.1 L1487.7,285.6 L1488.2,239.8 L1488.7,274.1 L1489.2,294.9 L1489.7,217.8 L1490.2,249.2 L1490.6,248.2 L1491.1,278.0 L1491.7,264.0 L1492.4,225.0 L1493.1,255.0 L1493.7,184.0 L1494.1,200.0 L1494.5,140.0 L1494.9,195.0 L1495.3,128.0 L1495.7,180.0 L1496.1,101.0 L1496.5,150.0 L1497.0,112.0" fill="none" stroke="#c63a62" stroke-width="2.0" stroke-linejoin="round"/>
<rect x="127.5" y="23.8" width="1370.3" height="617.0" fill="none" stroke="#4c4c4c" stroke-width="2"/>
<g font-family="'DejaVu Sans','Liberation Sans',sans-serif" font-size="12.9" fill="#262626" stroke="#262626" stroke-width="0.45">
<line x1="123.0" y1="564.5" x2="127.5" y2="564.5" stroke="#4c4c4c" stroke-width="1.7"/>
<text x="116.8" y="569.2" text-anchor="end">0.8</text>
<line x1="123.0" y1="488.2" x2="127.5" y2="488.2" stroke="#4c4c4c" stroke-width="1.7"/>
<text x="116.8" y="492.9" text-anchor="end">1.6</text>
<line x1="123.0" y1="412.0" x2="127.5" y2="412.0" stroke="#4c4c4c" stroke-width="1.7"/>
<text x="116.8" y="416.7" text-anchor="end">2.4</text>
<line x1="123.0" y1="335.7" x2="127.5" y2="335.7" stroke="#4c4c4c" stroke-width="1.7"/>
<text x="116.8" y="340.4" text-anchor="end">3.2</text>
<line x1="123.0" y1="259.4" x2="127.5" y2="259.4" stroke="#4c4c4c" stroke-width="1.7"/>
<text x="116.8" y="264.1" text-anchor="end">4.0</text>
<line x1="123.0" y1="183.1" x2="127.5" y2="183.1" stroke="#4c4c4c" stroke-width="1.7"/>
<text x="116.8" y="187.8" text-anchor="end">4.8</text>
<line x1="123.0" y1="106.8" x2="127.5" y2="106.8" stroke="#4c4c4c" stroke-width="1.7"/>
<text x="116.8" y="111.5" text-anchor="end">5.6</text>
<line x1="123.0" y1="30.6" x2="127.5" y2="30.6" stroke="#4c4c4c" stroke-width="1.7"/>
<text x="116.8" y="35.3" text-anchor="end">6.4</text>
<line x1="127.5" y1="640.8" x2="127.5" y2="645.3" stroke="#4c4c4c" stroke-width="1.7"/>
<text x="127.5" y="661.2" text-anchor="middle">0</text>
<line x1="401.6" y1="640.8" x2="401.6" y2="645.3" stroke="#4c4c4c" stroke-width="1.7"/>
<text x="401.6" y="661.2" text-anchor="middle">20</text>
<line x1="675.6" y1="640.8" x2="675.6" y2="645.3" stroke="#4c4c4c" stroke-width="1.7"/>
<text x="675.6" y="661.2" text-anchor="middle">40</text>
<line x1="949.7" y1="640.8" x2="949.7" y2="645.3" stroke="#4c4c4c" stroke-width="1.7"/>
<text x="949.7" y="661.2" text-anchor="middle">60</text>
<line x1="1223.7" y1="640.8" x2="1223.7" y2="645.3" stroke="#4c4c4c" stroke-width="1.7"/>
<text x="1223.7" y="661.2" text-anchor="middle">80</text>
<line x1="1497.8" y1="640.8" x2="1497.8" y2="645.3" stroke="#4c4c4c" stroke-width="1.7"/>
<text x="1497.8" y="661.2" text-anchor="middle">100</text>
</g>
<g font-family="'DejaVu Sans','Liberation Sans',sans-serif" font-size="12.9" fill="#cb3f6b" stroke="#cb3f6b" stroke-width="0.3">
<line x1="1497.8" y1="575.0" x2="1502.3" y2="575.0" stroke="#4c4c4c" stroke-width="1.7"/>
<text x="1507.2" y="579.7">0.8</text>
<line x1="1497.8" y1="508.7" x2="1502.3" y2="508.7" stroke="#4c4c4c" stroke-width="1.7"/>
<text x="1507.2" y="513.4">1.6</text>
<line x1="1497.8" y1="442.5" x2="1502.3" y2="442.5" stroke="#4c4c4c" stroke-width="1.7"/>
<text x="1507.2" y="447.2">2.4</text>
<line x1="1497.8" y1="376.2" x2="1502.3" y2="376.2" stroke="#4c4c4c" stroke-width="1.7"/>
<text x="1507.2" y="380.9">3.2</text>
<line x1="1497.8" y1="310.0" x2="1502.3" y2="310.0" stroke="#4c4c4c" stroke-width="1.7"/>
<text x="1507.2" y="314.7">4.0</text>
<line x1="1497.8" y1="243.8" x2="1502.3" y2="243.8" stroke="#4c4c4c" stroke-width="1.7"/>
<text x="1507.2" y="248.5">4.8</text>
<line x1="1497.8" y1="177.5" x2="1502.3" y2="177.5" stroke="#4c4c4c" stroke-width="1.7"/>
<text x="1507.2" y="182.2">5.6</text>
<line x1="1497.8" y1="111.3" x2="1502.3" y2="111.3" stroke="#4c4c4c" stroke-width="1.7"/>
<text x="1507.2" y="116.0">6.4</text>
<line x1="1497.8" y1="45.0" x2="1502.3" y2="45.0" stroke="#4c4c4c" stroke-width="1.7"/>
<text x="1507.2" y="49.7">7.2</text>
</g>
<text x="812.7" y="685.3" text-anchor="middle" font-family="'DejaVu Sans','Liberation Sans',sans-serif" font-size="21.6" fill="#000" stroke="#000" stroke-width="0.45">Time (nsec)</text>
<text transform="translate(84.8,332) rotate(-90)" text-anchor="middle" font-family="'DejaVu Sans','Liberation Sans',sans-serif" font-size="22" fill="#000" stroke="#000" stroke-width="0.45">Protein RMSD (<tspan font-style="italic">Å</tspan>)</text>
<text transform="translate(1536.6,334) rotate(90)" text-anchor="middle" font-family="'DejaVu Sans','Liberation Sans',sans-serif" font-size="22" fill="#c2305a" stroke="#c2305a" stroke-width="0.4">Ligand RMSD (<tspan font-style="italic">Å</tspan>)</text>
</g>
<text transform="translate(0,76.2) scale(0.9,1)" x="20.17 42.59 86.27" y="-1 0 -1" font-family="'Liberation Sans',sans-serif" font-weight="bold" font-size="56.8" stroke="#000" stroke-width="1.1" fill="#000">(A)</text>
<text transform="translate(0,718.9) scale(0.9,1)" x="21.78 42.98 84.00" y="-1 0 -1" font-family="'Liberation Sans',sans-serif" font-weight="bold" font-size="56.8" stroke="#000" stroke-width="1.1" fill="#000">(B)</text>
<g id="panelB">
<rect x="123.2" y="712.3" width="1430.5" height="479.4000000000001" fill="none" stroke="#4c4c4c" stroke-width="2"/>
<g font-family="'DejaVu Sans','Liberation Sans',sans-serif" font-size="13" fill="#262626" stroke="#262626" stroke-width="0.45">
<line x1="118.2" y1="1191.7" x2="123.2" y2="1191.7" stroke="#4c4c4c" stroke-width="1.7"/>
<text x="111.6" y="1196.5" text-anchor="end">0.0</text>
<line x1="118.2" y1="1127.5" x2="123.2" y2="1127.5" stroke="#4c4c4c" stroke-width="1.7"/>
<text x="111.6" y="1132.3" text-anchor="end">0.5</text>
<line x1="118.2" y1="1063.3" x2="123.2" y2="1063.3" stroke="#4c4c4c" stroke-width="1.7"/>
<text x="111.6" y="1068.1" text-anchor="end">1.0</text>
<line x1="118.2" y1="999.1" x2="123.2" y2="999.1" stroke="#4c4c4c" stroke-width="1.7"/>
<text x="111.6" y="1003.9" text-anchor="end">1.5</text>
<line x1="118.2" y1="934.9" x2="123.2" y2="934.9" stroke="#4c4c4c" stroke-width="1.7"/>
<text x="111.6" y="939.7" text-anchor="end">2.0</text>
<line x1="118.2" y1="870.7" x2="123.2" y2="870.7" stroke="#4c4c4c" stroke-width="1.7"/>
<text x="111.6" y="875.5" text-anchor="end">2.5</text>
<line x1="118.2" y1="806.5" x2="123.2" y2="806.5" stroke="#4c4c4c" stroke-width="1.7"/>
<text x="111.6" y="811.3" text-anchor="end">3.0</text>
<line x1="118.2" y1="742.3" x2="123.2" y2="742.3" stroke="#4c4c4c" stroke-width="1.7"/>
<text x="111.6" y="747.1" text-anchor="end">3.5</text>
</g>
<g font-family="'DejaVu Sans','Liberation Sans',sans-serif" font-size="13.1" fill="#262626" stroke="#262626" stroke-width="0.55">
<line x1="166.0" y1="1191.7" x2="166.0" y2="1196.7" stroke="#4c4c4c" stroke-width="1.7"/>
<text transform="translate(169.5,1204.4) rotate(-90)" text-anchor="end">1</text>
<line x1="209.4" y1="1191.7" x2="209.4" y2="1196.7" stroke="#4c4c4c" stroke-width="1.7"/>
<text transform="translate(212.9,1204.4) rotate(-90)" text-anchor="end">2</text>
<line x1="252.7" y1="1191.7" x2="252.7" y2="1196.7" stroke="#4c4c4c" stroke-width="1.7"/>
<text transform="translate(256.2,1204.4) rotate(-90)" text-anchor="end">3</text>
<line x1="296.1" y1="1191.7" x2="296.1" y2="1196.7" stroke="#4c4c4c" stroke-width="1.7"/>
<text transform="translate(299.6,1204.4) rotate(-90)" text-anchor="end">4</text>
<line x1="339.5" y1="1191.7" x2="339.5" y2="1196.7" stroke="#4c4c4c" stroke-width="1.7"/>
<text transform="translate(343.0,1204.4) rotate(-90)" text-anchor="end">5</text>
<line x1="382.9" y1="1191.7" x2="382.9" y2="1196.7" stroke="#4c4c4c" stroke-width="1.7"/>
<text transform="translate(386.4,1204.4) rotate(-90)" text-anchor="end">6</text>
<line x1="426.2" y1="1191.7" x2="426.2" y2="1196.7" stroke="#4c4c4c" stroke-width="1.7"/>
<text transform="translate(429.7,1204.4) rotate(-90)" text-anchor="end">7</text>
<line x1="469.6" y1="1191.7" x2="469.6" y2="1196.7" stroke="#4c4c4c" stroke-width="1.7"/>
<text transform="translate(473.1,1204.4) rotate(-90)" text-anchor="end">8</text>
<line x1="513.0" y1="1191.7" x2="513.0" y2="1196.7" stroke="#4c4c4c" stroke-width="1.7"/>
<text transform="translate(516.5,1204.4) rotate(-90)" text-anchor="end">9</text>
<line x1="556.3" y1="1191.7" x2="556.3" y2="1196.7" stroke="#4c4c4c" stroke-width="1.7"/>
<text transform="translate(559.8,1204.4) rotate(-90)" text-anchor="end">10</text>
<line x1="599.7" y1="1191.7" x2="599.7" y2="1196.7" stroke="#4c4c4c" stroke-width="1.7"/>
<text transform="translate(603.2,1204.4) rotate(-90)" text-anchor="end">11</text>
<line x1="643.1" y1="1191.7" x2="643.1" y2="1196.7" stroke="#4c4c4c" stroke-width="1.7"/>
<text transform="translate(646.6,1204.4) rotate(-90)" text-anchor="end">12</text>
<line x1="686.4" y1="1191.7" x2="686.4" y2="1196.7" stroke="#4c4c4c" stroke-width="1.7"/>
<text transform="translate(689.9,1204.4) rotate(-90)" text-anchor="end">13</text>
<line x1="729.8" y1="1191.7" x2="729.8" y2="1196.7" stroke="#4c4c4c" stroke-width="1.7"/>
<text transform="translate(733.3,1204.4) rotate(-90)" text-anchor="end">14</text>
<line x1="773.2" y1="1191.7" x2="773.2" y2="1196.7" stroke="#4c4c4c" stroke-width="1.7"/>
<text transform="translate(776.7,1204.4) rotate(-90)" text-anchor="end">15</text>
<line x1="816.5" y1="1191.7" x2="816.5" y2="1196.7" stroke="#4c4c4c" stroke-width="1.7"/>
<text transform="translate(820.0,1204.4) rotate(-90)" text-anchor="end">16</text>
<line x1="859.9" y1="1191.7" x2="859.9" y2="1196.7" stroke="#4c4c4c" stroke-width="1.7"/>
<text transform="translate(863.4,1204.4) rotate(-90)" text-anchor="end">17</text>
<line x1="903.3" y1="1191.7" x2="903.3" y2="1196.7" stroke="#4c4c4c" stroke-width="1.7"/>
<text transform="translate(906.8,1204.4) rotate(-90)" text-anchor="end">18</text>
<line x1="946.7" y1="1191.7" x2="946.7" y2="1196.7" stroke="#4c4c4c" stroke-width="1.7"/>
<text transform="translate(950.2,1204.4) rotate(-90)" text-anchor="end">19</text>
<line x1="990.0" y1="1191.7" x2="990.0" y2="1196.7" stroke="#4c4c4c" stroke-width="1.7"/>
<text transform="translate(993.5,1204.4) rotate(-90)" text-anchor="end">20</text>
<line x1="1033.4" y1="1191.7" x2="1033.4" y2="1196.7" stroke="#4c4c4c" stroke-width="1.7"/>
<text transform="translate(1036.9,1204.4) rotate(-90)" text-anchor="end">21</text>
<line x1="1076.8" y1="1191.7" x2="1076.8" y2="1196.7" stroke="#4c4c4c" stroke-width="1.7"/>
<text transform="translate(1080.3,1204.4) rotate(-90)" text-anchor="end">22</text>
<line x1="1120.1" y1="1191.7" x2="1120.1" y2="1196.7" stroke="#4c4c4c" stroke-width="1.7"/>
<text transform="translate(1123.6,1204.4) rotate(-90)" text-anchor="end">23</text>
<line x1="1163.5" y1="1191.7" x2="1163.5" y2="1196.7" stroke="#4c4c4c" stroke-width="1.7"/>
<text transform="translate(1167.0,1204.4) rotate(-90)" text-anchor="end">24</text>
<line x1="1206.9" y1="1191.7" x2="1206.9" y2="1196.7" stroke="#4c4c4c" stroke-width="1.7"/>
<text transform="translate(1210.4,1204.4) rotate(-90)" text-anchor="end">25</text>
<line x1="1250.2" y1="1191.7" x2="1250.2" y2="1196.7" stroke="#4c4c4c" stroke-width="1.7"/>
<text transform="translate(1253.8,1204.4) rotate(-90)" text-anchor="end">26</text>
<line x1="1293.6" y1="1191.7" x2="1293.6" y2="1196.7" stroke="#4c4c4c" stroke-width="1.7"/>
<text transform="translate(1297.1,1204.4) rotate(-90)" text-anchor="end">27</text>
<line x1="1337.0" y1="1191.7" x2="1337.0" y2="1196.7" stroke="#4c4c4c" stroke-width="1.7"/>
<text transform="translate(1340.5,1204.4) rotate(-90)" text-anchor="end">28</text>
<line x1="1380.4" y1="1191.7" x2="1380.4" y2="1196.7" stroke="#4c4c4c" stroke-width="1.7"/>
<text transform="translate(1383.9,1204.4) rotate(-90)" text-anchor="end">29</text>
<line x1="1423.7" y1="1191.7" x2="1423.7" y2="1196.7" stroke="#4c4c4c" stroke-width="1.7"/>
<text transform="translate(1427.2,1204.4) rotate(-90)" text-anchor="end">30</text>
<line x1="1467.1" y1="1191.7" x2="1467.1" y2="1196.7" stroke="#4c4c4c" stroke-width="1.7"/>
<text transform="translate(1470.6,1204.4) rotate(-90)" text-anchor="end">31</text>
<line x1="1510.5" y1="1191.7" x2="1510.5" y2="1196.7" stroke="#4c4c4c" stroke-width="1.7"/>
<text transform="translate(1514.0,1204.4) rotate(-90)" text-anchor="end">32</text>
</g>
<path d="M166.0,829.9 L209.4,902.8 L252.7,967.1 L296.1,921.8 L339.5,827.1 L382.9,833.1 L426.2,859.4 L469.6,861.0 L513.0,890.1 L556.3,904.7 L599.7,871.1 L643.1,869.5 L686.4,820.7 L729.8,808.0 L773.2,843.2 L816.5,895.5 L859.9,906.9 L903.3,932.3 L946.7,951.3 L990.0,831.8 L1033.4,786.2 L1076.8,770.3 L1120.1,1032.4 L1163.5,1002.3 L1206.9,1010.2 L1250.2,985.5 L1293.6,886.0 L1337.0,926.9 L1380.4,847.5 L1423.7,752.7 L1467.1,727.1 L1510.5,786.3" fill="none" stroke="#bf2553" stroke-width="2.1" stroke-linejoin="miter"/>
<text x="838" y="1239.3" text-anchor="middle" font-family="'DejaVu Sans','Liberation Sans',sans-serif" font-size="17.2" fill="#000" stroke="#000" stroke-width="0.45">Atom Index</text>
<text transform="translate(81,951.8) rotate(-90)" text-anchor="middle" font-family="'DejaVu Sans','Liberation Sans',sans-serif" font-size="16" fill="#000" stroke="#000" stroke-width="0.45">RMSF (<tspan font-style="italic">Å</tspan>)</text>
<g stroke="#000" stroke-width="1.9" stroke-linecap="butt">
<line x1="564.4" y1="987.7" x2="572.4" y2="1015.5"/>
<line x1="569.4" y1="986.2" x2="577.4" y2="1014.0"/>
<line x1="589.1" y1="1029.1" x2="610.9" y2="1036.8"/>
<line x1="633.9" y1="1033.1" x2="653.9" y2="1020.0"/>
<line x1="671.0" y1="1020.2" x2="694.5" y2="1031.5"/>
<line x1="712.1" y1="1032.4" x2="739.5" y2="1018.4"/>
<line x1="752.5" y1="1023.4" x2="773.8" y2="1044.0"/>
<line x1="756.1" y1="1019.6" x2="777.4" y2="1040.2"/>
<line x1="778.8" y1="1057.3" x2="768.2" y2="1078.5"/>
<line x1="748.2" y1="1087.7" x2="726.5" y2="1084.3"/>
<line x1="747.4" y1="1092.9" x2="725.7" y2="1089.5"/>
<line x1="710.7" y1="1073.6" x2="706.5" y2="1047.5"/>
<line x1="568.4" y1="1035.6" x2="555.1" y2="1050.2"/>
<line x1="528.7" y1="1061.8" x2="514.0" y2="1062.8"/>
<line x1="487.7" y1="1076.3" x2="479.3" y2="1092.2"/>
<line x1="492.3" y1="1078.7" x2="483.9" y2="1094.6"/>
<line x1="479.7" y1="1115.6" x2="494.7" y2="1140.0"/>
<line x1="517.1" y1="1150.2" x2="532.6" y2="1149.4"/>
<line x1="516.8" y1="1145.0" x2="532.3" y2="1144.2"/>
<line x1="556.4" y1="1131.9" x2="564.1" y2="1116.6"/>
<line x1="568.0" y1="1092.7" x2="553.0" y2="1068.0"/>
<line x1="563.6" y1="1095.4" x2="548.6" y2="1070.7"/>
<line x1="585.4" y1="1098.4" x2="603.8" y2="1093.0"/>
<line x1="619.3" y1="1075.1" x2="621.0" y2="1054.4"/>
<line x1="624.5" y1="1097.2" x2="646.5" y2="1115.4"/>
<line x1="627.8" y1="1093.2" x2="649.8" y2="1111.4"/>
<line x1="792.3" y1="1047.7" x2="820.7" y2="1043.4"/>
<line x1="836.6" y1="1049.6" x2="855.6" y2="1071.6"/>
<line x1="871.9" y1="1080.4" x2="899.7" y2="1076.3"/>
<line x1="871.2" y1="1075.2" x2="899.0" y2="1071.1"/>
<line x1="912.3" y1="1063.3" x2="923.1" y2="1035.7"/>
<line x1="922.4" y1="1017.2" x2="905.6" y2="995.9"/>
<line x1="918.4" y1="1020.5" x2="901.6" y2="999.2"/>
<line x1="936.1" y1="1025.3" x2="957.3" y2="1022.2"/>
<line x1="978.0" y1="1029.1" x2="998.3" y2="1051.8"/>
<line x1="981.8" y1="1025.6" x2="1002.1" y2="1048.3"/>
<line x1="1000.4" y1="1072.0" x2="993.4" y2="1087.9"/>
<line x1="970.7" y1="1102.4" x2="955.0" y2="1104.9"/>
<line x1="971.5" y1="1107.5" x2="955.8" y2="1110.0"/>
<line x1="933.3" y1="1102.3" x2="915.1" y2="1080.0"/>
<line x1="933.8" y1="1125.4" x2="928.3" y2="1140.2"/>
<line x1="993.3" y1="1110.1" x2="1010.8" y2="1130.8"/>
<line x1="1023.3" y1="1055.8" x2="1035.0" y2="1054.6"/>
<line x1="1059.8" y1="1038.7" x2="1067.3" y2="1019.5"/>
<line x1="1054.9" y1="1036.8" x2="1062.4" y2="1017.6"/>
<line x1="1064.3" y1="995.8" x2="1046.5" y2="974.5"/>
<line x1="1024.1" y1="967.4" x2="1007.0" y2="970.9"/>
<line x1="1025.1" y1="972.5" x2="1008.0" y2="976.0"/>
<line x1="985.7" y1="991.1" x2="979.6" y2="1005.3"/>
</g>
<g font-family="'Liberation Sans',sans-serif" font-size="20.5" text-anchor="middle" stroke-width="0.55">
<text transform="translate(563.9,976.6) rotate(-38)" y="7.2" fill="#ff0000" stroke="#ff0000">20</text>
<text transform="translate(577.9,1025.1) rotate(-38)" y="7.2" fill="#000" stroke="#000">11</text>
<text transform="translate(622.1,1040.8) rotate(-38)" y="7.2" fill="#0000ff" stroke="#0000ff">10</text>
<text transform="translate(660.9,1015.4) rotate(-38)" y="7.2" fill="#000" stroke="#000">9</text>
<text transform="translate(704.6,1036.3) rotate(-38)" y="7.2" fill="#0000ff" stroke="#0000ff">8</text>
<text transform="translate(747.0,1014.5) rotate(-38)" y="7.2" fill="#000" stroke="#000">7</text>
<text transform="translate(545.6,1060.7) rotate(-38)" y="7.2" fill="#000" stroke="#000">12</text>
<text transform="translate(497.1,1063.9) rotate(-38)" y="7.2" fill="#000" stroke="#000">13</text>
<text transform="translate(474.5,1107.0) rotate(-38)" y="7.2" fill="#000" stroke="#000">14</text>
<text transform="translate(499.9,1148.6) rotate(-38)" y="7.2" fill="#000" stroke="#000">15</text>
<text transform="translate(549.5,1145.8) rotate(-38)" y="7.2" fill="#000" stroke="#000">16</text>
<text transform="translate(571.0,1102.7) rotate(-38)" y="7.2" fill="#000" stroke="#000">17</text>
<text transform="translate(618.2,1088.7) rotate(-38)" y="7.2" fill="#000" stroke="#000">18</text>
<text transform="translate(656.1,1119.9) rotate(-38)" y="7.2" fill="#ff0000" stroke="#ff0000">19</text>
<text transform="translate(712.6,1084.8) rotate(-38)" y="7.2" fill="#0000ff" stroke="#0000ff">21</text>
<text transform="translate(761.3,1092.4) rotate(-38)" y="7.2" fill="#0000ff" stroke="#0000ff">22</text>
<text transform="translate(782.9,1049.1) rotate(-38)" y="7.2" fill="#000" stroke="#000">6</text>
<text transform="translate(830.1,1042.0) rotate(-38)" y="7.2" fill="#000" stroke="#000">5</text>
<text transform="translate(862.1,1079.2) rotate(-38)" y="7.2" fill="#0000ff" stroke="#0000ff">4</text>
<text transform="translate(908.8,1072.3) rotate(-38)" y="7.2" fill="#000" stroke="#000">3</text>
<text transform="translate(926.6,1026.7) rotate(-38)" y="7.2" fill="#000" stroke="#000">2</text>
<text transform="translate(897.4,989.7) rotate(-38)" y="7.2" fill="#ff0000" stroke="#ff0000">1</text>
<text transform="translate(973.2,1019.9) rotate(-38)" y="7.2" fill="#000" stroke="#000">27</text>
<text transform="translate(1006.9,1057.5) rotate(-38)" y="7.2" fill="#000" stroke="#000">28</text>
<text transform="translate(986.9,1102.4) rotate(-38)" y="7.2" fill="#000" stroke="#000">25</text>
<text transform="translate(939.6,1110.0) rotate(-38)" y="7.2" fill="#000" stroke="#000">23</text>
<text transform="translate(922.5,1155.6) rotate(-38)" y="7.2" fill="#b06a10" stroke="#b06a10">24</text>
<text transform="translate(1017.2,1138.5) rotate(-38)" y="7.2" fill="#ff0000" stroke="#ff0000">26</text>
<text transform="translate(1051.4,1052.9) rotate(-38)" y="7.2" fill="#000" stroke="#000">29</text>
<text transform="translate(1070.8,1003.4) rotate(-38)" y="7.2" fill="#000" stroke="#000">30</text>
<text transform="translate(1040.0,966.9) rotate(-38)" y="7.2" fill="#000" stroke="#000">31</text>
<text transform="translate(992.1,976.5) rotate(-38)" y="7.2" fill="#000" stroke="#000">32</text>
</g>
</g>
</g>
<g id="figC">
<rect x="0" y="1250" width="1578" height="612" fill="#fff"/>
<text transform="translate(0,1305.4) scale(0.9,1)" x="20.17 40.23 80.72" y="-1 0 -1" font-family="'Liberation Sans',sans-serif" font-weight="bold" font-size="56.8" stroke="#000" stroke-width="1.1" fill="#000">(C)</text>
<g id="panelC">
<rect x="165.4" y="1742.2" width="36.9" height="8.1" fill="#006ab5"/>
<rect x="211.9" y="1741.2" width="36.9" height="9.1" fill="#006ab5"/>
<rect x="304.9" y="1749.0" width="36.9" height="1.3" fill="#006ab5"/>
<rect x="398.0" y="1482.1" width="36.9" height="268.2" fill="#c3aed6"/>
<rect x="398.0" y="1479.2" width="36.9" height="2.8" fill="#006ab5"/>
<rect x="444.5" y="1711.2" width="36.9" height="39.1" fill="#48c97c"/>
<rect x="444.5" y="1709.3" width="36.9" height="1.9" fill="#ff0a84"/>
<rect x="444.5" y="1686.8" width="36.9" height="22.5" fill="#006ab5"/>
<rect x="491.0" y="1650.8" width="36.9" height="99.5" fill="#48c97c"/>
<rect x="491.0" y="1615.7" width="36.9" height="35.1" fill="#006ab5"/>
<rect x="537.5" y="1748.4" width="36.9" height="1.9" fill="#48c97c"/>
<rect x="537.5" y="1745.9" width="36.9" height="2.5" fill="#ff0a84"/>
<rect x="537.5" y="1656.4" width="36.9" height="89.5" fill="#006ab5"/>
<rect x="584.1" y="1609.8" width="36.9" height="140.5" fill="#006ab5"/>
<rect x="630.6" y="1744.0" width="36.9" height="6.3" fill="#48c97c"/>
<rect x="630.6" y="1732.5" width="36.9" height="11.6" fill="#c3aed6"/>
<rect x="630.6" y="1705.9" width="36.9" height="26.6" fill="#006ab5"/>
<rect x="677.1" y="1747.8" width="36.9" height="2.5" fill="#48c97c"/>
<rect x="677.1" y="1697.1" width="36.9" height="50.7" fill="#006ab5"/>
<rect x="723.6" y="1699.6" width="36.9" height="50.7" fill="#c3aed6"/>
<rect x="723.6" y="1698.0" width="36.9" height="1.6" fill="#006ab5"/>
<rect x="770.2" y="1427.3" width="36.9" height="323.0" fill="#48c97c"/>
<rect x="770.2" y="1417.6" width="36.9" height="9.7" fill="#ff0a84"/>
<rect x="770.2" y="1286.4" width="36.9" height="131.1" fill="#006ab5"/>
<rect x="863.2" y="1745.6" width="36.9" height="4.7" fill="#48c97c"/>
<rect x="863.2" y="1716.2" width="36.9" height="29.4" fill="#c3aed6"/>
<rect x="863.2" y="1713.7" width="36.9" height="2.5" fill="#ff0a84"/>
<rect x="863.2" y="1603.8" width="36.9" height="109.9" fill="#006ab5"/>
<rect x="909.8" y="1747.5" width="36.9" height="2.8" fill="#c3aed6"/>
<rect x="909.8" y="1746.2" width="36.9" height="1.3" fill="#006ab5"/>
<rect x="956.3" y="1739.3" width="36.9" height="11.0" fill="#c3aed6"/>
<rect x="1002.8" y="1731.8" width="36.9" height="18.5" fill="#006ab5"/>
<rect x="1142.4" y="1749.0" width="36.9" height="1.3" fill="#006ab5"/>
<rect x="1188.9" y="1480.8" width="36.9" height="269.5" fill="#006ab5"/>
<rect x="1235.4" y="1595.4" width="36.9" height="154.9" fill="#48c97c"/>
<rect x="1235.4" y="1578.1" width="36.9" height="17.2" fill="#006ab5"/>
<rect x="1281.9" y="1560.3" width="36.9" height="190.0" fill="#48c97c"/>
<rect x="1281.9" y="1470.2" width="36.9" height="90.1" fill="#c3aed6"/>
<rect x="1281.9" y="1428.5" width="36.9" height="41.6" fill="#006ab5"/>
<rect x="1328.5" y="1731.5" width="36.9" height="18.8" fill="#48c97c"/>
<rect x="1328.5" y="1693.3" width="36.9" height="38.2" fill="#006ab5"/>
<rect x="1375.0" y="1509.3" width="36.9" height="241.0" fill="#48c97c"/>
<rect x="1375.0" y="1505.5" width="36.9" height="3.8" fill="#c3aed6"/>
<rect x="1375.0" y="1502.1" width="36.9" height="3.4" fill="#006ab5"/>
<rect x="1421.5" y="1711.8" width="36.9" height="38.5" fill="#48c97c"/>
<rect x="1421.5" y="1699.6" width="36.9" height="12.2" fill="#c3aed6"/>
<rect x="1421.5" y="1695.5" width="36.9" height="4.1" fill="#006ab5"/>
<rect x="155.9" y="1261.8" width="1397.3" height="488.5" fill="none" stroke="#222" stroke-width="2.1"/>
<g font-family="'DejaVu Sans','Liberation Sans',sans-serif" font-size="23.6" fill="#000" stroke="#000" stroke-width="0.3">
<line x1="147.3" y1="1750.3" x2="155.9" y2="1750.3" stroke="#222" stroke-width="2"/>
<text x="137.6" y="1759.1" text-anchor="end">0.0</text>
<line x1="147.3" y1="1687.7" x2="155.9" y2="1687.7" stroke="#222" stroke-width="2"/>
<text x="137.6" y="1696.5" text-anchor="end">0.2</text>
<line x1="147.3" y1="1625.1" x2="155.9" y2="1625.1" stroke="#222" stroke-width="2"/>
<text x="137.6" y="1633.9" text-anchor="end">0.4</text>
<line x1="147.3" y1="1562.5" x2="155.9" y2="1562.5" stroke="#222" stroke-width="2"/>
<text x="137.6" y="1571.3" text-anchor="end">0.6</text>
<line x1="147.3" y1="1499.9" x2="155.9" y2="1499.9" stroke="#222" stroke-width="2"/>
<text x="137.6" y="1508.7" text-anchor="end">0.8</text>
<line x1="147.3" y1="1437.3" x2="155.9" y2="1437.3" stroke="#222" stroke-width="2"/>
<text x="137.6" y="1446.1" text-anchor="end">1.0</text>
<line x1="147.3" y1="1374.7" x2="155.9" y2="1374.7" stroke="#222" stroke-width="2"/>
<text x="137.6" y="1383.5" text-anchor="end">1.2</text>
<line x1="147.3" y1="1312.1" x2="155.9" y2="1312.1" stroke="#222" stroke-width="2"/>
<text x="137.6" y="1320.9" text-anchor="end">1.4</text>
</g>
<g font-family="'DejaVu Sans','Liberation Sans',sans-serif" font-size="20.8" fill="#000" stroke="#000" stroke-width="0.3" text-anchor="end">
<line x1="183.8" y1="1750.3" x2="183.8" y2="1758.8999999999999" stroke="#222" stroke-width="2"/>
<text transform="translate(193.4,1778.7) rotate(-45)">THR_340</text>
<line x1="230.3" y1="1750.3" x2="230.3" y2="1758.8999999999999" stroke="#222" stroke-width="2"/>
<text transform="translate(239.9,1778.7) rotate(-45)">GLY_341</text>
<line x1="276.9" y1="1750.3" x2="276.9" y2="1758.8999999999999" stroke="#222" stroke-width="2"/>
<text transform="translate(286.5,1778.7) rotate(-45)">LEU_513</text>
<line x1="323.4" y1="1750.3" x2="323.4" y2="1758.8999999999999" stroke="#222" stroke-width="2"/>
<text transform="translate(333.0,1778.7) rotate(-45)">ARG_542</text>
<line x1="369.9" y1="1750.3" x2="369.9" y2="1758.8999999999999" stroke="#222" stroke-width="2"/>
<text transform="translate(379.5,1778.7) rotate(-45)">VAL_606</text>
<line x1="416.4" y1="1750.3" x2="416.4" y2="1758.8999999999999" stroke="#222" stroke-width="2"/>
<text transform="translate(426.0,1778.7) rotate(-45)">TYR_609</text>
<line x1="462.9" y1="1750.3" x2="462.9" y2="1758.8999999999999" stroke="#222" stroke-width="2"/>
<text transform="translate(472.6,1778.7) rotate(-45)">ASN_612</text>
<line x1="509.5" y1="1750.3" x2="509.5" y2="1758.8999999999999" stroke="#222" stroke-width="2"/>
<text transform="translate(519.1,1778.7) rotate(-45)">SER_663</text>
<line x1="556.0" y1="1750.3" x2="556.0" y2="1758.8999999999999" stroke="#222" stroke-width="2"/>
<text transform="translate(565.6,1778.7) rotate(-45)">ASP_665</text>
<line x1="602.5" y1="1750.3" x2="602.5" y2="1758.8999999999999" stroke="#222" stroke-width="2"/>
<text transform="translate(612.1,1778.7) rotate(-45)">ASP_666</text>
<line x1="649.0" y1="1750.3" x2="649.0" y2="1758.8999999999999" stroke="#222" stroke-width="2"/>
<text transform="translate(658.6,1778.7) rotate(-45)">CYS_711</text>
<line x1="695.6" y1="1750.3" x2="695.6" y2="1758.8999999999999" stroke="#222" stroke-width="2"/>
<text transform="translate(705.2,1778.7) rotate(-45)">SER_712</text>
<line x1="742.1" y1="1750.3" x2="742.1" y2="1758.8999999999999" stroke="#222" stroke-width="2"/>
<text transform="translate(751.7,1778.7) rotate(-45)">HIS_713</text>
<line x1="788.6" y1="1750.3" x2="788.6" y2="1758.8999999999999" stroke="#222" stroke-width="2"/>
<text transform="translate(798.2,1778.7) rotate(-45)">ARG_731</text>
<line x1="835.2" y1="1750.3" x2="835.2" y2="1758.8999999999999" stroke="#222" stroke-width="2"/>
<text transform="translate(844.8,1778.7) rotate(-45)">GLU_735</text>
<line x1="881.7" y1="1750.3" x2="881.7" y2="1758.8999999999999" stroke="#222" stroke-width="2"/>
<text transform="translate(891.3,1778.7) rotate(-45)">ARG_739</text>
<line x1="928.2" y1="1750.3" x2="928.2" y2="1758.8999999999999" stroke="#222" stroke-width="2"/>
<text transform="translate(937.8,1778.7) rotate(-45)">VAL_742</text>
<line x1="974.7" y1="1750.3" x2="974.7" y2="1758.8999999999999" stroke="#222" stroke-width="2"/>
<text transform="translate(984.3,1778.7) rotate(-45)">PRO_744</text>
<line x1="1021.2" y1="1750.3" x2="1021.2" y2="1758.8999999999999" stroke="#222" stroke-width="2"/>
<text transform="translate(1030.8,1778.7) rotate(-45)">TYR_760</text>
<line x1="1067.8" y1="1750.3" x2="1067.8" y2="1758.8999999999999" stroke="#222" stroke-width="2"/>
<text transform="translate(1077.4,1778.7) rotate(-45)">TRP_764</text>
<line x1="1114.3" y1="1750.3" x2="1114.3" y2="1758.8999999999999" stroke="#222" stroke-width="2"/>
<text transform="translate(1123.9,1778.7) rotate(-45)">TYR_768</text>
<line x1="1160.8" y1="1750.3" x2="1160.8" y2="1758.8999999999999" stroke="#222" stroke-width="2"/>
<text transform="translate(1170.4,1778.7) rotate(-45)">ARG_794</text>
<line x1="1207.3" y1="1750.3" x2="1207.3" y2="1758.8999999999999" stroke="#222" stroke-width="2"/>
<text transform="translate(1216.9,1778.7) rotate(-45)">THR_795</text>
<line x1="1253.9" y1="1750.3" x2="1253.9" y2="1758.8999999999999" stroke="#222" stroke-width="2"/>
<text transform="translate(1263.5,1778.7) rotate(-45)">THR_796</text>
<line x1="1300.4" y1="1750.3" x2="1300.4" y2="1758.8999999999999" stroke="#222" stroke-width="2"/>
<text transform="translate(1310.0,1778.7) rotate(-45)">TRP_797</text>
<line x1="1346.9" y1="1750.3" x2="1346.9" y2="1758.8999999999999" stroke="#222" stroke-width="2"/>
<text transform="translate(1356.5,1778.7) rotate(-45)">SER_798</text>
<line x1="1393.4" y1="1750.3" x2="1393.4" y2="1758.8999999999999" stroke="#222" stroke-width="2"/>
<text transform="translate(1403.0,1778.7) rotate(-45)">ILE_799</text>
<line x1="1440.0" y1="1750.3" x2="1440.0" y2="1758.8999999999999" stroke="#222" stroke-width="2"/>
<text transform="translate(1449.6,1778.7) rotate(-45)">HIS_800</text>
<line x1="1486.5" y1="1750.3" x2="1486.5" y2="1758.8999999999999" stroke="#222" stroke-width="2"/>
<text transform="translate(1496.1,1778.7) rotate(-45)">GLY_801</text>
</g>
<text transform="translate(84.4,1506.2) rotate(-90)" text-anchor="middle" font-family="'DejaVu Sans','Liberation Sans',sans-serif" font-size="24.2" fill="#000" stroke="#000" stroke-width="0.3">Interactions Fraction</text>
</g>
</g>
<use href="#figAB" filter="url(#soft)" opacity="0.55"/>
<use href="#figC" filter="url(#soft)" opacity="0.3"/>
</svg>
</body></html>
